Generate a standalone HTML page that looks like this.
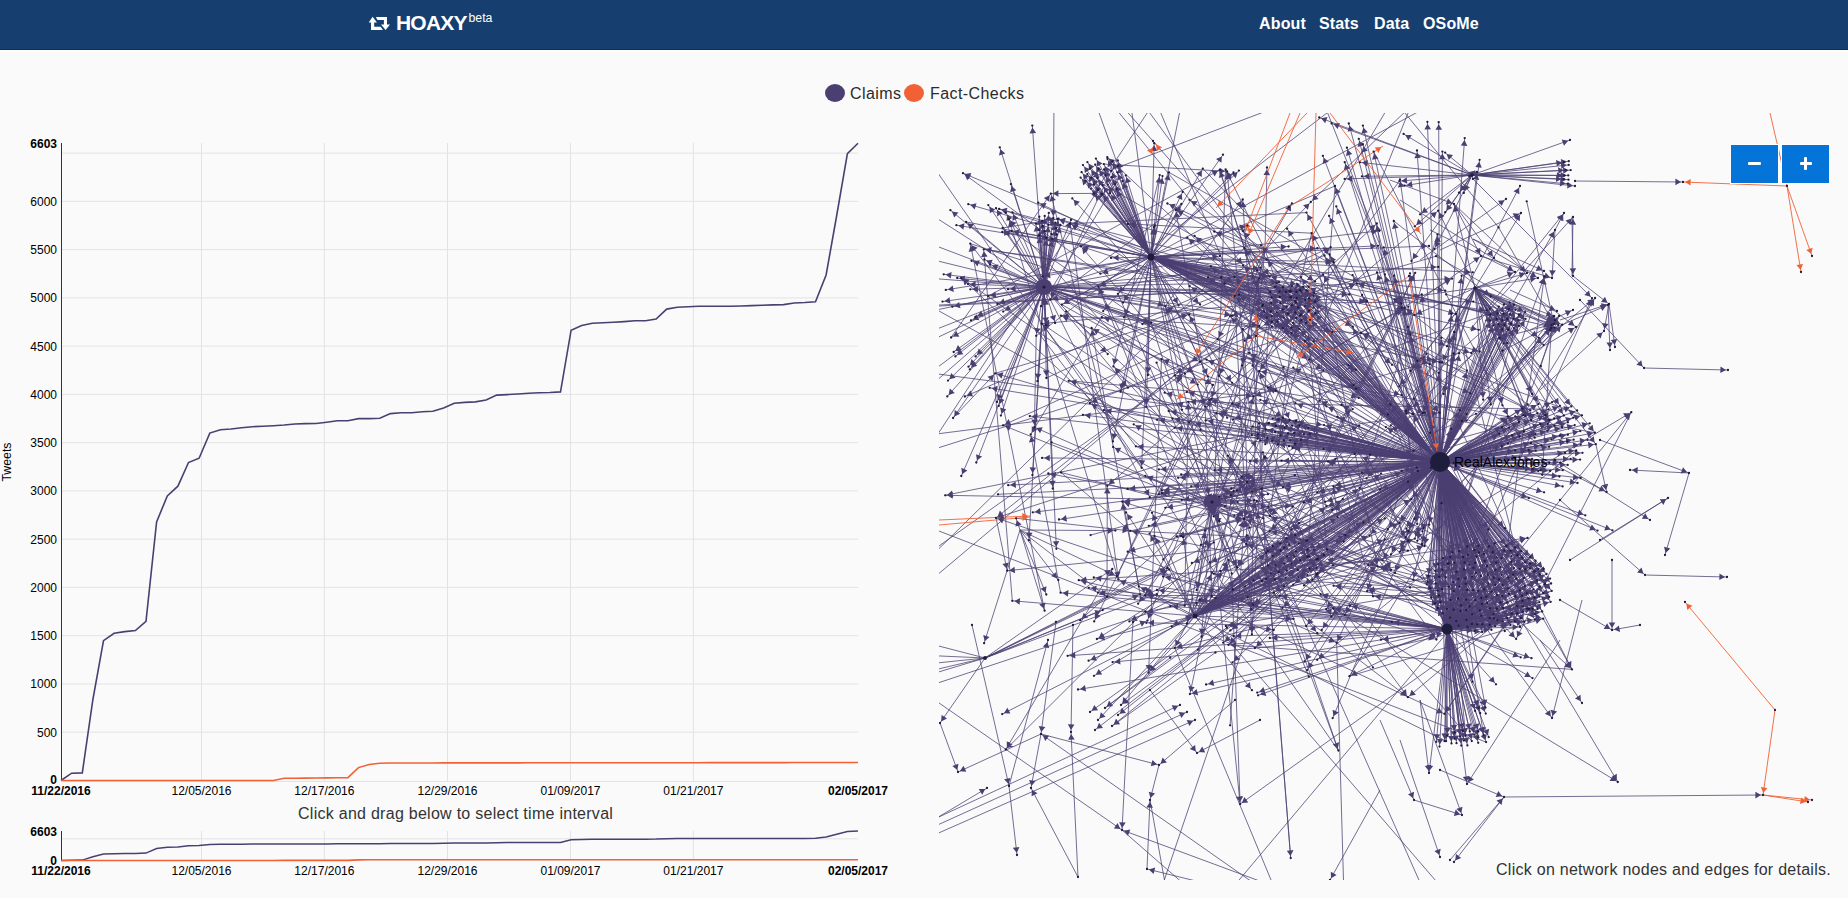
<!DOCTYPE html>
<html><head><meta charset="utf-8"><title>Hoaxy</title>
<style>
html,body{margin:0;padding:0;}
body{width:1848px;height:898px;overflow:hidden;background:#fafafa;font-family:"Liberation Sans",Arial,Helvetica,sans-serif;color:#333;position:relative;}
.abs{position:absolute;}
#nav{position:absolute;left:0;top:0;width:1848px;height:49px;background:#163f6f;border-bottom:1px solid #0b2d5b;}
#navline{position:absolute;left:0;top:50px;width:1848px;height:1px;background:#fff;}
.nl{position:absolute;top:15.3px;color:#fff;font-size:16px;font-weight:bold;letter-spacing:0.15px;white-space:nowrap;}
#brand{position:absolute;left:396px;top:10.5px;color:#fff;font-size:21px;font-weight:bold;white-space:nowrap;letter-spacing:-0.8px;}
#brand sup{font-size:12.3px;font-weight:normal;position:relative;top:0.5px;vertical-align:top;margin-left:1.8px;letter-spacing:0;}
.tk{font-size:12px;fill:#000;font-family:"Liberation Sans",Arial,sans-serif;}
.tk.b{font-weight:bold;}
.lg{position:absolute;top:84.8px;font-size:16px;color:#2b2b2b;white-space:nowrap;letter-spacing:0.42px;}
.dot{position:absolute;width:20px;height:18px;border-radius:50%;}
.btn{position:absolute;top:144px;width:47px;height:38px;background:#0474d8;border:1px solid #fff;}
.txt{position:absolute;font-size:16px;color:#333;white-space:nowrap;letter-spacing:0.27px;}
</style></head><body>
<div id="nav"></div><div id="navline"></div>
<svg class="abs" style="left:365px;top:12px" width="30" height="22" viewBox="0 0 30 22">
<path d="M3.7,10.5 L7.6,4.8 L12,10.5 H9.2 V14.7 H15.7 L17.9,17.9 H6 V10.5 Z M10.8,5 H22 V12.4 H25 L20.6,18.1 L16,12.4 H18.9 V8.1 H12.5 Z" fill="#fff"/>
</svg>
<div id="brand">HOAXY<sup>beta</sup></div>
<div class="nl" style="left:1259px">About</div>
<div class="nl" style="left:1319px">Stats</div>
<div class="nl" style="left:1374px">Data</div>
<div class="nl" style="left:1423px">OSoMe</div>
<div class="dot" style="left:825px;top:84px;background:#4b3f72"></div>
<div class="lg" style="left:850px">Claims</div>
<div class="dot" style="left:904px;top:84px;background:#f26135"></div>
<div class="lg" style="left:930px">Fact-Checks</div>
<svg class="abs" style="left:0;top:0" width="930" height="898">
<path d="M62,732.2H858M62,684.0H858M62,635.7H858M62,587.4H858M62,539.2H858M62,490.9H858M62,442.7H858M62,394.4H858M62,346.1H858M62,297.9H858M62,249.6H858M62,201.3H858M62,153.1H858M62,781.5H858M201.5,143V781M324.4,143V781M447.5,143V781M570.5,143V781M693.4,143V781" stroke="#e3e3e3" stroke-width="1" fill="none"/>
<text x="57" y="732.2" class="tk" text-anchor="end" dy=".37em">500</text>
<text x="57" y="684.0" class="tk" text-anchor="end" dy=".37em">1000</text>
<text x="57" y="635.7" class="tk" text-anchor="end" dy=".37em">1500</text>
<text x="57" y="587.4" class="tk" text-anchor="end" dy=".37em">2000</text>
<text x="57" y="539.2" class="tk" text-anchor="end" dy=".37em">2500</text>
<text x="57" y="490.9" class="tk" text-anchor="end" dy=".37em">3000</text>
<text x="57" y="442.7" class="tk" text-anchor="end" dy=".37em">3500</text>
<text x="57" y="394.4" class="tk" text-anchor="end" dy=".37em">4000</text>
<text x="57" y="346.1" class="tk" text-anchor="end" dy=".37em">4500</text>
<text x="57" y="297.9" class="tk" text-anchor="end" dy=".37em">5000</text>
<text x="57" y="249.6" class="tk" text-anchor="end" dy=".37em">5500</text>
<text x="57" y="201.3" class="tk" text-anchor="end" dy=".37em">6000</text>
<text x="57" y="143.5" class="tk b" text-anchor="end" dy=".37em">6603</text>
<text x="57" y="780" class="tk b" text-anchor="end" dy=".37em">0</text>
<path d="M61.5,143V781" stroke="#333" stroke-width="1"/>
<text x="61" y="795" class="tk b" text-anchor="middle">11/22/2016</text>
<text x="201.5" y="795" class="tk" text-anchor="middle">12/05/2016</text>
<text x="324.4" y="795" class="tk" text-anchor="middle">12/17/2016</text>
<text x="447.5" y="795" class="tk" text-anchor="middle">12/29/2016</text>
<text x="570.5" y="795" class="tk" text-anchor="middle">01/09/2017</text>
<text x="693.4" y="795" class="tk" text-anchor="middle">01/21/2017</text>
<text x="858" y="795" class="tk b" text-anchor="middle">02/05/2017</text>
<text transform="translate(11.2,462) rotate(-90)" class="tk" text-anchor="middle" style="font-size:12.3px">Tweets</text>
<polyline points="61.0,780.5 71.6,773.2 82.3,772.9 92.9,699.5 103.5,640.6 114.1,633.3 124.8,631.6 135.4,630.6 146.0,621.3 156.6,522.0 167.3,495.9 177.9,486.2 188.5,462.5 199.1,458.2 209.8,433.1 220.4,429.7 231.0,429.0 241.7,427.7 252.3,426.7 262.9,426.2 273.5,425.7 284.2,425.0 294.8,424.0 305.4,423.6 316.0,423.5 326.7,422.2 337.3,420.7 347.9,420.7 358.5,418.6 369.2,418.6 379.8,418.3 390.4,413.6 401.1,412.8 411.7,412.8 422.3,411.8 432.9,411.3 443.6,407.9 454.2,403.2 464.8,402.4 475.4,401.9 486.1,400.0 496.7,395.1 507.3,394.6 517.9,394.0 528.6,393.3 539.2,392.7 549.8,392.5 560.5,391.9 571.1,330.2 581.7,325.4 592.3,323.3 603.0,322.8 613.6,322.3 624.2,321.6 634.8,320.7 645.5,320.7 656.1,319.0 666.7,309.1 677.3,307.2 688.0,306.8 698.6,306.3 709.2,306.3 719.9,306.3 730.5,306.3 741.1,306.0 751.7,305.6 762.4,305.3 773.0,304.9 783.6,304.6 794.2,303.0 804.9,302.5 815.5,301.7 826.1,275.0 836.7,215.5 847.4,153.6 858.0,143.2" fill="none" stroke="#4b3f72" stroke-width="1.6"/>
<polyline points="61.0,780.5 71.6,780.5 82.3,780.5 92.9,780.5 103.5,780.5 114.1,780.5 124.8,780.5 135.4,780.5 146.0,780.5 156.6,780.5 167.3,780.5 177.9,780.5 188.5,780.5 199.1,780.5 209.8,780.5 220.4,780.5 231.0,780.5 241.7,780.5 252.3,780.5 262.9,780.5 273.5,780.5 284.2,778.3 294.8,778.2 305.4,778.1 316.0,778.0 326.7,777.9 337.3,777.8 347.9,777.6 358.5,767.6 369.2,764.5 379.8,763.3 390.4,763.0 401.1,763.0 411.7,763.0 422.3,763.0 432.9,763.0 443.6,762.9 454.2,762.9 464.8,762.9 475.4,762.9 486.1,762.9 496.7,762.9 507.3,762.9 517.9,762.9 528.6,762.8 539.2,762.8 549.8,762.8 560.5,762.8 571.1,762.8 581.7,762.8 592.3,762.8 603.0,762.8 613.6,762.7 624.2,762.7 634.8,762.7 645.5,762.7 656.1,762.7 666.7,762.7 677.3,762.7 688.0,762.7 698.6,762.7 709.2,762.6 719.9,762.6 730.5,762.6 741.1,762.6 751.7,762.6 762.4,762.6 773.0,762.6 783.6,762.6 794.2,762.5 804.9,762.5 815.5,762.5 826.1,762.5 836.7,762.5 847.4,762.5 858.0,762.5" fill="none" stroke="#f26135" stroke-width="1.6"/>
<path d="M62,838.8H858M201.5,831V860M324.4,831V860M447.5,831V860M570.5,831V860M693.4,831V860" stroke="#e3e3e3" stroke-width="1" fill="none"/>
<path d="M61.5,831V861" stroke="#333" stroke-width="1"/>
<text x="57" y="831.5" class="tk b" text-anchor="end" dy=".37em">6603</text>
<text x="57" y="860.5" class="tk b" text-anchor="end" dy=".37em">0</text>
<text x="61" y="875" class="tk b" text-anchor="middle">11/22/2016</text>
<text x="201.5" y="875" class="tk" text-anchor="middle">12/05/2016</text>
<text x="324.4" y="875" class="tk" text-anchor="middle">12/17/2016</text>
<text x="447.5" y="875" class="tk" text-anchor="middle">12/29/2016</text>
<text x="570.5" y="875" class="tk" text-anchor="middle">01/09/2017</text>
<text x="693.4" y="875" class="tk" text-anchor="middle">01/21/2017</text>
<text x="858" y="875" class="tk b" text-anchor="middle">02/05/2017</text>
<polyline points="61.0,860.5 71.6,860.2 82.3,860.1 92.9,856.8 103.5,854.0 114.1,853.7 124.8,853.6 135.4,853.6 146.0,853.1 156.6,848.5 167.3,847.3 177.9,846.9 188.5,845.8 199.1,845.6 209.8,844.4 220.4,844.3 231.0,844.2 241.7,844.2 252.3,844.1 262.9,844.1 273.5,844.1 284.2,844.0 294.8,844.0 305.4,844.0 316.0,844.0 326.7,843.9 337.3,843.8 347.9,843.8 358.5,843.7 369.2,843.7 379.8,843.7 390.4,843.5 401.1,843.5 411.7,843.5 422.3,843.4 432.9,843.4 443.6,843.3 454.2,843.0 464.8,843.0 475.4,843.0 486.1,842.9 496.7,842.7 507.3,842.6 517.9,842.6 528.6,842.6 539.2,842.6 549.8,842.5 560.5,842.5 571.1,839.7 581.7,839.4 592.3,839.3 603.0,839.3 613.6,839.3 624.2,839.3 634.8,839.2 645.5,839.2 656.1,839.1 666.7,838.7 677.3,838.6 688.0,838.6 698.6,838.6 709.2,838.6 719.9,838.6 730.5,838.6 741.1,838.5 751.7,838.5 762.4,838.5 773.0,838.5 783.6,838.5 794.2,838.4 804.9,838.4 815.5,838.3 826.1,837.1 836.7,834.3 847.4,831.5 858.0,831.0" fill="none" stroke="#4b3f72" stroke-width="1.5"/>
<polyline points="61.0,860.5 71.6,860.5 82.3,860.5 92.9,860.5 103.5,860.5 114.1,860.5 124.8,860.5 135.4,860.5 146.0,860.5 156.6,860.5 167.3,860.5 177.9,860.5 188.5,860.5 199.1,860.5 209.8,860.5 220.4,860.5 231.0,860.5 241.7,860.5 252.3,860.5 262.9,860.5 273.5,860.5 284.2,860.4 294.8,860.4 305.4,860.4 316.0,860.4 326.7,860.4 337.3,860.4 347.9,860.4 358.5,859.9 369.2,859.8 379.8,859.7 390.4,859.7 401.1,859.7 411.7,859.7 422.3,859.7 432.9,859.7 443.6,859.7 454.2,859.7 464.8,859.7 475.4,859.7 486.1,859.7 496.7,859.7 507.3,859.7 517.9,859.7 528.6,859.7 539.2,859.7 549.8,859.7 560.5,859.7 571.1,859.7 581.7,859.7 592.3,859.7 603.0,859.7 613.6,859.7 624.2,859.7 634.8,859.7 645.5,859.7 656.1,859.7 666.7,859.7 677.3,859.7 688.0,859.7 698.6,859.7 709.2,859.7 719.9,859.7 730.5,859.7 741.1,859.7 751.7,859.7 762.4,859.7 773.0,859.7 783.6,859.7 794.2,859.7 804.9,859.7 815.5,859.7 826.1,859.7 836.7,859.7 847.4,859.7 858.0,859.7" fill="none" stroke="#f26135" stroke-width="1.6"/>
</svg>
<div class="txt" style="left:298px;top:805.3px">Click and drag below to select time interval</div>
<svg class="abs" style="left:0;top:0" width="1848" height="898">
<defs><clipPath id="nc"><rect x="939" y="113" width="909" height="767"/></clipPath></defs>
<g clip-path="url(#nc)">
<path d="M1440 462L1465.3 578.3M1440 462L1439 595.5M1440 462L1496.7 608.7M1440 462L1477.2 624.4M1440 462L1504.8 631.1M1440 462L1515.4 596.5M1440 462L1537.6 608.9M1440 462L1460.6 611M1440 462L1466 599.7M1440 462L1458 598.5M1440 462L1534.6 614.2M1440 462L1467.8 554.8M1440 462L1519.7 569M1440 462L1446.8 608.8M1440 462L1533.6 589.3M1440 462L1453.3 582.2M1440 462L1543.2 593.2M1440 462L1496.8 594.9M1440 462L1484.8 561.1M1440 462L1464.6 562.6M1440 462L1430.1 588.4M1440 462L1467.6 626.9M1440 462L1508.5 588.5M1440 462L1526.9 593.3M1440 462L1546.5 574M1440 462L1501.7 574.8M1440 462L1474.5 549.9M1440 462L1510.7 550.7M1440 462L1507.2 602.7M1440 462L1508.4 577.3M1440 462L1481.3 598M1440 462L1439.3 576.8M1440 462L1542.2 611.5M1440 462L1532.7 608.6M1440 462L1495.4 584.8M1440 462L1450.3 557.1M1440 462L1500.5 567.3M1440 462L1482.4 624.2M1440 462L1445.7 577.4M1440 462L1458.7 625.6M1440 462L1475.2 562.9M1440 462L1522.9 611.9M1440 462L1487 566M1440 462L1486.3 596.7M1440 462L1550.7 601.8M1440 462L1473.4 567.8M1440 462L1496.3 557.6M1440 462L1551.1 583.5M1440 462L1528.4 598.3M1440 462L1472 576.6M1440 462L1488.9 546.3M1440 462L1467.2 546.5M1440 462L1483.9 553.8M1440 462L1459 551.3M1440 462L1507.1 618M1440 462L1459.6 586.5M1440 462L1467.2 589.9M1440 462L1448.7 563.5M1440 462L1539.6 586.5M1440 462L1524.8 585.9M1440 462L1495.1 626.1M1440 462L1453.5 609.7M1440 462L1524.3 621.8M1440 462L1538.6 569M1440 462L1523.9 577.8M1440 462L1525.1 569.5M1440 462L1511.8 613.6M1440 462L1543.7 569M1440 462L1497.5 620.2M1440 462L1549.1 596.9M1440 462L1463.1 557.2M1440 462L1506.3 545.9M1440 462L1498.9 579.4M1440 462L1480.9 576M1440 462L1469.4 564.7M1440 462L1502.6 584.9M1440 462L1534.8 619.7M1440 462L1521.3 550.9M1440 462L1482.2 632M1440 462L1481.3 615.7M1440 462L1437.9 608M1440 462L1534.6 597.5M1440 462L1488.5 583.5M1440 462L1454.4 562.8M1440 462L1522.6 557.7M1440 462L1458.3 578.8M1440 462L1435.2 570.8M1440 462L1487.8 574.8M1440 462L1517.2 613.4M1440 462L1481.9 603.9M1440 462L1489.7 624.8M1440 462L1478.6 545.8M1440 462L1491.5 629.8M1440 462L1522.9 606.7M1440 462L1535.5 560.7M1440 462L1489.8 618M1440 462L1516.1 578.7M1440 462L1500.4 602.4M1440 462L1456.4 571.8M1440 462L1534.4 571.5M1440 462L1495.4 569.7M1440 462L1530.3 557.4M1440 462L1492.7 552.2M1440 462L1472.2 614.3M1440 462L1440.4 602.2M1440 462L1539.6 596.7M1440 462L1501.4 558.3M1440 462L1479.7 610.4M1440 462L1450 617.6M1440 462L1493.4 613.8M1440 462L1520.1 627M1440 462L1465.8 583.8M1440 462L1519.9 590.4M1440 462L1476.4 556.7M1440 462L1515.1 547.6M1440 462L1431.2 597.7M1440 462L1514 568.1M1440 462L1517.4 555M1440 462L1511.6 556.2M1440 462L1540 574.3M1440 462L1442.2 589.2M1440 462L1502.1 596.1M1440 462L1442.9 613.3M1440 462L1479.1 552.5M1440 462L1496.2 562.6M1440 462L1509 593.9M1440 462L1442.5 569.7M1440 462L1428.5 575.9M1440 462L1453.8 591.1M1440 462L1491.7 591.7M1440 462L1493.6 577.5M1440 462L1524.9 562.3M1440 462L1484.1 589.4M1440 462L1464.1 569.4M1440 462L1537.3 580.4M1440 462L1476 572.9M1440 462L1475.4 600.1M1440 462L1513.2 574.6M1440 462L1551.7 590.9M1440 462L1466.2 610.1M1440 462L1427.6 582.1M1440 462L1544.9 583.9M1440 462L1527.4 608.6M1440 462L1503.3 608M1440 462L1452.3 552.4M1440 462L1461 605.3M1440 462L1471.9 623.9M1440 462L1522.1 595.8M1440 462L1435 603.4M1440 462L1435.7 583.3M1440 462L1469.5 606.4M1440 462L1487.3 603.1M1440 462L1473 590.1M1440 462L1437.5 590.6M1440 462L1502.8 621.4M1440 462L1474.6 630.8M1447 629L1465.3 578.3M1447 629L1550.1 578.6M1447 629L1439 595.5M1447 629L1496.7 608.7M1447 629L1477.2 624.4M1447 629L1537.6 608.9M1447 629L1460.6 611M1447 629L1466.5 619.9M1447 629L1466 599.7M1447 629L1458 598.5M1447 629L1467.8 554.8M1447 629L1519.7 569M1447 629L1446.8 608.8M1447 629L1533.6 589.3M1447 629L1453.3 582.2M1447 629L1543.2 593.2M1447 629L1496.8 594.9M1447 629L1520.9 618.2M1447 629L1484.8 561.1M1447 629L1464.6 562.6M1447 629L1430.1 588.4M1447 629L1467.6 626.9M1447 629L1508.5 588.5M1447 629L1526.9 593.3M1447 629L1546.5 574M1447 629L1501.7 574.8M1447 629L1474.5 549.9M1447 629L1510.7 550.7M1447 629L1507.2 602.7M1447 629L1504.5 550.7M1447 629L1508.4 577.3M1447 629L1439.3 576.8M1447 629L1542.2 611.5M1447 629L1490 608.3M1447 629L1532.7 608.6M1447 629L1450.3 557.1M1447 629L1500.5 567.3M1447 629L1482.4 624.2M1447 629L1445.7 577.4M1447 629L1458.7 625.6M1447 629L1475.2 562.9M1447 629L1522.9 611.9M1447 629L1487 566M1447 629L1450.4 600M1447 629L1486.3 596.7M1447 629L1550.7 601.8M1447 629L1473.4 567.8M1447 629L1496.3 557.6M1447 629L1551.1 583.5M1447 629L1528.4 598.3M1447 629L1472 576.6M1447 629L1488.9 546.3M1447 629L1539.3 602.1M1447 629L1467.2 546.5M1447 629L1459 551.3M1447 629L1478.2 590.8M1447 629L1507.1 618M1447 629L1459.6 586.5M1447 629L1438.3 564.1M1447 629L1530 568.6M1447 629L1467.2 589.9M1447 629L1448.7 563.5M1447 629L1524.8 585.9M1447 629L1495.1 626.1M1447 629L1453.5 609.7M1447 629L1524.3 621.8M1447 629L1538.6 569M1447 629L1523.9 577.8M1447 629L1525.1 569.5M1447 629L1511.8 613.6M1447 629L1543.7 569M1447 629L1510.5 625M1447 629L1497.5 620.2M1447 629L1549.1 596.9M1447 629L1463.1 557.2M1447 629L1506.3 545.9M1447 629L1443 558.1M1447 629L1498.9 579.4M1447 629L1480.9 576M1447 629L1469.4 564.7M1447 629L1502.6 584.9M1447 629L1534.8 619.7M1447 629L1521.3 550.9M1447 629L1482.2 632M1447 629L1481.3 615.7M1447 629L1437.9 608M1447 629L1534.6 597.5M1447 629L1488.5 583.5M1447 629L1454.4 562.8M1447 629L1522.6 557.7M1447 629L1458.3 578.8M1447 629L1435.2 570.8M1447 629L1487.8 574.8M1447 629L1517.2 613.4M1447 629L1481.9 603.9M1447 629L1489.7 624.8M1447 629L1478.6 545.8M1447 629L1491.5 629.8M1447 629L1530.3 563.4M1447 629L1522.9 606.7M1447 629L1535.5 560.7M1447 629L1489.8 618M1447 629L1516.1 578.7M1447 629L1456.4 571.8M1447 629L1534.4 571.5M1447 629L1495.4 569.7M1447 629L1530.3 557.4M1447 629L1492.7 552.2M1447 629L1472.2 614.3M1447 629L1440.4 602.2M1447 629L1539.6 596.7M1447 629L1479.7 610.4M1447 629L1450 617.6M1447 629L1493.4 613.8M1447 629L1520.1 627M1447 629L1465.8 583.8M1447 629L1519.9 590.4M1447 629L1476.4 556.7M1447 629L1522.5 601M1447 629L1515.1 547.6M1447 629L1431.2 597.7M1447 629L1514 568.1M1447 629L1517.4 555M1447 629L1540 574.3M1447 629L1442.2 589.2M1447 629L1502.1 596.1M1447 629L1442.9 613.3M1447 629L1509 593.9M1447 629L1442.5 569.7M1447 629L1494.8 543.6M1447 629L1428.5 575.9M1447 629L1453.8 591.1M1447 629L1491.7 591.7M1447 629L1524.9 562.3M1447 629L1484.1 589.4M1447 629L1464.1 569.4M1447 629L1537.3 580.4M1447 629L1476 572.9M1447 629L1475.4 600.1M1447 629L1513.2 574.6M1447 629L1551.7 590.9M1447 629L1466.2 610.1M1447 629L1427.6 582.1M1447 629L1511.5 561.7M1447 629L1514.9 621.3M1447 629L1527.4 608.6M1447 629L1503.3 608M1447 629L1452.3 552.4M1447 629L1461 605.3M1447 629L1456.2 621.1M1447 629L1471.9 623.9M1447 629L1522.1 595.8M1447 629L1435 603.4M1447 629L1469.5 606.4M1447 629L1487.3 603.1M1447 629L1473 590.1M1447 629L1437.5 590.6M1447 629L1502.8 621.4M1447 629L1474.6 630.8M1447 629L1474.2 734.7M1447 629L1486.1 742.1M1447 629L1471.8 741.1M1447 629L1461.3 745.6M1447 629L1447.3 735.6M1447 629L1462.7 730.9M1447 629L1454.5 732.5M1447 629L1451.5 743.4M1447 629L1465.6 735.8M1447 629L1478.2 742.8M1447 629L1478.4 737.5M1447 629L1460 736.6M1447 629L1467.4 745.4M1447 629L1483.6 735M1447 629L1446.1 741.1M1447 629L1454.4 738.7M1447 629L1478.3 731.4M1447 629L1469.8 731.4M1447 629L1488.7 737.1M1447 629L1463.9 740.6M1447 629L1456.5 743.2M1447 629L1478.7 707.8M1447 629L1485.5 707.6M1447 629L1485.8 713.6M1447 629L1480.2 713.1M1447 629L1475.1 710.9M1447 629L1444.5 741.2M1447 629L1439.5 746.6M1447 629L1436.3 741.8M1440 462L1451.5 743.4M1440 462L1465.6 735.8M1440 462L1460 736.6M1440 462L1483.6 735M1440 462L1446.1 741.1M1440 462L1485.5 707.6M1440 462L1547.4 430.7M1440 462L1547.7 423.9M1440 462L1562.1 427.3M1440 462L1535.2 434.1M1440 462L1519.5 457.5M1440 462L1582 415.3M1440 462L1515.2 450.3M1440 462L1540.3 424M1440 462L1538.6 463.8M1440 462L1545.4 415.2M1440 462L1580.3 431.1M1440 462L1532.1 458.9M1440 462L1528.5 450.1M1440 462L1565.1 452.9M1440 462L1530.3 410.4M1440 462L1560 405.8M1440 462L1538.5 403.9M1440 462L1567.7 464.9M1440 462L1551.7 439.3M1440 462L1541.4 445.3M1440 462L1580.7 444.6M1440 462L1548.6 409.4M1440 462L1549.3 463M1440 462L1567.1 441.4M1440 462L1560.2 462.7M1440 462L1535.8 450.7M1440 462L1515.3 416.3M1440 462L1531 443.2M1440 462L1587.6 439.9M1440 462L1523.6 467.2M1440 462L1571.4 406.4M1440 462L1550.1 470.9M1440 462L1589.7 423.3M1440 462L1512 458.7M1440 462L1576.2 450.5M1440 462L1523.2 415.1M1440 462L1554.2 418.4M1440 462L1509.1 427.6M1440 462L1567.9 434.7M1440 462L1580.1 459.6M1440 462L1508 443.4M1440 462L1519.5 436.6M1440 462L1552.1 402.1M1440 462L1563.9 415.5M1440 462L1562.8 470.2M1440 462L1595.8 444.2M1440 462L1502.1 427.1M1440 462L1540.5 470.2M1440 462L1507.7 416.3M1440 462L1582.5 452.8M1440 462L1570.7 458.9M1440 462L1527.7 404.5M1440 462L1554.5 425.7M1440 462L1567.9 422.3M1440 462L1531.2 420M1440 462L1519 421.9M1440 462L1524 431.5M1440 462L1573.3 417.6M1440 462L1512.1 435.1M1440 462L1522.3 408.6M1440 462L1594.9 432.7M1440 462L1499.3 433.8M1440 462L1577.1 410.5M1440 462L1537.3 413.2M1440 462L1559.8 435.5M1440 462L1532.6 469M1440 462L1573.7 439.7M1440 462L1501.8 446.6M1440 462L1574.7 425.1M1440 462L1549.1 446.8M1475 288L1547.7 423.9M1475 288L1562.1 427.3M1475 288L1560 405.8M1475 288L1538.5 403.9M1475 288L1571.4 406.4M1475 288L1563.9 415.5M1475 288L1595.8 444.2M1475 288L1531.2 420M1475 288L1594.9 432.7M1440 462L1298.1 307.5M1440 462L1283.1 328.1M1440 462L1305.3 300M1440 462L1270.3 291.9M1440 462L1282.7 309.6M1440 462L1315 301.7M1440 462L1271.6 297.4M1440 462L1304.9 306.1M1440 462L1263 304.8M1440 462L1301.5 314.3M1440 462L1295.1 301.1M1440 462L1279.5 291.7M1440 462L1291.5 332.8M1440 462L1280.4 303.2M1440 462L1283.8 317.4M1440 462L1287.9 313.7M1440 462L1282.9 287.2M1440 462L1297.8 284.3M1440 462L1270.8 311.5M1440 462L1303.1 286.9M1440 462L1279.8 297M1440 462L1271.8 316.4M1440 462L1315.1 313.2M1440 462L1264.1 311.7M1440 462L1292 286.1M1440 462L1290.8 291.5M1440 462L1293 322.9M1440 462L1277.5 321.6M1440 462L1301.6 291.7M1440 462L1309 310.9M1440 462L1275.1 286.9M1440 462L1306.1 322.8M1440 462L1313.4 296M1440 462L1310.1 319.8M1440 462L1299.5 328.9M1440 462L1271.2 302.8M1440 462L1313.6 307.5M1440 462L1285.8 292M1440 462L1291.8 305.3M1440 462L1276.7 312.4M1440 462L1286.6 306.4M1440 462L1306.8 290.3M1440 462L1291.2 327.7M1440 462L1296.2 318.1M1440 462L1266.6 317.8M1440 462L1296.5 291.9M1440 462L1271.9 321.8M1151 257L1298.1 307.5M1151 257L1283.1 328.1M1151 257L1305.3 300M1151 257L1282.7 309.6M1151 257L1315 301.7M1151 257L1263 304.8M1151 257L1295.1 301.1M1151 257L1291.5 332.8M1151 257L1280.4 303.2M1151 257L1283.8 317.4M1151 257L1287.9 313.7M1151 257L1297.8 284.3M1151 257L1303.1 286.9M1151 257L1271.8 316.4M1151 257L1264.1 311.7M1151 257L1293 322.9M1151 257L1301.6 291.7M1151 257L1313.4 296M1151 257L1310.1 319.8M1151 257L1299.5 328.9M1151 257L1313.6 307.5M1151 257L1285.8 292M1151 257L1276.7 312.4M1151 257L1306.8 290.3M1151 257L1291.2 327.7M1151 257L1266.6 317.8M1151 257L1296.5 291.9M1440 462L1286.9 556.3M1440 462L1272.7 546M1440 462L1296 551.6M1440 462L1272.6 556M1440 462L1293.2 584.6M1440 462L1268 565.6M1440 462L1309.6 568.5M1440 462L1266.3 553.2M1440 462L1286.8 570.4M1440 462L1317.8 559M1440 462L1300.3 560.2M1440 462L1280.3 543.3M1440 462L1295.2 535.2M1440 462L1314.3 549.7M1440 462L1284.3 563.5M1440 462L1304 585.4M1440 462L1306.3 540.8M1440 462L1309.2 556.4M1440 462L1316.6 567.9M1440 462L1289.3 544.5M1440 462L1280.7 550.7M1440 462L1270.5 573.3M1440 462L1298.5 577.3M1440 462L1312.3 579.8M1440 462L1278.8 571.9M1440 462L1275.7 565.4M1440 462L1316.7 574.5M1440 462L1307.4 549.3M1440 462L1291.6 563.6M1440 462L1286.4 538.2M1440 462L1285.8 577.6M1195 616L1286.9 556.3M1195 616L1272.7 546M1195 616L1296 551.6M1195 616L1268 565.6M1195 616L1309.6 568.5M1195 616L1266.3 553.2M1195 616L1286.8 570.4M1195 616L1317.8 559M1195 616L1275 579.5M1195 616L1297.8 570M1195 616L1300.3 560.2M1195 616L1280.3 543.3M1195 616L1295.2 535.2M1195 616L1284.3 563.5M1195 616L1309.2 556.4M1195 616L1316.6 567.9M1195 616L1289.3 544.5M1195 616L1280.7 550.7M1195 616L1278.8 571.9M1195 616L1275.7 565.4M1195 616L1291.6 563.6M1195 616L1285.8 577.6M1195 616L1307.5 574.9M1440 462L1275.1 432M1440 462L1294.3 432.9M1440 462L1268.1 423.2M1440 462L1259 423.6M1440 462L1280.5 435.6M1440 462L1272.7 418.7M1440 462L1258 434.3M1440 462L1251.9 435.1M1440 462L1299.5 425.4M1440 462L1308.3 428.1M1440 462L1292.1 425.6M1440 462L1278.3 419.3M1440 462L1288 433.2M1440 462L1304 434.1M1440 462L1267.3 438M1440 462L1294.9 443.9M1440 462L1284.6 427.9M1440 462L1260.5 440.4M1440 462L1272.1 440.8M1440 462L1296 421M1440 462L1265.7 429.4M1440 462L1300.9 439.9M1440 462L1290.4 440.3M1440 462L1276.1 426M1440 462L1253 426.7M1440 462L1277.7 444.4M1440 462L1289.6 420M1440 462L1309.6 433.7M1440 462L1519 314.5M1440 462L1513.9 328.1M1440 462L1498.8 306.7M1440 462L1525.5 318.9M1440 462L1508.8 309.1M1440 462L1515.5 309.8M1440 462L1490.2 314.6M1440 462L1510.1 314.1M1440 462L1503.6 313.8M1440 462L1504 304.4M1440 462L1504.5 324.8M1440 462L1513.5 318.5M1440 462L1498.4 324.2M1440 462L1493.3 325.3M1440 462L1489.7 308.6M1440 462L1502.3 320.3M1440 462L1525.1 312.1M1440 462L1490.3 320.4M1440 462L1497.6 313.5M1440 462L1508.1 329.7M1440 462L1511.1 323.7M1440 462L1507.2 318.9M1440 462L1518.7 320.3M1440 462L1509.6 302.6M1440 462L1502.1 329.4M1440 462L1514.1 304.7M1440 462L1519 325.9M1475 288L1525.5 318.9M1475 288L1515.5 309.8M1475 288L1525.1 312.1M1475 288L1508.1 329.7M1475 288L1511.1 323.7M1475 288L1507.2 318.9M1475 288L1496.8 318.8M1151 257L1102 194M1151 257L1095.2 164.7M1151 257L1104.1 169.5M1151 257L1111.7 177.2M1151 257L1087.4 162.1M1151 257L1111.2 170.9M1151 257L1091.2 177.6M1151 257L1117.8 160.5M1151 257L1081.6 172.2M1151 257L1115.2 184.2M1151 257L1107.5 159M1151 257L1097.3 178.1M1151 257L1102.6 185.2M1151 257L1122.5 181M1151 257L1093.9 193.4M1151 257L1103.8 164.1M1151 257L1090.8 188.6M1151 257L1087.3 174.1M1151 257L1107.7 184.6M1151 257L1085.7 180.6M1151 257L1110.1 193.1M1151 257L1095.9 158.6M1151 257L1105.3 175.1M1151 257L1112.6 161.3M1151 257L1117.9 165.8M1151 257L1098.7 168.5M1151 257L1080.6 177.6M1151 257L1125.8 175.4M1151 257L1090.1 168.4M1151 257L1083 165.1M1151 257L1117.3 172.3M1151 257L1116.3 189.2M1151 257L1093.9 184.6M1151 257L1098.2 190M1044 287L1053.3 217.9M1044 287L1044.8 231.1M1044 287L1048.4 224.7M1044 287L1048.8 212.9M1044 287L1055.3 222.7M1044 287L1051.4 234M1044 287L1044.7 216M1044 287L1039.1 229.8M1044 287L1035.9 223.7M1044 287L1039.3 216.7M1044 287L1056.1 228.2M1044 287L1039.2 235.3M1044 287L1056.9 234.3M1044 287L1046.2 238M1044 287L1042.8 226.2M1044 287L1058.6 218.6M1044 287L1060.4 225M1044 287L1042.2 221M1044 287L1052.4 239.1M1472 175L1567.6 183.8M1472 175L1563.6 179M1472 175L1565.8 170.1M1472 175L1570.7 170.1M1472 175L1568.7 164.9M1472 175L1568.3 175.4M1472 175L1564 162.2M1472 175L1568.5 179.7M1472 175L1568.8 161.2M1472 175L1564.5 175.5M1475 288L1554.4 327.6M1440 462L1558.2 325.1M1475 288L1558.2 325.1M1440 462L1553.9 316M1475 288L1553.9 316M1440 462L1559.1 315.9M1440 462L1551.3 328M1475 288L1551.3 328M1440 462L1562.2 324.7M1475 288L1562.2 324.7M1440 462L1554.9 320.2M1475 288L1554.9 320.2M1440 462L1551.6 325M1212 502L1267.9 494.2M1212 502L1224.9 506.1M1212 502L1249.4 527.5M1212 502L1268.4 506.8M1212 502L1252.1 491.6M1212 502L1263.3 518.3M1212 502L1230.8 495.2M1212 502L1219.3 520.9M1212 502L1231.4 488.5M1212 502L1237.7 502.1M1212 502L1210.5 500.9M1212 502L1254.4 500.2M1212 502L1261.6 488.7M1212 502L1219.2 496.7M1440 462L1437.5 234.3M1440 462L1373.7 151.6M1440 462L1421.8 294.3M1440 462L1377 272.4M1440 462L1306.5 212.6M1440 462L1336.3 206.4M1440 462L1410 273.3M1440 462L1394.1 275.7M1440 462L1358.8 138.8M1440 462L1383.7 247.3M1440 462L1427.4 121.8M1440 462L1344.7 162.1M1440 462L1384.9 274.4M1440 462L1348.8 123.5M1440 462L1461.6 275.8M1440 462L1438.7 122.2M1440 462L1346.9 147.7M1440 462L1464.7 138.1M1440 462L1322.9 155.8M1440 462L1442.4 151.6M1440 462L1477 172M1440 462L1417 150.5M1440 462L1352.6 275.1M1440 462L1479.6 159.8M1440 462L1362.9 125.6M1440 462L1335 186M1440 462L1393.8 221M1440 462L1362.9 144.2M1440 462L1400 179.5M1440 462L1362.1 295M1440 462L1174.8 427.8M1440 462L1390.4 404.4M1440 462L1161.5 359.2M1440 462L1323.5 448.9M1440 462L1209.5 400.1M1440 462L1168.7 411M1440 462L1341.5 404.9M1440 462L1348.5 365.1M1440 462L1319.8 400.6M1440 462L1304.9 340.9M1440 462L1268.9 423M1440 462L1216.2 413.1M1440 462L1164.7 392.7M1440 462L1385.9 427.1M1440 462L1281.5 460.7M1440 462L1326.5 406.3M1440 462L1250 461.1M1440 462L1295.4 403.1M1440 462L1249.1 352.9M1440 462L1205.7 420.4M1440 462L1289 446.2M1440 462L1267.8 387.7M1440 462L1293.3 367.7M1440 462L1390.8 425.3M1440 462L1232.2 403.7M1440 462L1361.8 472.6M1440 462L1328 461.6M1440 462L1353.6 385.1M1440 462L1260.3 399.8M1440 462L1172.5 418.7M1440 462L1292.5 448.1M1440 462L1241.6 476.6M1440 462L1337.3 416.8M1440 462L1214.6 470.1M1440 462L1324 425.1M1440 462L1206.5 359.7M1440 462L1161.8 493M1440 462L1165.3 507.8M1440 462L1178.1 477.8M1440 462L1032.8 512.3M1440 462L1181.2 474.5M1440 462L1127.6 488.9M1440 462L1029.8 416.1M1440 462L1103.9 410.1M1440 462L1059 519.5M1440 462L1042.1 457.9M1440 462L1191.2 486.3M1440 462L1082.9 414.8M1440 462L1135.9 446.3M1440 462L1127.7 551.7M1440 462L1157.1 419.8M1440 462L1181.8 499.8M1440 462L989.7 387.8M1440 462L1008.2 485.2M1440 462L1068.7 380.8M1440 462L1186.9 392M1440 462L1158.8 469.4M1440 462L1148.8 525.8M1440 462L1321.7 629.9M1440 462L1317.7 573.2M1440 462L1273.9 592.8M1440 462L1209.7 562.4M1440 462L1177 536.4M1440 462L1223.2 642.7M1440 462L1191.9 563M1440 462L1161.9 490.4M1440 462L1253.3 580.4M1440 462L1254.9 648M1440 462L1245.2 586.4M1440 462L1325.2 501.8M1440 462L1303.9 502.5M1440 462L1326.2 609.2M1440 462L1306.2 626M1440 462L1158.9 494.3M1440 462L1233.6 491.1M1440 462L1332.2 510M1440 462L1196.4 603.3M1440 462L1171.7 626.3M1440 462L1220.4 571.1M1440 462L1317.3 492.4M1440 462L1201 544.8M1440 462L1291.5 529.6M1440 462L1234.3 515.3M1440 462L1267.8 551.2M1440 462L1230.4 630.4M1440 462L1129.4 621.4M1440 462L1344.7 614.8M1440 462L1304.6 661.4M1440 462L1307.1 670.1M1440 462L1332.7 718.1M1440 462L1282.4 607.9M1440 462L1252.9 604.7M1440 462L1232.5 662.3M1440 462L1094 675.8M1440 462L1544.1 492.3M1440 462L1612.4 530.3M1440 462L1504.9 528.2M1440 462L1597.5 530.6M1440 462L1538.3 471.1M1440 462L1577.5 483M1440 462L1580.7 478M1440 462L1559.4 476.5M1440 462L1562.6 486.4M1440 462L1488.2 529.4M1440 462L1585.3 515.3M1440 462L1528.8 498.2M1440 462L1406.4 528.7M1440 462L1390.9 554.4M1440 462L1382.5 560.3M1440 462L1413.3 579.8M1440 462L1422.4 531.3M1440 462L1414.4 518.8M1440 462L1395 572.9M1440 462L1399.9 551.8M1440 462L1380.4 489.5M1440 462L1422 544M1440 462L1417.3 540.8M1440 462L1387.9 529.1M1440 462L1405.8 537.1M1440 462L1429.2 524.7M1440 462L1234.7 296M1440 462L1243.1 265.3M1440 462L1329.1 215.9M1440 462L1239.1 294.7M1440 462L1234.5 277.1M1440 462L1296.7 297.9M1440 462L1194.6 235.9M1440 462L1311.6 233.2M1440 462L1208.1 277.4M1440 462L1210.9 266.5M1440 462L1300.9 277.1M1440 462L1287.1 228.7M1440 462L1266.4 259.6M1440 462L1221 277.5M1440 462L1314.2 292.7M1440 462L1257.1 270.4M1440 462L1324.5 255.5M1440 462L1242.9 231M1440 462L1189.7 286.2M1440 462L1329.6 254.5M1440 462L1299.9 289.9M1440 462L1187.3 237.7M1440 462L1441.3 337.8M1440 462L1414 398.6M1440 462L1417.3 360.8M1440 462L1451.4 313.9M1440 462L1454.1 332M1440 462L1459.7 410M1440 462L1451.2 428.7M1440 462L1466.6 414.1M1440 462L1412.9 413.9M1440 462L1407.9 326.9M1440 462L1459.2 353.2M1440 462L1454.4 332.3M1440 462L1408.3 306.6M1440 462L1461.9 421.1M1440 462L1467 370.7M1440 462L1453.7 353.5M1440 462L1410.4 334.6M1440 462L1438.8 372.9M1447 629L1320.6 594.1M1447 629L1060.6 592.7M1447 629L1199.7 599.7M1447 629L1215.6 597.8M1447 629L1279.6 595.7M1447 629L1213.9 573.8M1447 629L1257.2 692.6M1447 629L1333.2 608.5M1447 629L1349.4 676.2M1447 629L1206.1 684.5M1447 629L1093.8 577.5M1447 629L1349.9 605.7M1447 629L1112.6 662.1M1447 629L1163.1 576.5M1447 629L1170.3 606.1M1447 629L1261.9 581M1447 629L1380.9 639.7M1447 629L1146.3 622.8M1447 629L1368.2 565.2M1447 629L1157 590M1447 629L1258.1 695.3M1447 629L1233.6 636.1M1447 629L1067.6 655.8M1447 629L1088.8 587.8M1447 629L1269.8 638M1447 629L1097.9 592.6M1447 629L1078 689.5M1447 629L1391.8 621.8M1447 629L1520.7 657.3M1447 629L1496 684.3M1447 629L1532.5 678.1M1447 629L1531.5 658.2M1044 287L950.4 210.2M1044 287L968 284.1M1044 287L969.8 369.3M1044 287L955.4 356.4M1044 287L971.5 260.8M1044 287L1008 289.2M1044 287L975.6 356.4M1044 287L951.1 337.5M1044 287L943.7 274.3M1044 287L970.3 289.3M1044 287L947.3 396.4M1044 287L953.7 352M1044 287L948 380.6M1044 287L984.4 259.5M1044 287L971 320.4M1044 287L942.5 301.6M1044 287L957.2 278M1044 287L1006 212.7M1044 287L966.1 221.9M1044 287L997.4 304M1044 287L968.5 366.7M1044 287L998.7 405.9M1044 287L1002.6 228M1044 287L975.4 316.8M1044 287L990.2 264.6M1044 287L952.3 306.7M1044 287L1000.9 415.6M1044 287L988.3 205.1M1044 287L988.3 296.1M1044 287L997 401.9M1044 287L1401.5 395.2M1044 287L1275.9 390.7M1044 287L1388 414.4M1044 287L1358.7 397.9M1044 287L1260.6 267.7M1044 287L1438.3 266.9M1044 287L1151.2 322.7M1044 287L1412.4 413.8M1044 287L1289.5 291.2M1044 287L1212.9 385M1044 287L1278.9 282M1044 287L1291.1 297.1M1044 287L1424.8 412.6M1044 287L1439.7 362.2M1044 287L1367 301.4M1044 287L1349.2 294.6M1044 287L1197.7 384.6M1044 287L1259.3 326M1044 287L1232.1 315.5M1044 287L1200 361.8M1044 287L1220 256M1044 287L1272 316.3M1044 287L1056.4 548.8M1044 287L1046.4 378M1044 287L1127.9 387.7M1044 287L1003.2 311.6M1044 287L1046.1 325.1M1044 287L1149.8 497.2M1044 287L1036.2 335.8M1044 287L953.1 418M1044 287L1037.4 381.2M1044 287L1028.9 540.2M1044 287L1032.4 475.1M1044 287L1107.7 354M1044 287L976.3 462.5M1044 287L961.3 476M1044 287L1052.7 488.6M1044 287L1055.1 323M1044 287L996 208.2M1044 287L1012.4 212.4M1044 287L1010.9 184.1M1044 287L999.8 147.3M1044 287L1071 219.9M1044 287L1032.3 125.6M1151 257L1011.5 231M1151 257L968.3 204.2M1151 257L1111 257.9M1151 257L1117.9 293.8M1151 257L1103.2 311.1M1151 257L1002.3 232M1151 257L945.8 289.9M1151 257L1038.2 202.7M1151 257L956.4 225.2M1151 257L1061.8 304.6M1151 257L1100.4 273.7M1151 257L1042.6 276.4M1151 257L1445.3 290.7M1151 257L1356 388.7M1151 257L1309.1 359.7M1151 257L1333.7 262.1M1151 257L1479.7 351.5M1151 257L1200.6 429.7M1151 257L1269.7 276.7M1151 257L1317.5 248.2M1151 257L1471.3 353M1151 257L1207.9 376.4M1151 257L1472.8 272.3M1151 257L1288.6 246.5M1151 257L1429 246M1151 257L1313.8 341.3M1151 257L1355.9 369.8M1151 257L1323.3 370.3M1151 257L1232.1 382.8M1151 257L1478.8 329.8M1151 257L1227.2 417.7M1151 257L1486.7 310.5M1151 257L1429.7 364.2M1151 257L1272 326.4M1151 257L1379.4 230.8M1151 257L1262.3 305.9M1151 257L1470.4 393.3M1151 257L1378 245.8M1151 257L1300.1 315.7M1151 257L1332.4 332.2M1151 257L1223 154.7M1151 257L1181.4 204M1151 257L1169 172.4M1151 257L1202.8 168.6M1151 257L1233.5 172.3M1151 257L1154.8 225.3M1151 257L1238.9 170.6M1151 257L1159.7 175.1M1151 257L1162.5 176.1M1151 257L1182.7 191.9M1151 257L1154 227M1151 257L1154.2 143.2M1151 257L1123.1 302.6M1151 257L1112.9 441.4M1151 257L1147.9 375M1151 257L1120.7 391.5M1151 257L1205.1 406.6M1151 257L1141.6 467.8M1151 257L1123.9 317.1M1151 257L1200.1 304.5M1151 257L1178.6 305.3M1151 257L1146.3 406.6M1151 257L1182 409.8M1151 257L1209.4 496.2M1212 502L1236.9 490.5M1212 502L1407.9 550.7M1212 502L1232.9 589.5M1212 502L1359.2 425.6M1212 502L1317.3 633.2M1212 502L1257.6 438.6M1212 502L1352.7 409.1M1212 502L1201.5 636.4M1212 502L1292.8 506.4M1212 502L1145.3 475.8M1212 502L1413.5 450.7M1212 502L1080.2 620.2M1212 502L1138.1 603.7M1212 502L1113.1 446.9M1195 616L1293.5 618.8M1195 616L1088.6 660.7M1195 616L1012.3 600.8M1195 616L1273.7 630M1195 616L1002.2 714.1M1195 616L1251.9 690.2M1195 616L1299 522.9M1195 616L1246.8 535.3M1195 616L1154.5 536M1195 616L1183.1 537.2M1195 616L1149.6 533.6M1195 616L1205.2 530.6M1195 616L1284 547.4M1195 616L1138.8 586.4M1195 616L1152 512.8M1195 616L1247.7 597.1M1195 616L1126.1 512.4M1195 616L1228.4 559.9M1195 616L1256.9 501M1195 616L1211.9 572.6M985 658L1156.8 594.1M985 658L1140.2 594.4M985 658L1102.7 610.1M985 658L1112.3 569M985 658L1167.3 567.9M985 658L1169.2 569.5M985 658L1213.8 542.4M1472 175L1472.9 178.9M1472 175L1399.4 181.1M1472 175L1404.6 185.6M1472 175L1459 192.7M1472 175L1445.2 212.2M1472 175L1434.4 249M1472 175L1463.8 192.9M1472 175L1411.5 260.9M1472 175L1469.3 176.2M1472 175L1420.1 214.3M1472 175L1414.8 226.3M1472 175L1445.1 152.6M1472 175L1331.6 123.4M1472 175L1359.9 162.3M1472 175L1361.9 176.3M1472 175L1344.7 178.9M1472 175L1403.6 133.9M1472 175L1319.2 117.5M1475 288L1405.9 411M1475 288L1394.4 299.3M1475 288L1490.8 404.4M1475 288L1525.4 416M1475 288L1507.3 343.2M1475 288L1483.2 399.7M1475 288L1406.5 413.7M1475 288L1503.5 343.5M1475 288L1549.3 420M1475 288L1532.1 394M1475 288L1502.4 405.3M1475 288L1543.5 344.8M1475 288L1414.5 315M1475 288L1538.8 337.8M1475 288L1534.7 437.7M1475 288L1447 346.3M1475 288L1410.6 370.9M1475 288L1422.8 413.2M1475 288L1399.3 386.3M1475 288L1430.1 432.7M1475 288L1442 362.4M1475 288L1443.5 394M1265 250L1189.5 199.8M1265 250L1242 365.5M1265 250L1217.7 339M1265 250L1225.6 169.5M1265 250L1214.2 231.6M1265 250L1276.7 283.2M1265 250L1315.1 281.4M1265 250L1261 245.4M1265 250L1291.9 203.3M1265 250L1252.6 365.7M1265 250L1267 167.5M1265 250L1310.8 202M1265 250L1224.3 283.6M1265 250L1219.2 376M1265 250L1392 364.8M1265 250L1167.4 203.5M1020 530L1046.3 594.5M1020 530L1115.4 530.6M1020 530L1016.1 518.3M1020 530L984.1 643.2M1020 530L1058.3 580M1020 530L1116.8 576.2M1020 530L1044.6 610.7M1020 530L1107 596.8M1195 616L1294.3 556.3M1195 616L1316.3 559.3M1195 616L1417.8 471M1195 616L1359.7 487.8M1195 616L1345.3 534.8M1195 616L1401.7 470.8M1195 616L1363.4 522.3M1195 616L1370.2 454.6M1195 616L1342.8 499.1M1195 616L1414.8 538.7M1195 616L1381.1 473.6M1195 616L1416.7 467.5M1195 616L1335.6 458.8M1195 616L1369.5 535.5M1195 616L1384.7 539.3M1195 616L1384.8 518.4M1195 616L1324 555M1195 616L1423.7 527.9M1195 616L1424.6 546M1195 616L1408.4 530.8M1195 616L1399.6 522.9M1195 616L1307.2 540.5M1195 616L1337.6 517.2M1195 616L1411.4 499.2M1195 616L1326.5 506.4M1195 616L1408.2 540.9M1440 462L1417.8 471M1440 462L1345.3 534.8M1440 462L1401.7 470.8M1440 462L1370.2 454.6M1440 462L1414.8 538.7M1440 462L1416.7 467.5M1440 462L1369.5 535.5M1440 462L1424.6 546M1440 462L1408.4 530.8M1440 462L1399.6 522.9M1440 462L1411.4 499.2M1440 462L1326.5 506.4M1422.3 545L1247 482M1372.9 667.3L1247 482M1230.1 725.3L1247 482M1163.3 559.4L1247 482M998 494.3L1247 482M1066.1 311.3L1247 482M1242.8 329.2L1247 482M1286.7 425.8L1247 482M1354.6 453.9L1247 482M1426.8 584.3L1244 519M1308.8 676.6L1244 519M1197.9 649.7L1244 519M1181 536.2L1244 519M1061.1 472.5L1244 519M1188.9 422.3L1244 519M1264.8 457.2L1244 519M1476 413.8L1244 519M1540.8 366.2L1554 324M1466.6 420.6L1554 324M1502.8 350.7L1554 324M1499.7 337.9L1554 324M1446.2 294.4L1554 324M1436.1 256.2L1554 324M1498.6 227.4L1554 324M1526.7 201.3L1554 324M1410.1 587.5L1212 502M1231.7 573.5L1212 502M1184.7 605.7L1212 502M1090.6 535.1L1212 502M1051.6 442.4L1212 502M1156.6 362.7L1212 502M1283.7 367.1L1212 502M1294.9 475.2L1212 502M1314.3 549.7L1003 425.3M1271.2 302.8L1003 425.3M1307.2 540.5L1007.2 570.7M996 517.9L1007.2 570.7M1465.3 578.3L1408.1 481.7M1523.2 415.1L1408.1 481.7M1306.5 212.6L1070.2 223.7M1200.1 304.5L1070.2 223.7M1036.2 335.8L1034.4 427.2M1234.3 515.3L1034.4 427.2M1484.8 561.1L1323.1 274.6M1317.3 492.4L1148.6 672.7M1161.5 359.2L1148.6 672.7M1554.5 425.7L1404.8 307.8M1406.5 413.7L1404.8 307.8M1205.7 420.4L1404.8 307.8M1138.8 586.4L1122.3 501.7M1453.8 462.9L1122.3 501.7M1440.4 602.2L1122.3 501.7M1305.3 300L1326.9 549.4M1467.6 626.9L1326.9 549.4M1293.2 584.6L1228.4 644.8M1380.4 489.5L1228.4 644.8M1572 669.4L1228.4 644.8M1241.6 476.6L1008.9 219.3M1118.4 579.5L1008.9 219.3M1258 434.3L1242.7 199.5M1165.3 306.2L1242.7 199.5M1496.8 318.8L1270 515.9M1456.2 621.1L1270 515.9M1296.7 297.9L1270 515.9M1225.6 169.5L1213.6 516.3M1344.7 614.8L1213.6 516.3M1151.2 322.7L1213.6 516.3M1514.1 304.7L1253.6 396.4M1213.6 516.3L1253.6 396.4M1068.7 380.8L1253.6 396.4M1117.9 293.8L1237 567.5M1292.8 506.4L1237 567.5M1304 434.1L1237 567.5M1251.9 435.1L996 517.9M1263 304.8L996 517.9M1293.5 618.8L996 517.9M1115.2 184.2L1041 306.2M1181.4 204L1041 306.2M1467 370.7L1175.8 209.9M1237 567.5L1175.8 209.9M1256.9 501L945.2 495.3M1292.1 425.6L945.2 495.3M1373.7 151.6L1508.5 416.6M1349.4 676.2L1508.5 416.6M1394.4 299.3L1417.2 523.9M1519 421.9L1441.5 503.2M1426.8 584.3L1441.5 503.2M1306.2 626L1228 455.8M1471.8 741.1L1228 455.8M1091.2 177.6L1352.8 326.7M1417.8 471L1352.8 326.7M1554.4 327.6L1356.8 283.5M1518.7 320.3L1356.8 283.5M1271.8 316.4L1356.8 283.5M1184.7 605.7L1078.8 580.2M1382.5 560.3L1078.8 580.2M1111.2 170.9L1050.4 299.5M1317.5 248.2L1050.4 299.5M1149.6 533.6L1295.8 302.5M1311.6 233.2L1295.8 302.5M1426.8 584.3L1295.8 302.5M1046.4 378L1330.7 247.2M1242.8 329.2L1330.7 247.2M1268 565.6L1426.4 353.8M1515.1 547.6L1426.4 353.8M1576.2 450.5L1317.2 659.8M1490.2 314.6L1127.9 223.9M1311.6 233.2L1127.9 223.9M1252.6 365.7L1516.1 638.9M1631.3 412.2L1516.1 638.9M1526.9 593.3L1456 314M1467 370.7L1456 314M1266.4 259.6L1456 314M1205.1 406.6L1211.7 596.2M1291.5 332.8L1493.9 618.3M1524.3 621.8L1493.9 618.3M1326.5 406.3L1165.3 306.2M970.3 243.7L1165.3 306.2M1266.3 553.2L1165.3 306.2M1280.4 303.2L1473.3 301.6M1514.1 304.7L1366.5 478.3M1174.8 427.8L961.3 277.7M1219.3 520.9L961.3 277.7M1264.8 457.2L1080.8 246.3M1234.7 296L1080.8 246.3M1300.3 560.2L1262.9 452.3M1103.8 164.1L1227.1 171.4M1251.9 435.1L1227.1 171.4M1486.3 596.7L1333.6 585.7M1524.3 621.8L1333.6 585.7M1337.6 517.2L1333.4 486.3M1509.1 427.6L1333.4 486.3M1523.9 577.8L1333.4 486.3M1271.2 302.8L1041.7 323.6M1135.9 446.3L1041.7 323.6M1188.9 422.3L1041.7 323.6M1422.3 545L1283 487M1113.4 366.4L1283 487M1519 421.9L1283 487M1294.3 556.3L1448.9 586.7M1359.7 487.8L1448.9 586.7M1528.4 598.3L1269.6 530.7M1502.1 329.4L1269.6 530.7M1472.9 178.9L1592 298.1M1476.4 556.7L1592 298.1M1107 596.8L1107.3 485.8M1313.6 307.5L1107.3 485.8M1044.6 610.7L970.3 243.7M1141.6 467.8L970.3 243.7M1486.7 310.5L1438.2 210.7M1188.9 422.3L1438.2 210.7M1391 569.9L1096.9 639M1269.6 530.7L1096.9 639M1502.8 621.4L1189.9 694.1M1259.1 371.2L1189.9 694.1M1308.5 286.9L1376.8 223.5M1424.6 546L1376.8 223.5M1161.5 359.2L1060.9 315.7M1361.1 333L1060.9 315.7M1212.9 385L1094.2 621.4M1213.8 542.4L1005.8 749.5M1112.3 569L1005.8 749.5M1276.7 283.2L999.1 208.9M1304.9 306.1L999.1 208.9M1221 277.5L1333 565.4M1452.3 552.4L1230.2 316.3M1436.1 256.2L1230.2 316.3M1519 314.5L1447.5 563.8M1329.6 254.5L1447.5 563.8M1353.6 385.1L1244.4 248.2M1405.8 537.1L1244.4 248.2M1437.5 234.3L1343.7 541.6M1130.2 530.9L1343.7 541.6M1543.2 618.7L1572 669.4M1484.1 589.4L1572 669.4M1510.7 550.7L1572 669.4M1060.6 592.7L1030.7 434.4M1101.8 317.1L1030.7 434.4M1184.7 605.7L1188.3 401.8M1548.6 409.4L1188.3 401.8M997.4 304L1247.4 225.4M1257.1 270.4L964.9 396.5M1435.2 570.8L1527.6 537.9M1316.6 567.9L1527.6 537.9M1296.7 297.9L983.7 249.3M1279.5 291.7L983.7 249.3M1012.3 600.8L983.7 249.3M1393.8 221L1490.7 296.5M1356 388.7L1101.8 317.1M1440.4 602.2L1133.7 424.3M1439 595.5L1145.2 595.5M1326.5 506.4L1145.2 595.5M1303.1 286.9L1145.2 595.5M1517.2 613.4L1617.8 782M1333.2 608.5L1617.8 782M1067.6 655.8L1147.5 620.6M1270.3 291.9L1147.5 620.6M1446.1 741.1L1118.4 579.5M1070.2 223.7L1118.4 579.5M1199.7 599.7L1431 467.7M1130.2 530.9L1431 467.7M1284 547.4L1401.5 303.5M1476 572.9L1401.5 303.5M1169 172.4L1401.5 303.5M1158.9 494.3L1211.6 399M1232.1 315.5L1211.6 399M1228.4 559.9L1407.9 697.2M1522.5 601L1407.9 697.2M1188.3 401.8L1407.9 697.2M1519 421.9L1595.1 298M1413.5 450.7L1595.1 298M1267.8 387.7L1452.2 278.6M1459.2 353.2L1233.1 419.4M1280.4 303.2L1185 373.7M1061.8 304.6L1185 373.7M1458.7 625.6L1631.3 412.2M1417.3 540.8L1631.3 412.2M1253.6 396.4L1072.3 198.4M1293.3 367.7L1529.2 609M1414 398.6L1529.2 609M1234.7 296L1251.9 634.3M1270.3 291.9L1251.9 634.3M1261.9 581L1415.2 272.8M1286.4 538.2L1415.2 272.8M1140.2 594.4L1091.6 328M1399.6 522.9L1091.6 328M1242 365.5L1331.4 616.7M1525.4 416L1331.4 616.7M1294.3 432.9L1439.5 412.7M1202.8 168.6L1439.5 412.7M1309.2 556.4L1189.1 314.5M995.2 373.4L1189.1 314.5M1247 482L1338.4 750.6M1209.5 400.1L1338.4 750.6M1311.6 233.2L1377.5 566.3M1135.9 446.3L1377.5 566.3M1459.6 586.5L1377.5 566.3M1293.5 618.8L1174.7 647.8M1286.7 425.8L1174.7 647.8M1306.8 290.3L1244.7 340.7M1442.2 589.2L1225.8 625.9M1270 515.9L1048.3 473.5M1294.9 443.9L1436.4 639.5M1559.1 315.9L1436.4 639.5M1333.2 608.5L1436.4 639.5M1002.6 228L1057.4 219M1298.1 307.5L1057.4 219M1404.8 307.8L1057.4 219M1530.3 410.4L1308.5 286.9M1016.1 518.3L1130.2 530.9M1496.7 608.7L1130.2 530.9M1061.1 472.5L1130.2 530.9M1595.8 444.2L1606.6 492M1291.2 327.7L1606.6 492M1551.6 325L1542.2 474.8M1450.3 557.1L1145.3 611.8M1304.9 340.9L1107.3 157.2M1488.9 546.3L1453.8 462.9M1544.9 583.9L1453.8 462.9M1540 574.3L1453.8 462.9M1157.1 419.8L995.2 373.4M953.1 418L995.2 373.4M1412.4 413.8L1251.3 609.4M1212 502L1251.3 609.4M1258.8 278.3L1251.3 609.4M1219.2 376L1391 569.9M1246.8 535.3L1391 569.9M1242.9 231L1391 569.9M1266.3 553.2L1290.7 858.1M1261.6 488.7L1290.7 858.1M1259 423.6L1266.3 578.9M1491.7 591.7L1266.3 578.9M1384.7 539.3L1336.7 642.7M1127.7 551.7L1336.7 642.7M1212 502L1186.9 623.5M1306.1 322.8L1186.9 623.5M1295.2 535.2L1089.8 403M1300.1 315.7L1089.8 403M1335 186L1307.4 556.7M1256.9 501L1307.4 556.7M951.1 337.5L1050.8 193.6M1112.9 441.4L1050.8 193.6M1093.9 193.4L1050.8 193.6M1344.7 162.1L1401.6 307.9M1247 482L1401.6 307.9M1431.2 597.7L1544.3 276.4M1497.5 620.2L1544.3 276.4M1413.5 450.7L1367.1 591.2M1464.1 569.4L1367.1 591.2M1324.5 255.5L1142.4 324.1M1209.4 496.2L1240.1 804.1M1528.4 598.3L1240.1 804.1M1231.7 573.5L1240.1 804.1M1301.5 314.3L963 173.2M1100.4 273.7L963 173.2M1438.8 372.9L1309.2 298.4M1517.2 606.1L1444.4 713.8M1199.7 599.7L1444.4 713.8M1540 574.3L1444.4 713.8M1430.1 588.4L1283 417.7M1011.5 231L1283 417.7M1503.3 608L1373 596.3M1298.1 307.5L1373 596.3M1304.9 340.9L1246.2 544M1450 617.6L1246.2 544M1270.8 311.5L1196.7 590M1258.8 278.3L1196.7 590M1524 431.5L1174.7 375.4M1283 487L1174.7 375.4M988.3 296.1L1219.7 169.9M1264.1 311.7L1219.7 169.9M1325.2 501.8L1219.7 169.9M966.1 221.9L1258.8 278.3M1116.8 576.2L1258.8 278.3M1541.4 445.3L1361.1 333M1582 415.3L1361.1 333M1530.3 410.4L1361.1 333M1320.6 594.1L1113.4 366.4M1159.7 175.1L1113.4 366.4M1209.7 562.4L1098.3 286.6M1335 186L1098.3 286.6M1252.9 604.7L1098.3 286.6M1316.3 559.3L1543.2 618.7M1349.4 676.2L1543.2 618.7M1412.4 413.8L1472.5 681.7M1326.5 506.4L1259.1 371.2M1594.9 432.7L1259.1 371.2M1399.4 181.1L1259.1 371.2M1575 181L1683 182M1644 368L1728 370M1580 300L1644 368M1645 575L1727 577M1560 500L1645 575M1504 797L1763 795M1440 770L1504 797M1450 860L1504 797M1560 600L1612 630M1612 560L1612 630M1640 625L1612 630M1600 440L1689 473M1689 473L1665 555M1689 473L1630 470M1608 305L1610 350M1550 330L1608 305M1570 560L1668 498M1600 540L1668 498M1555 460L1650 520M1472 175L1575 186M1472 175L1570 140M1475 288L1454 204M1390 180L1454 204M1420 260L1506 199M1460 300L1520 186M1475 288L1521 213M1440 250L1521 213M1555 230L1564 213M1470 330L1564 213M1572 276L1573 217M1480 320L1573 217M1480 360L1555 230M1475 288L1515 272M1430 230L1515 272M1400 200L1515 272M1475 288L1527 273M1454 204L1527 273M1475 288L1538 278M1473 239L1538 278M1473 239L1544 271M1555 230L1552 278M1480 256L1552 278M1454 204L1481 256M1420 300L1481 256M1454 204L1494 258M1572 217L1573 276M1573 276L1609 304M1560 320L1609 304M1540 390L1604 331M1609 304L1604 331M1609 304L1615 347M1540 300L1576 327M1520 360L1576 327M1530 330L1573 310M1510 290L1557 311M1447 629L1429 773M1420 700L1429 773M1447 629L1467 784M1560 640L1467 784M1420 700L1462 815M1414 800L1462 815M1380 720L1414 800M1504 797L1454 862M1400 740L1440 857M1480 620L1552 718M1582 600L1552 718M1540 640L1582 703M1380 790L1330 880M985 658L900 636M985 658L900 654.2M985 658L900 666.8M985 658L900 678M985 658L900 683.6M985 658L940 723M940 723L958 772M1041 734L958 772M1041 734L1159 765M1235 700L1159 765M1056 622L1041 734M1009 786L1017 855M972 625L1009 786M1078 877L1031 788M1041 734L1031 788M1078 877L1071 732M1073 625L1071 732M1133 622L1122 830M1147 869L1150 800M1159 765L1150 800M1200 882L1147 869M1122 830L1185 885M1150 690L1197 753M1260 720L1197 753M1440 462L1090 712M1195 616L1098 720M1440 462L1105 708M1170.3 657.7L1105 708M1440 462L1112 726M1215.5 652.5L1112 726M1440 462L1118 715M1440 462L1095 730M1195 616L1121 705M1227 627.7L1121 705M900 835L1180 705M900 842L1187 712M900 850L1195 720M900 840L987 788M1009 786L1048 640M1044 287L890 188.2M1044 287L890 228.4M1044 287L890 249.3M1044 287L890 275.2M1044 287L890 319.9M1044 287L890 347.4M1044 287L890 360M1044 287L890 403.2M1044 287L890 421.2M1151 257L1080 60M1151 257L1125 60M1151 257L1190 60M819.4 614.4L1098.2 190M1275.9 390.7L861.1 443.6M1244.4 248.2L807.9 677.5M1486.1 742.1L877.2 507.2M909.4 682.4L1122 830M815.8 312.8L1282.9 287.2M1323.1 274.6L899.2 574.1M901 695.2L1324 555M839 310.2L1452.2 278.6M832.1 251.9L1442.2 589.2M1217.7 339L917.4 591.6M918.2 371.4L1324 425.1M820.4 485.3L1421.8 294.3M1338.4 750.6L925.9 155.7M1196.4 603.3L1475.8 927.1M1150 800L1174.1 933.2M1488.5 583.5L1189.3 939.2M1174.7 647.8L1286.6 917.5M1336.7 642.7L1344.2 905.5M1373.5 967.1L1041 734M1306.2 626L1432.2 909.9M1157.4 900.4L1266.3 578.9M1320.1 903.4L1122 830M1498.6 227.4L1331.7 23.5M1094.1 82L1243.1 265.3M1400.7 59.9L1091.2 177.6M1259.3 326L1438.9 20.9M1404.8 307.8L1302.7 50M1054.4 29.4L1053.3 217.9M1093.9 193.4L1163 89.1M1085.2 24.7L1269.7 276.7M1291.1 297.1L1048.9 23.4M1471.9 82.7L1061.8 304.6M1309.1 359.7L1433.9 48.6M1492.5 28.1L1310.8 202M1036.2 335.8L1423.1 39.3M1132 44.3L1289.6 420" stroke="#4b3f72" stroke-width="0.85" fill="none" stroke-opacity="0.9"/>
<path d="M1787 186L1683 182M1787 186L1801 272M1787 186L1812 256M1770 113L1787 186M1775 710L1685 602M1775 710L1763 795M1763 795L1812 800M1763 795L1808 802M1307 113L1216 208M1300 113L1248 236M1316 113L1310 325M1330 113L1421 234M1289 207L1383 146M1289 207L1195 356M1409 276L1296 358M1409 276L1437 451M1256 336L1354 353M1256 336L1256 313M1256 336L1176 400M939 520L1030 516M939 525L1030 517M1290 113L1245 232M1160 150L1155 143M1150 152L1154 146" stroke="#f26135" stroke-width="0.9" fill="none"/>
<path d="M1464.9 576.4L1460.5 571.6L1467 570.2zM1439 593.5L1435.7 587.9L1442.3 587.9zM1495.9 606.8L1490.8 602.8L1497 600.4zM1476.8 622.4L1472.3 617.7L1478.8 616.2zM1504.1 629.2L1499 625.2L1505.1 622.8zM1514.5 594.7L1508.8 591.4L1514.6 588.2zM1536.5 607.3L1530.7 604.4L1536.2 600.8zM1460.3 609L1456.3 603.9L1462.8 603zM1465.6 597.7L1461.3 592.8L1467.8 591.6zM1457.8 596.6L1453.8 591.4L1460.3 590.6zM1533.5 612.5L1527.7 609.5L1533.4 606zM1467.3 552.9L1462.5 548.5L1468.8 546.6zM1518.5 567.4L1512.5 564.8L1517.8 560.9zM1446.7 606.8L1443.1 601.3L1449.7 601zM1532.4 587.6L1526.4 585.1L1531.7 581.2zM1453.1 580.2L1449.2 575L1455.7 574.3zM1542 591.6L1535.9 589.2L1541.1 585.2zM1496 593L1490.8 589.2L1496.8 586.6zM1483.9 559.3L1478.6 555.6L1484.6 552.9zM1464.1 560.7L1459.6 556L1466 554.5zM1430.3 586.4L1427.4 580.6L1434 581.1zM1467.2 624.9L1463.1 619.9L1469.6 618.9zM1507.6 586.7L1502 583.4L1507.8 580.2zM1525.8 591.6L1519.9 588.8L1525.4 585.1zM1545.1 572.6L1538.9 570.8L1543.6 566.2zM1500.7 573.1L1495.1 569.7L1500.9 566.6zM1473.8 548.1L1468.7 544.1L1474.8 541.6zM1509.5 549.1L1503.4 546.8L1508.6 542.7zM1506.3 600.9L1501 597.3L1506.9 594.4zM1507.4 575.5L1501.7 572.4L1507.3 569zM1480.7 596.1L1475.9 591.7L1482.3 589.7zM1439.3 574.8L1436.1 569.2L1442.7 569.2zM1541.1 609.8L1535.2 607.1L1540.6 603.4zM1531.6 606.9L1525.8 603.9L1531.4 600.4zM1494.5 583L1489.2 579.2L1495.2 576.5zM1450.1 555.1L1446.2 549.9L1452.7 549.2zM1499.5 565.6L1493.8 562.3L1499.5 559.1zM1481.9 622.2L1477.3 617.7L1483.7 616zM1445.6 575.4L1442 569.9L1448.6 569.6zM1458.5 623.6L1454.5 618.4L1461.1 617.7zM1474.5 561L1469.5 556.8L1475.8 554.7zM1521.9 610.1L1516.3 606.8L1522.1 603.6zM1486.2 564.2L1480.9 560.5L1486.9 557.7zM1485.6 594.8L1480.7 590.6L1486.9 588.4zM1549.5 600.2L1543.4 597.8L1548.6 593.7zM1472.8 565.9L1468 561.5L1474.3 559.5zM1495.3 555.9L1489.6 552.8L1495.3 549.4zM1549.8 582.1L1543.6 580.2L1548.4 575.7zM1527.3 596.7L1521.4 593.8L1527 590.2zM1471.4 574.7L1466.7 570.2L1473.1 568.4zM1487.9 544.6L1482.3 541.4L1488 538.1zM1466.6 544.6L1461.7 540.3L1468 538.3zM1483 552L1477.6 548.4L1483.6 545.5zM1458.6 549.3L1454.2 544.5L1460.7 543.2zM1506.3 616.2L1501.1 612.3L1507.2 609.7zM1459.3 584.5L1455.2 579.5L1461.7 578.5zM1466.8 588L1462.4 583.2L1468.8 581.8zM1448.5 561.5L1444.7 556.2L1451.3 555.7zM1538.4 585L1532.3 582.7L1537.5 578.6zM1523.6 584.2L1517.7 581.5L1523.2 577.7zM1494.4 624.2L1489.5 619.9L1495.8 617.8zM1453.3 607.7L1449.5 602.4L1456.1 601.8zM1523.4 620.1L1517.9 616.7L1523.7 613.6zM1537.3 567.6L1531.1 565.7L1535.9 561.2zM1522.8 576.2L1516.8 573.6L1522.1 569.7zM1523.9 568L1517.8 565.6L1523 561.5zM1510.9 611.8L1505.5 608.1L1511.5 605.3zM1542.3 567.5L1536.1 565.8L1540.8 561.2zM1496.9 618.3L1491.8 614.2L1498 611.9zM1547.9 595.3L1541.8 593L1546.9 588.9zM1462.6 555.3L1458.1 550.6L1464.5 549.1zM1505 544.4L1499 542L1504.1 537.9zM1498 577.6L1492.5 574.1L1498.4 571.1zM1480.2 574.1L1475.2 570L1481.4 567.7zM1468.8 562.8L1464.1 558.3L1470.5 556.5zM1501.7 583.1L1496.2 579.6L1502.1 576.6zM1533.8 618L1528.1 614.9L1533.7 611.5zM1519.9 549.5L1513.7 547.6L1518.6 543.1zM1481.8 630.1L1477.2 625.4L1483.6 623.8zM1480.8 613.8L1476.2 609.2L1482.5 607.5zM1438 606L1434.7 600.3L1441.3 600.4zM1533.5 595.9L1527.6 593.1L1533 589.4zM1487.7 581.6L1482.6 577.6L1488.7 575.2zM1454.1 560.8L1450.1 555.7L1456.6 554.8zM1521.3 556.1L1515.1 554.1L1520.1 549.7zM1458 576.8L1453.9 571.8L1460.4 570.8zM1435.3 568.8L1432.3 563L1438.9 563.3zM1487 573L1481.8 569.1L1487.9 566.5zM1516.3 611.7L1510.8 608.2L1516.7 605.2zM1481.3 602L1476.6 597.5L1482.9 595.6zM1489.1 622.9L1484.4 618.5L1490.7 616.6zM1477.7 544L1472.4 540.3L1478.4 537.5zM1490.9 627.9L1486.1 623.5L1492.4 621.5zM1521.9 604.9L1516.2 601.7L1521.9 598.4zM1534.1 559.2L1527.8 557.5L1532.6 552.9zM1489.2 616.1L1484.3 611.8L1490.6 609.8zM1515 577L1509.2 574.1L1514.7 570.5zM1499.6 600.6L1494.3 596.7L1500.4 594.1zM1456.1 569.8L1452 564.7L1458.5 563.8zM1533 569.9L1526.9 567.9L1531.9 563.6zM1494.5 567.9L1489 564.4L1494.8 561.4zM1528.9 556L1522.7 554.2L1527.4 549.6zM1491.7 550.4L1486 547.3L1491.7 543.9zM1471.8 612.4L1467.4 607.6L1473.9 606.2zM1440.4 600.2L1437 594.6L1443.6 594.6zM1538.4 595.1L1532.4 592.5L1537.8 588.6zM1500.4 556.6L1494.6 553.6L1500.1 550.1zM1479.2 608.5L1474.5 603.9L1480.9 602.2zM1449.8 615.6L1446.2 610.3L1452.8 609.8zM1492.7 611.9L1487.8 607.7L1494 605.5zM1519.3 625.2L1513.9 621.6L1519.8 618.8zM1465.4 581.8L1461 577L1467.4 575.7zM1518.8 588.7L1513.1 585.7L1518.7 582.2zM1475.7 554.8L1470.6 550.8L1476.7 548.4zM1513.7 546.1L1507.6 544.1L1512.5 539.7zM1431.4 595.7L1428.4 589.9L1435 590.3zM1512.8 566.5L1506.9 563.7L1512.3 560zM1516.2 553.5L1510.1 551.3L1515.1 547zM1510.4 554.6L1504.4 552.2L1509.6 548.2zM1538.7 572.8L1532.5 570.8L1537.4 566.4zM1442.2 587.2L1438.8 581.7L1445.4 581.5zM1501.3 594.3L1496 590.6L1501.9 587.8zM1442.9 611.3L1439.5 605.8L1446.1 605.7zM1478.3 550.7L1473 546.9L1479.1 544.3zM1495.3 560.8L1489.7 557.5L1495.4 554.3zM1508.1 592.2L1502.6 588.7L1508.4 585.7zM1442.4 567.7L1439 562.1L1445.6 562zM1428.7 573.9L1426 568L1432.5 568.7zM1453.6 589.1L1449.7 583.9L1456.3 583.2zM1491 589.8L1485.9 585.8L1492 583.4zM1492.7 575.6L1487.4 571.9L1493.4 569.2zM1523.6 560.8L1517.4 558.6L1522.5 554.4zM1483.5 587.5L1478.5 583.3L1484.8 581.2zM1463.6 567.5L1459.2 562.7L1465.6 561.3zM1536.1 578.9L1530 576.6L1535.1 572.4zM1475.4 571L1470.5 566.7L1476.8 564.7zM1474.9 598.2L1470.3 593.6L1476.7 591.9zM1512.1 573L1506.3 570.1L1511.8 566.5zM1550.4 589.4L1544.2 587.3L1549.2 583zM1465.8 608.1L1461.6 603.2L1468.1 602zM1427.8 580.2L1425.1 574.2L1431.7 574.9zM1543.6 582.4L1537.4 580.3L1542.4 576zM1526.4 606.8L1520.7 603.7L1526.3 600.3zM1502.5 606.2L1497.2 602.4L1503.3 599.7zM1452 550.4L1448 545.3L1454.5 544.4zM1460.7 603.3L1456.6 598.2L1463.1 597.3zM1471.5 621.9L1467.2 617.1L1473.7 615.8zM1521.1 594.1L1515.3 591.1L1521 587.6zM1435 601.4L1431.9 595.7L1438.5 595.9zM1435.7 581.3L1432.6 575.6L1439.2 575.9zM1469.1 604.4L1464.8 599.6L1471.2 598.3zM1486.6 601.2L1481.7 596.9L1488 594.8zM1472.5 588.2L1467.9 583.6L1474.3 581.9zM1437.5 588.6L1434.3 583L1440.9 583.1zM1502 619.6L1496.9 615.6L1503.1 613.2zM1474.2 628.8L1469.8 624L1476.3 622.7zM1464.7 580.2L1465.9 586.6L1459.7 584.3zM1548.3 579.5L1544.7 584.9L1541.8 579zM1439.4 597.5L1444 602.1L1437.5 603.7zM1494.8 609.4L1490.9 614.6L1488.4 608.5zM1475.3 624.7L1470.2 628.8L1469.2 622.2zM1535.7 609.4L1530.9 613.8L1529.5 607.3zM1459.4 612.6L1458.7 619L1453.4 615.1zM1464.7 620.8L1461 626.1L1458.2 620.1zM1464.9 601.3L1464.6 607.8L1459.1 604.3zM1457.4 600.4L1458.6 606.8L1452.3 604.6zM1467.3 556.7L1468.9 563L1462.6 561.2zM1518.2 570.2L1516 576.4L1511.8 571.3zM1446.8 610.8L1450.2 616.3L1443.6 616.4zM1531.7 590.1L1528 595.4L1525.3 589.4zM1453 584.2L1455.5 590.2L1449 589.3zM1541.3 593.9L1537.2 598.9L1534.9 592.7zM1495.1 596L1492.4 601.9L1488.7 596.4zM1518.9 618.5L1513.9 622.6L1512.9 616.1zM1483.8 562.9L1483.9 569.4L1478.2 566.2zM1464.1 564.6L1465.8 570.8L1459.5 569.1zM1430.9 590.3L1436.1 594.2L1430 596.7zM1465.6 627.1L1460.3 631L1459.7 624.4zM1506.9 589.6L1504 595.4L1500.4 589.9zM1525 594.1L1521.3 599.4L1518.6 593.4zM1544.7 575L1541.4 580.6L1538.2 574.8zM1500.2 576.2L1498.6 582.5L1493.9 577.8zM1473.9 551.8L1475.2 558.2L1468.9 556zM1509.5 552.2L1508.5 558.7L1503.4 554.5zM1505.4 603.5L1501.6 608.8L1498.9 602.7zM1503.3 552.3L1502.7 558.8L1497.4 554.9zM1506.8 578.5L1504.7 584.7L1500.4 579.6zM1439.6 578.8L1443.7 583.8L1437.2 584.8zM1540.2 611.9L1535.3 616.1L1534.1 609.6zM1488.2 609.2L1484.6 614.6L1481.7 608.7zM1530.7 609L1526 613.5L1524.5 607.1zM1450.2 559.1L1453.2 564.8L1446.6 564.5zM1499.1 568.8L1498 575.2L1493 570.9zM1480.4 624.4L1475.3 628.5L1474.5 621.9zM1445.7 579.4L1449.2 584.9L1442.6 585zM1456.8 626.1L1452.3 630.9L1450.5 624.5zM1474.4 564.8L1475.2 571.2L1469.1 568.6zM1520.9 612.3L1516.2 616.8L1514.8 610.3zM1485.9 567.7L1485.7 574.2L1480.1 570.7zM1450.1 602L1452.8 608L1446.2 607.2zM1484.7 597.9L1482.5 604L1478.3 599zM1548.8 602.3L1544.2 606.9L1542.5 600.5zM1472.6 569.6L1473.4 576.1L1467.4 573.5zM1495.2 559.3L1494.7 565.8L1489.3 562zM1549.3 584.3L1545.5 589.6L1542.8 583.6zM1526.5 599L1522.4 604.1L1520.1 597.9zM1471.1 578.4L1471.7 584.9L1465.7 582.1zM1488 548.1L1488.4 554.6L1482.6 551.6zM1537.4 602.7L1532.9 607.4L1531.1 601.1zM1466.7 548.5L1468.6 554.7L1462.2 553.1zM1458.7 553.3L1461.1 559.3L1454.6 558.3zM1476.9 592.3L1475.9 598.7L1470.8 594.6zM1505.2 618.4L1500.2 622.6L1499.1 616.1zM1459 588.4L1460.6 594.7L1454.3 592.8zM1438.6 566.1L1442.6 571.2L1436.1 572zM1528.4 569.8L1525.8 575.7L1521.9 570.4zM1466.3 591.7L1466.6 598.2L1460.8 595.2zM1448.6 565.5L1451.8 571.2L1445.2 571zM1523 586.8L1519.7 592.4L1516.5 586.7zM1493.1 626.2L1487.7 629.9L1487.3 623.3zM1452.8 611.6L1454.2 617.9L1447.9 615.9zM1522.3 622L1517.1 625.8L1516.4 619.3zM1537 570.1L1534.1 575.9L1530.5 570.4zM1522.3 578.9L1519.4 584.8L1515.8 579.3zM1523.5 570.7L1521.1 576.8L1517.1 571.5zM1509.8 614.1L1505.1 618.6L1503.6 612.1zM1542 570L1539 575.8L1535.5 570.2zM1508.5 625.1L1503.1 628.7L1502.7 622.2zM1495.6 620.5L1490.6 624.7L1489.5 618.2zM1547.2 597.5L1542.9 602.3L1540.9 596zM1462.6 559.2L1464.6 565.4L1458.2 563.9zM1505.1 547.6L1504.5 554L1499.2 550.2zM1443.1 560.1L1446.8 565.5L1440.2 565.9zM1497.4 580.8L1495.6 587.1L1491.1 582.3zM1479.8 577.7L1479.5 584.2L1474 580.6zM1468.7 566.6L1470 573L1463.8 570.8zM1501 586.1L1498.7 592.2L1494.6 587zM1532.8 619.9L1527.6 623.8L1526.9 617.2zM1519.9 552.4L1518.4 558.7L1513.6 554.2zM1480.2 631.8L1474.4 634.6L1474.9 628.1zM1479.4 616.4L1475.4 621.5L1473 615.4zM1438.7 609.8L1444 613.7L1437.9 616.3zM1532.7 598.2L1528.6 603.2L1526.3 597zM1487.1 584.9L1485.8 591.3L1480.9 586.9zM1454.2 564.8L1456.9 570.7L1450.3 570zM1521.1 559L1519.3 565.3L1514.8 560.5zM1457.9 580.7L1459.9 586.9L1453.4 585.5zM1435.6 572.7L1440 577.6L1433.5 578.9zM1486.6 576.4L1485.8 582.9L1480.6 578.9zM1515.2 613.9L1510.5 618.3L1509 611.9zM1480.3 605L1477.6 611L1473.8 605.6zM1487.7 625L1482.5 628.8L1481.8 622.3zM1477.8 547.7L1478.9 554.1L1472.8 551.8zM1489.5 629.7L1483.8 632.9L1483.9 626.3zM1528.7 564.6L1526.4 570.7L1522.3 565.5zM1520.9 607.2L1516.5 612L1514.6 605.7zM1533.9 561.9L1531.5 567.9L1527.4 562.7zM1487.8 618.5L1483.2 623.1L1481.6 616.7zM1514.5 579.9L1511.9 585.8L1508 580.5zM1456.1 573.7L1458.4 579.8L1451.9 578.7zM1532.7 572.6L1529.8 578.4L1526.2 572.9zM1494.1 571.2L1493.1 577.7L1488 573.5zM1528.8 558.7L1526.7 564.9L1522.4 559.9zM1491.7 553.9L1491.6 560.4L1486 557zM1470.5 615.4L1467.3 621L1464 615.3zM1440.8 604.2L1445.4 608.8L1439 610.4zM1537.7 597.3L1533.5 602.3L1531.4 596.1zM1477.9 611.4L1474.7 617.1L1471.4 611.3zM1449.4 619.6L1451.2 625.8L1444.8 624.2zM1491.5 614.4L1487.2 619.3L1485.2 613zM1518.1 627.1L1512.6 630.5L1512.5 623.9zM1465 585.6L1465.9 592.1L1459.8 589.5zM1518.1 591.3L1514.7 596.9L1511.6 591zM1475.6 558.6L1476.6 565L1470.5 562.5zM1520.7 601.7L1516.5 606.8L1514.3 600.6zM1513.8 549.1L1512.7 555.5L1507.7 551.3zM1432.1 599.5L1437.6 603L1431.7 606zM1512.5 569.4L1510.6 575.6L1506.1 570.8zM1516.1 556.4L1514.6 562.8L1509.8 558.2zM1538.3 575.3L1535.1 581L1531.8 575.3zM1442.5 591.2L1446.4 596.3L1439.9 597.1zM1500.4 597.1L1497.3 602.8L1493.9 597.2zM1443.4 615.3L1448 619.9L1441.6 621.5zM1507.3 594.9L1504.1 600.5L1500.8 594.8zM1442.6 571.6L1446.3 577L1439.7 577.5zM1493.8 545.4L1493.9 551.9L1488.2 548.6zM1429.1 577.8L1434.1 582L1427.9 584.1zM1453.4 593.1L1455.7 599.2L1449.2 598zM1490.2 592.9L1488 599.1L1483.8 594zM1523.4 563.6L1521.2 569.7L1517 564.7zM1482.8 590.9L1481.3 597.2L1476.5 592.7zM1463.5 571.3L1465.1 577.6L1458.8 575.8zM1535.6 581.3L1532.2 586.9L1529.1 581.1zM1475.1 574.7L1475.5 581.2L1469.6 578.1zM1474 601.5L1472.4 607.8L1467.7 603.2zM1511.7 575.9L1509.4 582L1505.2 576.9zM1549.8 591.6L1545.7 596.6L1543.4 590.4zM1464.7 611.5L1463.1 617.8L1458.4 613.1zM1428.4 584L1433.6 587.9L1427.5 590.4zM1510.1 563.1L1508.6 569.4L1503.9 564.9zM1512.9 621.5L1507.7 625.4L1507 618.8zM1525.5 609.1L1520.9 613.6L1519.2 607.2zM1501.4 608.7L1497.3 613.8L1495 607.6zM1452.1 554.4L1455 560.2L1448.4 559.8zM1459.9 607L1459.9 613.5L1454.3 610.2zM1454.6 622.4L1452.5 628.6L1448.2 623.6zM1469.9 624.3L1465.1 628.6L1463.8 622.2zM1520.3 596.7L1516.5 601.9L1513.8 595.9zM1435.8 605.2L1441.2 608.9L1435.2 611.7zM1468.1 607.8L1466.5 614.1L1461.8 609.4zM1485.6 604.2L1482.7 610L1479.1 604.4zM1471.9 591.8L1471.5 598.3L1466.1 594.6zM1437.9 592.6L1442.5 597.2L1436.1 598.8zM1500.8 621.7L1495.7 625.7L1494.8 619.2zM1472.6 630.6L1466.8 633.6L1467.2 627zM1473.7 732.7L1469.1 728.1L1475.5 726.5zM1485.5 740.2L1480.5 736L1486.8 733.9zM1471.4 739.1L1467 734.4L1473.4 732.9zM1461.1 743.6L1457.1 738.5L1463.7 737.7zM1447.3 733.6L1444 728L1450.6 728zM1462.4 729L1458.3 723.9L1464.8 722.9zM1454.3 730.5L1450.6 725.2L1457.2 724.7zM1451.4 741.4L1447.9 735.9L1454.5 735.7zM1465.2 733.9L1461 728.9L1467.5 727.8zM1477.7 740.9L1473 736.3L1479.4 734.6zM1477.8 735.5L1473.1 731.1L1479.4 729.2zM1459.8 734.7L1455.9 729.5L1462.4 728.7zM1467 743.4L1462.8 738.5L1469.3 737.3zM1483 733.1L1478 728.9L1484.2 726.7zM1446.1 739.1L1442.9 733.5L1449.5 733.6zM1454.3 736.7L1450.6 731.3L1457.2 730.9zM1477.7 729.5L1472.9 725.1L1479.2 723.2zM1469.4 729.5L1465 724.7L1471.4 723.3zM1488 735.2L1482.9 731.2L1489.1 728.8zM1463.6 738.6L1459.5 733.5L1466 732.6zM1456.3 741.2L1452.6 735.9L1459.1 735.4zM1478 706L1472.8 702L1479 699.6zM1484.6 705.8L1479.2 702.2L1485.1 699.3zM1485 711.8L1479.7 708.1L1485.7 705.4zM1479.4 711.3L1474.3 707.3L1480.4 704.9zM1474.5 709L1469.5 704.8L1475.8 702.6zM1444.6 739.2L1441.4 733.5L1448 733.7zM1439.7 744.6L1436.7 738.8L1443.3 739.2zM1436.5 739.8L1433.7 733.9L1440.3 734.5zM1451.4 741.4L1447.9 735.9L1454.5 735.7zM1465.4 733.8L1461.6 728.6L1468.1 727.9zM1459.9 734.6L1456.2 729.3L1462.8 728.8zM1483.3 733L1479.1 728L1485.7 726.9zM1446.1 739.1L1442.7 733.6L1449.3 733.5zM1485.1 705.7L1480.8 700.7L1487.3 699.5zM1545.5 431.3L1541 436L1539.2 429.7zM1545.8 424.6L1541.6 429.5L1539.4 423.3zM1560.2 427.9L1555.7 432.6L1553.9 426.2zM1533.3 434.6L1528.8 439.4L1527 433.1zM1517.5 457.6L1512.1 461.2L1511.7 454.6zM1580.1 415.9L1575.8 420.8L1573.7 414.5zM1513.2 450.6L1508.2 454.7L1507.2 448.2zM1538.5 424.7L1534.4 429.7L1532 423.6zM1536.6 463.7L1531 466.9L1531.1 460.3zM1543.6 416.1L1539.8 421.3L1537.1 415.3zM1578.4 431.5L1573.6 436L1572.2 429.5zM1530.1 459L1524.6 462.4L1524.3 455.8zM1526.5 450.3L1521.4 454.4L1520.5 447.8zM1563.2 453.1L1557.8 456.8L1557.3 450.2zM1528.5 411.4L1525.3 417.1L1522 411.3zM1558.2 406.7L1554.5 412L1551.7 406.1zM1536.7 404.9L1533.6 410.6L1530.2 404.9zM1565.7 464.8L1560 468L1560.2 461.4zM1549.7 439.7L1544.9 444L1543.6 437.6zM1539.5 445.6L1534.5 449.8L1533.4 443.3zM1578.8 444.8L1573.6 448.8L1572.8 442.2zM1546.8 410.3L1543.2 415.7L1540.4 409.7zM1547.3 463L1541.7 466.3L1541.8 459.7zM1565.1 441.7L1560.1 445.9L1559 439.3zM1558.2 462.6L1552.6 465.9L1552.6 459.3zM1533.8 451L1528.6 454.9L1527.8 448.3zM1513.6 417.3L1510.5 423L1507.1 417.4zM1529.1 443.6L1524.2 448L1522.9 441.5zM1585.7 440.2L1580.6 444.3L1579.6 437.8zM1521.6 467.1L1515.9 470L1516.3 463.4zM1569.6 407.2L1565.7 412.4L1563.1 406.3zM1548.1 470.8L1542.3 473.6L1542.8 467zM1587.8 423.8L1583.2 428.4L1581.5 422zM1510.1 458.8L1504.6 462.4L1504.3 455.8zM1574.2 450.7L1568.9 454.4L1568.4 447.9zM1521.5 416.1L1518.2 421.7L1515 416zM1552.3 419.1L1548.3 424.2L1545.9 418zM1507.3 428.5L1503.8 433.9L1500.9 428zM1565.9 435.1L1561.1 439.5L1559.8 433zM1578.1 459.6L1572.6 463L1572.5 456.4zM1506 443.9L1501.5 448.5L1499.8 442.2zM1517.6 437.2L1513.3 442L1511.3 435.7zM1550.3 403L1546.9 408.6L1543.8 402.7zM1562.1 416.2L1558 421.2L1555.7 415.1zM1560.8 470.1L1555 473L1555.4 466.4zM1593.8 444.5L1588.7 448.4L1587.9 441.8zM1500.4 428L1497.1 433.7L1493.9 427.9zM1538.5 470L1532.6 472.9L1533.2 466.3zM1506 417.4L1503.2 423.3L1499.5 417.8zM1580.5 452.9L1575.2 456.6L1574.7 450zM1568.7 458.9L1563.1 462.4L1563 455.8zM1526 405.6L1523.1 411.4L1519.5 405.9zM1552.6 426.3L1548.2 431.2L1546.2 424.9zM1565.9 422.9L1561.6 427.7L1559.6 421.4zM1529.4 420.8L1525.6 426.2L1522.9 420.2zM1517.2 422.8L1513.7 428.3L1510.7 422.4zM1522.1 432.2L1518 437.2L1515.7 431zM1571.4 418.2L1567.2 423.1L1565.1 416.9zM1510.3 435.8L1506.2 440.8L1503.9 434.7zM1520.6 409.7L1517.7 415.5L1514.1 409.9zM1593 433.1L1588.1 437.4L1586.9 430.9zM1497.5 434.7L1493.8 440.1L1491 434.1zM1575.2 411.2L1571.1 416.3L1568.8 410.1zM1535.5 414.1L1532 419.6L1529 413.7zM1557.9 435.9L1553.1 440.3L1551.7 433.9zM1530.6 468.8L1524.8 471.7L1525.3 465.1zM1571.7 440L1566.8 444.2L1565.7 437.7zM1499.9 447.1L1495.2 451.7L1493.6 445.2zM1572.8 425.7L1568.3 430.3L1566.5 423.9zM1547.2 447.1L1542.1 451.1L1541.2 444.6zM1546.7 422.1L1541.2 418.7L1547 415.6zM1561.1 425.6L1555.3 422.6L1560.9 419.2zM1558.8 404.2L1552.8 401.6L1558.2 397.7zM1537.5 402.1L1531.9 398.8L1537.7 395.6zM1570.1 404.9L1564.1 402.6L1569.2 398.4zM1562.8 413.8L1556.9 411.1L1562.3 407.4zM1594.6 442.6L1588.6 440.2L1593.8 436.2zM1530.4 418.1L1525.2 414.3L1531.2 411.7zM1593.7 431.2L1587.6 429L1592.6 424.8zM1299.5 309L1305.7 310.9L1300.8 315.4zM1284.7 329.4L1291.1 330.5L1286.8 335.5zM1306.6 301.5L1312.7 303.7L1307.6 307.9zM1271.7 293.3L1278 294.9L1273.3 299.6zM1284.2 311L1290.5 312.5L1285.9 317.3zM1316.2 303.3L1322.3 305.7L1317.1 309.7zM1273 298.8L1279.3 300.4L1274.7 305.1zM1306.2 307.6L1312.3 309.7L1307.3 314zM1264.5 306.1L1270.8 307.4L1266.5 312.3zM1302.9 315.8L1309.2 317.6L1304.3 322.1zM1296.5 302.6L1302.7 304.6L1297.7 309zM1280.9 293.1L1287.1 295L1282.3 299.5zM1293 334.1L1299.4 335.3L1295.1 340.3zM1281.9 304.6L1288.2 306.2L1283.5 310.9zM1285.3 318.8L1291.7 320.1L1287.2 325zM1289.3 315.1L1295.6 316.7L1291 321.4zM1284.3 288.7L1290.5 290.6L1285.6 295zM1299.1 285.9L1305.1 288.2L1300 292.3zM1272.3 312.8L1278.7 314.1L1274.3 319zM1304.3 288.4L1310.3 290.8L1305.1 294.9zM1281.1 298.5L1287.4 300.2L1282.7 304.8zM1273.3 317.7L1279.7 318.9L1275.3 323.9zM1316.4 314.7L1322.5 316.9L1317.5 321.1zM1265.6 313L1272 314.2L1267.7 319.2zM1293.3 287.6L1299.4 289.8L1294.4 294zM1292.1 293L1298.3 295.1L1293.3 299.4zM1294.5 324.3L1300.8 325.7L1296.3 330.5zM1279 322.9L1285.4 324.1L1281.1 329.1zM1302.8 293.3L1308.9 295.5L1303.8 299.7zM1310.4 312.4L1316.5 314.5L1311.5 318.8zM1276.5 288.4L1282.7 290.2L1277.9 294.7zM1307.4 324.2L1313.7 326L1308.9 330.5zM1314.6 297.6L1320.7 300L1315.4 304zM1311.5 321.3L1317.7 323.2L1312.8 327.6zM1300.9 330.3L1307.3 331.8L1302.7 336.6zM1272.7 304.1L1279 305.6L1274.5 310.4zM1314.9 309L1321 311.3L1315.8 315.4zM1287.1 293.4L1293.3 295.4L1288.4 299.8zM1293.2 306.8L1299.4 308.6L1294.7 313.1zM1278.2 313.7L1284.6 315.1L1280.1 319.9zM1288 307.8L1294.3 309.5L1289.6 314.1zM1308 291.9L1314.1 294.3L1308.9 298.4zM1292.7 329.1L1299.1 330.4L1294.7 335.3zM1297.6 319.5L1303.9 321.1L1299.2 325.8zM1268.1 319.1L1274.6 320.1L1270.3 325.2zM1297.7 293.4L1303.9 295.6L1298.8 299.9zM1273.4 323.1L1279.8 324.1L1275.6 329.2zM1296.2 306.9L1289.8 308.2L1292 301.9zM1281.4 327.1L1274.9 327.4L1278 321.6zM1303.4 299.4L1297.1 301.1L1298.8 294.8zM1280.9 308.9L1274.4 309.8L1276.9 303.7zM1313.1 301.2L1306.8 302.9L1308.5 296.5zM1261.1 304L1254.7 304.8L1257.3 298.8zM1293.2 300.5L1286.9 302.1L1288.8 295.8zM1289.8 331.8L1283.3 332.1L1286.4 326.3zM1278.6 302.6L1272.2 303.8L1274.4 297.6zM1282 316.6L1275.6 317.3L1278.3 311.2zM1286 312.9L1279.6 313.9L1282.1 307.8zM1295.8 283.9L1289.7 286.2L1290.9 279.7zM1301.1 286.5L1295 288.6L1296.2 282.2zM1270 315.5L1263.5 316L1266.4 310.1zM1262.3 310.9L1255.8 311.4L1258.7 305.5zM1291.2 322L1284.8 322.7L1287.5 316.7zM1299.6 291.3L1293.4 293.2L1294.9 286.8zM1311.5 295.5L1305.3 297.4L1306.8 291zM1308.3 319L1301.9 320.1L1304.3 313.9zM1297.7 328.1L1291.2 328.6L1294.1 322.6zM1311.7 306.9L1305.4 308.4L1307.3 302.1zM1283.8 291.5L1277.6 293.2L1279.2 286.9zM1274.9 311.6L1268.5 312.3L1271.1 306.3zM1304.9 289.9L1298.7 292L1300.1 285.5zM1289.4 326.8L1283 327.3L1285.9 321.4zM1264.8 316.9L1258.3 317.2L1261.4 311.4zM1294.5 291.5L1288.3 293.4L1289.8 286.9zM1288.6 555.3L1291.7 549.5L1295.1 555.2zM1274.5 545.1L1278 539.6L1281 545.5zM1297.7 550.5L1300.7 544.8L1304.2 550.4zM1274.4 555L1277.6 549.4L1280.9 555.1zM1294.8 583.4L1296.9 577.2L1301.2 582.3zM1269.7 564.6L1272.8 558.9L1276.2 564.5zM1311.2 567.2L1313.4 561.1L1317.6 566.2zM1268.1 552.3L1271.5 546.7L1274.6 552.6zM1288.4 569.3L1291.1 563.4L1294.9 568.7zM1319.3 557.7L1321.7 551.7L1325.8 556.8zM1301.9 559L1304.6 553.1L1308.4 558.5zM1282.1 542.4L1285.5 536.9L1288.5 542.8zM1297 534.3L1300.5 528.9L1303.4 534.7zM1315.9 548.6L1318.6 542.7L1322.4 548.1zM1286 562.4L1288.9 556.6L1292.5 562.1zM1305.5 584L1307.4 577.8L1311.8 582.7zM1308 539.8L1311.2 534.1L1314.5 539.8zM1310.8 555.3L1313.4 549.3L1317.3 554.7zM1318.1 566.6L1320.2 560.5L1324.5 565.5zM1291.1 543.5L1294.4 537.9L1297.6 543.7zM1282.4 549.7L1285.7 544.1L1288.9 549.9zM1272.2 572.2L1275 566.3L1278.6 571.9zM1300.1 576L1302.3 569.9L1306.5 575zM1313.7 578.4L1315.6 572.2L1320.1 577.1zM1280.5 570.8L1283.2 564.9L1287 570.4zM1277.4 564.4L1280.4 558.6L1283.9 564.2zM1318.2 573.2L1320.1 567L1324.5 571.8zM1309.1 548.2L1312 542.4L1315.6 547.9zM1293.2 562.5L1296 556.6L1299.7 562zM1288.2 537.3L1291.7 531.9L1294.7 537.8zM1287.4 576.4L1289.9 570.4L1293.9 575.7zM1285.3 557.4L1282.4 563.2L1278.8 557.7zM1271.2 547.3L1269.2 553.5L1264.8 548.6zM1294.3 552.6L1291.4 558.4L1287.8 552.9zM1266.4 566.7L1263.6 572.6L1259.9 567.2zM1307.8 569.2L1303.9 574.4L1301.3 568.3zM1264.8 554.5L1262.8 560.7L1258.5 555.7zM1285 571.3L1281.5 576.8L1278.5 570.9zM1315.9 559.8L1312.3 565.2L1309.5 559.2zM1273.2 580.3L1269.5 585.6L1266.7 579.6zM1295.9 570.8L1292.2 576.1L1289.5 570.1zM1298.5 561.1L1295.1 566.7L1292 560.8zM1278.7 544.6L1276.6 550.7L1272.3 545.7zM1293.6 536.5L1291.3 542.6L1287.2 537.4zM1282.6 564.5L1279.4 570.2L1276.1 564.5zM1307.4 557.4L1304 562.9L1300.9 557zM1314.7 568.7L1310.7 573.8L1308.3 567.7zM1287.7 545.7L1285.2 551.7L1281.3 546.4zM1279.1 551.9L1276.6 558L1272.6 552.7zM1277 572.9L1273.6 578.4L1270.6 572.6zM1274 566.5L1271 572.3L1267.5 566.7zM1289.8 564.5L1286.4 570.1L1283.3 564.3zM1284 578.4L1280.1 583.6L1277.5 577.5zM1305.6 575.6L1301.5 580.6L1299.2 574.4zM1277.1 432.4L1283.2 430.1L1282 436.6zM1296.2 433.3L1302.4 431.1L1301.1 437.6zM1270.1 423.7L1276.3 421.7L1274.8 428.1zM1261 424L1267.1 422L1265.8 428.4zM1282.5 435.9L1288.6 433.6L1287.5 440.1zM1274.7 419.2L1280.9 417.5L1279.3 423.8zM1259.9 434.6L1266 432.2L1265 438.7zM1253.9 435.3L1259.9 432.9L1259 439.4zM1301.4 425.9L1307.7 424.1L1306 430.5zM1310.2 428.6L1316.5 426.8L1314.8 433.2zM1294 426.1L1300.3 424.2L1298.7 430.6zM1280.3 419.8L1286.5 418.1L1284.8 424.5zM1290 433.6L1296.1 431.4L1294.8 437.9zM1306 434.5L1312.1 432.3L1310.8 438.8zM1269.3 438.2L1275.3 435.7L1274.4 442.3zM1296.9 444.1L1302.9 441.6L1302.1 448.1zM1286.6 428.3L1292.8 426.3L1291.3 432.7zM1262.4 440.6L1268.4 438L1267.6 444.6zM1274.1 441L1280.1 438.5L1279.3 445zM1298 421.5L1304.3 419.9L1302.4 426.2zM1267.7 429.7L1273.8 427.5L1272.6 434zM1302.9 440.2L1308.9 437.8L1307.9 444.3zM1292.4 440.6L1298.4 438.1L1297.5 444.7zM1278 426.4L1284.2 424.4L1282.8 430.8zM1254.9 427.1L1261 424.9L1259.8 431.3zM1279.7 444.6L1285.6 441.9L1284.9 448.5zM1291.5 420.5L1297.8 418.8L1296 425.2zM1311.6 434.1L1317.8 432.1L1316.4 438.5zM1518 316.2L1518.3 322.7L1512.5 319.6zM1512.9 329.8L1513.1 336.3L1507.3 333.1zM1498.1 308.6L1499.2 315L1493 312.7zM1524.5 320.6L1524.4 327.1L1518.8 323.7zM1508 311L1508.7 317.4L1502.7 314.7zM1514.6 311.6L1515.1 318.1L1509.2 315.1zM1489.5 316.5L1490.8 322.8L1484.6 320.7zM1509.2 315.9L1509.8 322.4L1503.8 319.6zM1502.8 315.7L1503.6 322.1L1497.6 319.5zM1503.2 306.3L1504.2 312.7L1498.1 310.2zM1503.6 326.6L1504.2 333.1L1498.3 330.3zM1512.5 320.3L1512.9 326.8L1507.1 323.8zM1497.6 326L1498.4 332.5L1492.4 329.9zM1492.6 327.1L1493.6 333.5L1487.5 331.1zM1489.1 310.5L1490.5 316.9L1484.3 314.8zM1501.4 322.1L1502.2 328.5L1496.2 325.9zM1524.1 313.9L1524.2 320.4L1518.5 317.1zM1489.6 322.2L1490.8 328.6L1484.6 326.4zM1496.9 315.4L1498 321.8L1491.8 319.4zM1507.2 331.4L1507.6 337.9L1501.7 334.9zM1510.2 325.4L1510.6 331.9L1504.7 328.9zM1506.4 320.7L1507 327.2L1501 324.4zM1517.7 322L1517.9 328.5L1512.1 325.3zM1508.8 304.4L1509.6 310.9L1503.5 308.2zM1501.3 331.2L1501.9 337.6L1495.9 334.8zM1513.3 306.5L1513.9 313L1507.9 310.2zM1518 327.6L1518 334.1L1512.3 330.8zM1523.8 317.8L1517.3 317.7L1520.7 312.1zM1513.8 308.8L1507.3 309.1L1510.4 303.3zM1523.3 311.3L1516.8 311.8L1519.7 305.9zM1506.9 328.1L1500.8 325.8L1506 321.7zM1509.7 322.3L1503.4 320.7L1508 316zM1505.8 317.5L1499.5 316L1504 311.2zM1495.6 317.2L1489.7 314.5L1495.1 310.7zM1103.2 195.6L1109.3 198L1104.1 202zM1096.2 166.4L1101.9 169.5L1096.3 172.9zM1105 171.3L1110.6 174.7L1104.8 177.8zM1112.6 179L1118 182.6L1112.1 185.5zM1088.6 163.8L1094.4 166.6L1088.9 170.3zM1112 172.7L1117.4 176.4L1111.4 179.1zM1092.4 179.2L1098.4 181.7L1093.1 185.7zM1118.5 162.3L1123.4 166.6L1117.2 168.7zM1082.8 173.8L1088.9 176L1083.8 180.2zM1116.1 186L1121.5 189.5L1115.6 192.4zM1108.3 160.8L1113.6 164.6L1107.6 167.3zM1098.4 179.8L1104.3 182.6L1098.8 186.3zM1103.7 186.8L1109.6 189.6L1104.1 193.3zM1123.2 182.9L1128.3 187L1122.1 189.3zM1095.2 194.9L1101.4 196.9L1096.5 201.3zM1104.7 165.9L1110.2 169.4L1104.3 172.4zM1092.1 190.1L1098.3 192.1L1093.3 196.5zM1088.5 175.7L1094.5 178.2L1089.3 182.2zM1108.8 186.3L1114.5 189.5L1108.8 192.8zM1087 182.1L1093.2 184.2L1088.2 188.5zM1111.2 194.8L1117 197.7L1111.4 201.2zM1096.9 160.3L1102.5 163.6L1096.7 166.8zM1106.2 176.9L1111.9 180.2L1106.1 183.4zM1113.3 163.1L1118.5 167.1L1112.4 169.5zM1118.6 167.7L1123.6 171.8L1117.4 174.1zM1099.7 170.2L1105.4 173.3L1099.7 176.7zM1082 179.1L1088.2 181.1L1083.2 185.5zM1126.4 177.3L1131.2 181.6L1124.9 183.6zM1091.2 170L1097.1 172.7L1091.7 176.5zM1084.2 166.7L1090.2 169.2L1084.8 173.1zM1118.1 174.1L1123.2 178.1L1117.1 180.5zM1117.2 190.9L1122.7 194.4L1116.8 197.4zM1095.1 186.2L1101.2 188.5L1096 192.6zM1099.4 191.6L1105.5 193.9L1100.3 198zM1053 219.9L1055.6 225.9L1049 225zM1044.8 233.1L1048 238.8L1041.4 238.7zM1048.2 226.7L1051.1 232.5L1044.6 232.1zM1048.6 214.9L1051.6 220.7L1045 220.3zM1055 224.7L1057.2 230.8L1050.7 229.7zM1051.1 236L1053.6 242L1047 241.1zM1044.7 218L1047.9 223.7L1041.3 223.6zM1039.3 231.8L1043 237.1L1036.5 237.6zM1036.2 225.7L1040.2 230.8L1033.6 231.7zM1039.4 218.7L1043.1 224L1036.5 224.5zM1055.7 230.2L1057.8 236.3L1051.3 235zM1039.4 237.3L1043.2 242.6L1036.6 243.2zM1056.4 236.2L1058.3 242.5L1051.9 240.9zM1046.1 240L1049.1 245.7L1042.5 245.4zM1042.8 228.2L1046.3 233.8L1039.7 233.9zM1058.2 220.6L1060.3 226.7L1053.8 225.4zM1059.9 226.9L1061.6 233.2L1055.2 231.5zM1042.2 223L1045.7 228.5L1039.1 228.7zM1052 241L1054.3 247.1L1047.8 246zM1565.6 183.6L1559.8 186.4L1560.4 179.8zM1561.6 178.9L1555.9 182L1556.2 175.4zM1563.8 170.2L1558.4 173.8L1558.1 167.2zM1568.7 170.2L1563.3 173.8L1563 167.2zM1566.7 165.1L1561.5 169L1560.8 162.4zM1566.3 175.4L1560.7 178.7L1560.7 172.1zM1562 162.5L1556.9 166.5L1556 160zM1566.5 179.6L1560.7 182.7L1561.1 176.1zM1566.8 161.5L1561.8 165.5L1560.8 159zM1562.5 175.5L1556.9 178.8L1556.9 172.2zM1552.6 326.7L1546.1 327.1L1549.1 321.2zM1556.9 326.6L1555.8 333L1550.8 328.7zM1556.4 324.3L1549.9 325L1552.6 319zM1552.7 317.6L1551.9 324L1546.7 320zM1552.1 315.3L1545.7 316.6L1547.9 310.4zM1557.9 317.5L1556.9 323.9L1551.8 319.7zM1550 329.6L1548.9 336L1543.9 331.8zM1549.5 327.1L1543 327.4L1546.1 321.6zM1560.9 326.2L1559.6 332.6L1554.7 328.2zM1560.4 323.9L1553.9 324.8L1556.5 318.7zM1553.6 321.8L1552.7 328.2L1547.5 324zM1553 319.5L1546.6 320.4L1549.1 314.3zM1550.4 326.5L1549.4 333L1544.3 328.8zM1265.9 494.5L1260.8 498.6L1259.9 492zM1223 505.5L1216.6 506.9L1218.6 500.6zM1247.8 526.3L1241.3 525.9L1245 520.5zM1266.4 506.6L1260.5 509.4L1261.1 502.9zM1250.1 492.1L1245.5 496.7L1243.9 490.3zM1261.4 517.7L1255.1 519.2L1257.1 512.9zM1228.9 495.9L1224.8 500.9L1222.5 494.7zM1218.6 519L1213.5 515L1219.6 512.6zM1229.8 489.6L1227.1 495.5L1223.3 490.1zM1235.7 502.1L1230.1 505.4L1230.1 498.8zM1212.1 502.1L1218.6 502.6L1214.8 508zM1252.4 500.3L1246.9 503.8L1246.6 497.2zM1259.7 489.2L1255.1 493.9L1253.4 487.5zM1217.6 497.9L1215 503.8L1211.1 498.6zM1437.5 236.3L1440.9 241.8L1434.3 241.9zM1374.1 153.6L1378.5 158.4L1372.1 159.8zM1422 296.3L1425.9 301.5L1419.3 302.2zM1377.6 274.3L1382.5 278.6L1376.3 280.7zM1307.4 214.4L1313 217.8L1307.2 220.9zM1337 208.3L1342.2 212.2L1336.1 214.7zM1410.3 275.3L1414.5 280.3L1408 281.4zM1394.6 277.7L1399.2 282.3L1392.7 283.9zM1359.3 140.7L1363.9 145.3L1357.5 146.9zM1384.2 249.3L1388.8 253.8L1382.4 255.5zM1427.5 123.8L1431 129.3L1424.4 129.5zM1345.3 164L1350.2 168.3L1343.9 170.3zM1385.4 276.3L1390.2 280.8L1383.9 282.6zM1349.3 125.4L1353.9 130L1347.6 131.7zM1461.4 277.8L1464 283.7L1457.5 283zM1438.7 124.2L1442.1 129.7L1435.5 129.8zM1347.5 149.6L1352.3 154.1L1345.9 155.9zM1464.5 140.1L1467.4 145.9L1460.8 145.4zM1323.7 157.7L1328.7 161.7L1322.6 164.1zM1442.4 153.6L1445.6 159.3L1439 159.2zM1476.8 174L1479.3 180L1472.8 179.1zM1417.2 152.5L1420.9 157.8L1414.3 158.3zM1353.4 276.9L1358.8 280.6L1352.8 283.4zM1479.3 161.8L1481.8 167.8L1475.3 166.9zM1363.4 127.6L1367.8 132.3L1361.4 133.8zM1335.7 187.9L1340.8 192L1334.6 194.3zM1394.2 222.9L1398.5 227.8L1392 229.1zM1363.4 146.2L1367.9 150.8L1361.5 152.4zM1400.3 181.5L1404.4 186.6L1397.8 187.5zM1363 296.9L1368.3 300.5L1362.3 303.3zM1176.8 428L1182.7 425.5L1181.9 432zM1391.7 406L1397.8 408L1392.8 412.4zM1163.4 359.9L1169.8 358.8L1167.5 364.9zM1325.5 449.1L1331.4 446.5L1330.7 453zM1211.4 400.6L1217.6 398.9L1215.9 405.3zM1170.7 411.4L1176.8 409.2L1175.6 415.7zM1343.2 405.9L1349.7 405.9L1346.4 411.6zM1349.8 366.6L1356.1 368.4L1351.3 372.9zM1321.6 401.5L1328.1 401.1L1325.1 407zM1306.4 342.3L1312.7 343.5L1308.3 348.5zM1270.9 423.4L1277.1 421.5L1275.6 427.9zM1218.2 413.5L1224.3 411.5L1222.9 417.9zM1166.7 393.2L1172.9 391.3L1171.3 397.7zM1387.6 428.1L1394.1 428.4L1390.5 434zM1283.5 460.7L1289.1 457.4L1289 464zM1328.3 407.2L1334.7 406.7L1331.8 412.6zM1252 461.1L1257.7 457.8L1257.6 464.4zM1297.3 403.9L1303.7 402.9L1301.2 409.1zM1250.9 353.9L1257.4 353.8L1254.1 359.6zM1207.7 420.7L1213.8 418.5L1212.6 425zM1290.9 446.4L1296.9 443.7L1296.2 450.3zM1269.6 388.5L1276.1 387.7L1273.5 393.7zM1295 368.8L1301.5 369L1297.9 374.6zM1392.4 426.5L1398.8 427.2L1394.9 432.5zM1234.1 404.3L1240.4 402.6L1238.6 409zM1363.8 472.4L1368.9 468.3L1369.8 474.9zM1330 461.6L1335.6 458.3L1335.6 464.9zM1355.1 386.4L1361.5 387.7L1357.1 392.6zM1262.2 400.4L1268.5 399.1L1266.4 405.4zM1174.5 419L1180.5 416.7L1179.5 423.2zM1294.5 448.3L1300.4 445.5L1299.8 452.1zM1243.6 476.4L1248.9 472.7L1249.4 479.3zM1339.1 417.6L1345.6 416.9L1342.9 422.9zM1216.6 470L1222.1 466.5L1222.3 473.1zM1325.9 425.7L1332.3 424.3L1330.3 430.5zM1208.3 360.5L1214.8 359.8L1212.1 365.8zM1163.8 492.7L1169 488.8L1169.8 495.4zM1167.3 507.5L1172.3 503.3L1173.4 509.8zM1180.1 477.7L1185.5 474.1L1185.9 480.7zM1034.8 512.1L1040 508.1L1040.8 514.7zM1183.2 474.4L1188.7 470.8L1189 477.4zM1129.6 488.7L1134.9 484.9L1135.5 491.5zM1031.8 416.3L1037.7 413.6L1037 420.2zM1105.8 410.4L1111.9 408L1110.9 414.5zM1061 519.2L1066 515.1L1067 521.7zM1044.1 457.9L1049.8 454.7L1049.7 461.3zM1193.2 486.1L1198.5 482.3L1199.1 488.8zM1084.8 415.1L1090.8 412.5L1090 419.1zM1137.9 446.4L1143.7 443.4L1143.4 450zM1129.6 551.1L1134 546.4L1135.9 552.7zM1159 420L1165.1 417.6L1164.1 424.1zM1183.8 499.5L1188.8 495.4L1189.8 502zM991.7 388.2L997.7 385.8L996.7 392.3zM1010.2 485.1L1015.6 481.5L1016 488.1zM1070.6 381.2L1076.8 379.2L1075.4 385.7zM1188.9 392.5L1195.1 390.8L1193.4 397.2zM1160.8 469.3L1166.3 465.9L1166.5 472.5zM1150.7 525.3L1155.5 520.9L1156.9 527.4zM1322.9 628.3L1323.4 621.8L1328.8 625.6zM1319.1 571.8L1321.1 565.6L1325.5 570.5zM1275.4 591.5L1277.8 585.5L1281.9 590.7zM1211.5 561.6L1215.4 556.3L1218 562.4zM1178.9 535.9L1183.4 531.2L1185.2 537.5zM1224.7 641.4L1226.9 635.3L1231.1 640.3zM1193.7 562.3L1197.7 557.1L1200.2 563.2zM1163.9 490.2L1169.2 486.3L1169.8 492.9zM1255 579.4L1257.9 573.6L1261.5 579.1zM1256.3 646.6L1257.9 640.3L1262.6 644.9zM1246.9 585.3L1249.8 579.5L1253.4 585.1zM1327.1 501.2L1331.3 496.2L1333.5 502.4zM1305.8 501.9L1310.3 497.2L1312.2 503.5zM1327.4 607.6L1328.2 601.1L1333.4 605.2zM1307.5 624.5L1308.5 618L1313.6 622.2zM1160.9 494.1L1166.1 490.1L1166.8 496.7zM1235.6 490.8L1240.7 486.8L1241.6 493.3zM1334 509.2L1337.8 503.9L1340.5 509.9zM1198.2 602.3L1201.4 596.6L1204.7 602.3zM1173.4 625.3L1176.4 619.5L1179.9 625.2zM1222.2 570.2L1225.7 564.7L1228.6 570.6zM1319.2 491.9L1323.9 487.3L1325.5 493.7zM1202.8 544.1L1207.1 539.1L1209.2 545.4zM1293.4 528.8L1297.1 523.5L1299.8 529.5zM1236.3 514.8L1240.9 510.2L1242.5 516.6zM1269.6 550.3L1273 544.8L1276.1 550.6zM1231.9 629.2L1234.2 623.1L1238.4 628.2zM1131.2 620.5L1134.7 615L1137.7 620.9zM1345.8 613.1L1346 606.6L1351.6 610.1zM1305.7 659.7L1306.1 653.3L1311.6 657zM1308.2 668.4L1308.4 661.9L1314 665.5zM1333.4 716.3L1332.6 709.8L1338.7 712.4zM1283.8 606.5L1285.7 600.3L1290.2 605.1zM1254.5 603.5L1256.9 597.4L1260.9 602.7zM1233.9 660.9L1235.7 654.7L1240.3 659.4zM1095.7 674.8L1098.7 669L1102.2 674.6zM1542.1 491.7L1535.8 493.3L1537.7 487zM1610.6 529.5L1604.2 530.6L1606.6 524.4zM1503.5 526.7L1497.2 525.1L1501.9 520.4zM1595.7 529.8L1589.2 530.5L1591.8 524.5zM1536.3 470.9L1530.5 473.7L1531.1 467.1zM1575.5 482.7L1569.5 485.1L1570.5 478.6zM1578.7 477.8L1572.8 480.5L1573.5 473.9zM1557.4 476.3L1551.5 478.9L1552.3 472.3zM1560.7 486L1554.5 488.1L1555.8 481.7zM1487.1 527.8L1481.1 525.2L1486.5 521.3zM1583.4 514.6L1577 515.8L1579.3 509.6zM1526.9 497.4L1520.5 498.4L1523 492.3zM1407.3 526.9L1406.9 520.4L1412.8 523.4zM1391.8 552.6L1391.6 546.1L1397.4 549.2zM1383.5 558.6L1383.5 552.1L1389.2 555.4zM1413.7 577.8L1411.8 571.7L1418.2 573.1zM1422.9 529.3L1421.1 523.1L1427.5 524.7zM1415.3 517L1414.5 510.6L1420.6 513.3zM1395.7 571.1L1394.8 564.7L1400.9 567.1zM1400.7 550L1400 543.5L1406 546.2zM1382.2 488.6L1385.9 483.3L1388.7 489.3zM1422.5 542.1L1420.4 535.9L1426.9 537.3zM1417.8 538.9L1416.2 532.6L1422.5 534.4zM1389.1 527.5L1389.9 521L1395.1 525.1zM1406.6 535.3L1405.9 528.8L1411.9 531.5zM1429.5 522.7L1427.2 516.6L1433.7 517.7zM1236.2 297.2L1242.7 298.2L1238.5 303.3zM1244.5 266.7L1250.8 268.3L1246.1 273zM1329.9 217.7L1335.2 221.5L1329.2 224.2zM1240.7 296L1247.1 297L1242.9 302.1zM1236 278.5L1242.4 279.8L1238 284.7zM1298 299.4L1304.2 301.4L1299.2 305.8zM1196 237.2L1202.4 238.6L1197.9 243.5zM1312.6 235L1318.2 238.2L1312.4 241.5zM1209.6 278.6L1216.1 279.5L1211.9 284.7zM1212.5 267.8L1218.9 268.9L1214.6 273.9zM1302.1 278.7L1308.1 281.2L1302.9 285.2zM1288.2 230.4L1294 233.3L1288.5 236.9zM1267.7 261.2L1273.8 263.3L1268.8 267.6zM1222.6 278.8L1229 279.8L1224.7 284.9zM1315.4 294.3L1321.4 296.8L1316.1 300.8zM1258.5 271.9L1264.7 273.6L1259.9 278.2zM1325.5 257.2L1331.1 260.5L1325.3 263.7zM1244.2 232.5L1250.3 234.6L1245.3 238.9zM1191.4 287.3L1197.9 287.8L1194.1 293.2zM1330.5 256.3L1336.1 259.7L1330.2 262.8zM1301.2 291.5L1307.3 293.7L1302.2 297.9zM1188.8 239L1195.2 240.3L1190.8 245.2zM1441.3 339.8L1444.6 345.4L1438 345.4zM1414.8 400.5L1420 404.4L1413.9 406.9zM1417.7 362.7L1422.2 367.5L1415.8 368.9zM1451.2 315.8L1454.1 321.7L1447.5 321.2zM1453.9 334L1456.6 339.9L1450 339.2zM1459 411.9L1460.1 418.3L1453.9 416zM1450.6 430.6L1451.9 437L1445.7 434.9zM1465.6 415.8L1465.8 422.3L1460 419.1zM1413.9 415.7L1419.5 418.9L1413.8 422.2zM1408.4 328.8L1412.9 333.5L1406.4 335.1zM1458.9 355.2L1461.2 361.3L1454.7 360.1zM1454.2 334.3L1456.8 340.2L1450.3 339.5zM1408.7 308.6L1413 313.4L1406.6 314.7zM1461 422.8L1461.2 429.3L1455.4 426.2zM1466.4 372.6L1468 378.9L1461.7 377zM1453.5 355.4L1456 361.4L1449.5 360.6zM1410.8 336.6L1415.3 341.3L1408.9 342.8zM1438.8 374.9L1442.2 380.5L1435.6 380.6zM1322.5 594.6L1328.8 592.9L1327.1 599.3zM1062.6 592.9L1068.5 590.1L1067.9 596.7zM1201.7 599.9L1207.6 597.3L1206.8 603.9zM1217.6 598L1223.6 595.5L1222.7 602.1zM1281.6 596.1L1287.7 593.9L1286.4 600.4zM1215.8 574.2L1222 572.3L1220.5 578.7zM1259.1 692L1263.4 687.1L1265.5 693.3zM1335.2 608.8L1341.3 606.6L1340.1 613zM1351.2 675.3L1354.8 669.9L1357.7 675.9zM1208.1 684.1L1212.8 679.6L1214.3 686zM1095.8 577.8L1101.8 575.3L1100.9 581.8zM1351.9 606.1L1358.1 604.2L1356.6 610.6zM1114.6 661.9L1119.9 658.1L1120.5 664.6zM1165.1 576.9L1171.2 574.7L1170 581.2zM1172.3 606.3L1178.2 603.5L1177.6 610.1zM1263.9 581.5L1270.1 579.7L1268.5 586.1zM1382.9 639.4L1387.9 635.3L1389 641.8zM1148.3 622.8L1154 619.6L1153.9 626.2zM1369.8 566.5L1376.2 567.4L1372.1 572.5zM1159 590.3L1165 587.7L1164.1 594.3zM1260 694.6L1264.2 689.7L1266.3 695.9zM1235.6 636L1241.1 632.5L1241.3 639.1zM1069.6 655.7L1075 652L1075.4 658.6zM1090.8 588L1096.7 585.4L1096 591.9zM1271.8 637.9L1277.2 634.3L1277.5 640.9zM1099.9 592.8L1105.8 590.1L1105.1 596.7zM1080 689.2L1085 685L1086 691.5zM1393.8 622.1L1399.8 619.5L1398.9 626.1zM1518.8 656.5L1512.4 657.6L1514.7 651.5zM1494.7 682.8L1488.5 680.8L1493.4 676.4zM1530.7 677.1L1524.2 677.1L1527.5 671.4zM1529.6 657.6L1523.2 658.9L1525.4 652.6zM951.9 211.5L958.4 212.5L954.2 217.6zM970 284.2L975.7 281.1L975.4 287.7zM971.1 367.8L972.4 361.4L977.3 365.8zM957 355.1L959.4 349.1L963.4 354.3zM973.4 261.5L979.8 260.3L977.5 266.5zM1010 289.1L1015.4 285.5L1015.8 292zM977 354.9L978.6 348.6L983.3 353.3zM952.9 336.5L956.2 331L959.4 336.8zM945.6 274.5L951.6 272L950.8 278.5zM972.3 289.2L977.8 285.7L978 292.3zM948.6 394.9L949.8 388.5L954.8 392.9zM955.3 350.9L957.9 344.9L961.8 350.3zM949.4 379.2L951.1 373L955.7 377.7zM986.2 260.4L992.7 259.7L989.9 265.7zM972.8 319.6L976.6 314.2L979.3 320.2zM944.4 301.3L949.5 297.3L950.5 303.8zM959.2 278.2L965.1 275.5L964.4 282zM1007 214.4L1012.4 217.9L1006.6 220.9zM967.6 223.2L974 224.2L969.8 229.3zM999.3 303.3L1003.4 298.3L1005.7 304.5zM969.9 365.3L971.4 359L976.2 363.5zM999.5 404L998.4 397.6L1004.5 400zM1003.8 229.6L1009.7 232.3L1004.3 236.1zM977.3 316L981.1 310.7L983.7 316.8zM992.1 265.4L998.5 264.5L996 270.6zM954.3 306.3L959.1 301.9L960.5 308.3zM1001.5 413.7L1000.1 407.4L1006.4 409.5zM989.4 206.7L995.3 209.5L989.9 213.2zM990.2 295.8L995.2 291.6L996.3 298.1zM997.8 400.1L996.8 393.7L1002.9 396.2zM1399.6 394.6L1393.3 396.2L1395.2 389.9zM1274.1 389.9L1267.6 390.6L1270.3 384.6zM1386.2 413.7L1379.8 414.8L1382.1 408.6zM1356.8 397.2L1350.5 398.4L1352.7 392.2zM1258.6 267.9L1253.3 271.6L1252.7 265.1zM1436.3 267L1430.9 270.6L1430.5 264zM1149.3 322.1L1142.9 323.5L1145 317.2zM1410.5 413.1L1404.1 414.4L1406.2 408.2zM1287.5 291.1L1281.9 294.3L1282 287.7zM1211.2 384L1204.7 384.1L1208 378.3zM1276.9 282L1271.3 285.4L1271.2 278.8zM1289.1 297L1283.4 300.1L1283.7 293.5zM1422.9 412L1416.6 413.4L1418.6 407.1zM1437.7 361.8L1431.6 364L1432.9 357.5zM1365 301.3L1359.2 304.4L1359.5 297.8zM1347.2 294.5L1341.6 297.7L1341.7 291.1zM1196 383.6L1189.5 383.4L1193 377.8zM1257.4 325.6L1251.3 327.9L1252.4 321.4zM1230.2 315.2L1224.1 317.6L1225.1 311.1zM1198.2 361L1191.7 361.5L1194.5 355.6zM1218.1 256.3L1213.1 260.5L1212 254zM1270 316L1264 318.6L1264.8 312zM1056.3 546.8L1052.7 541.4L1059.3 541.1zM1046.4 376L1042.9 370.5L1049.5 370.3zM1126.6 386.1L1120.5 383.9L1125.6 379.7zM1004.9 310.6L1008 304.9L1011.4 310.5zM1046 323.1L1042.4 317.7L1049 317.3zM1148.9 495.4L1143.4 491.9L1149.3 489zM1036.5 333.8L1034.1 327.7L1040.7 328.8zM954.3 416.4L954.7 409.9L960.2 413.7zM1037.6 379.3L1034.7 373.4L1041.3 373.9zM1029 538.2L1026 532.4L1032.6 532.8zM1032.5 473.1L1029.5 467.3L1036.1 467.7zM1106.3 352.5L1100 350.7L1104.8 346.2zM977 460.6L976 454.2L982.1 456.6zM962.1 474.2L961.3 467.7L967.4 470.4zM1052.6 486.6L1049.1 481.1L1055.7 480.8zM1054.5 321L1049.7 316.7L1056 314.7zM997 209.9L1002.7 213L997.1 216.4zM1013.2 214.3L1018.4 218.1L1012.3 220.7zM1011.5 186L1016.4 190.3L1010.1 192.3zM1000.4 149.2L1005.3 153.6L999 155.6zM1070.2 221.8L1071.2 228.2L1065.1 225.7zM1032.4 127.5L1036.1 132.9L1029.5 133.4zM1013.4 231.4L1019.5 229.2L1018.3 235.7zM970.2 204.8L976.5 203.2L974.7 209.5zM1113 257.8L1118.5 254.4L1118.6 261zM1119.2 292.3L1120.5 285.9L1125.4 290.4zM1104.5 309.6L1105.8 303.2L1110.7 307.6zM1004.2 232.4L1010.3 230L1009.2 236.5zM947.8 289.6L952.8 285.5L953.8 292zM1040 203.6L1046.5 203L1043.6 209zM958.4 225.6L964.5 223.2L963.4 229.7zM1063.6 303.7L1067 298.1L1070.1 304zM1102.3 273L1106.6 268.1L1108.7 274.4zM1044.5 276L1049.5 271.8L1050.6 278.3zM1443.3 290.5L1437.4 293.1L1438.1 286.5zM1354.4 387.6L1347.9 387.4L1351.4 381.8zM1307.4 358.6L1300.9 358.3L1304.5 352.8zM1331.7 262.1L1326 265.2L1326.2 258.6zM1477.8 350.9L1471.5 352.6L1473.4 346.2zM1200.1 427.8L1195.4 423.3L1201.7 421.5zM1267.8 276.3L1261.7 278.7L1262.8 272.2zM1315.5 248.3L1310.1 251.9L1309.7 245.3zM1469.4 352.4L1463.1 354L1465 347.6zM1207 374.6L1201.6 371L1207.6 368.1zM1470.8 272.2L1465 275.3L1465.3 268.7zM1286.6 246.6L1281.2 250.4L1280.7 243.8zM1427 246.1L1421.6 249.6L1421.3 243zM1312.1 340.4L1305.6 340.7L1308.6 334.9zM1354.2 368.8L1347.7 369L1350.9 363.3zM1321.6 369.2L1315.1 368.8L1318.8 363.3zM1231 381.1L1225.2 378.2L1230.8 374.6zM1476.9 329.3L1470.7 331.4L1472.1 324.9zM1226.4 415.9L1221 412.2L1226.9 409.4zM1484.8 310.2L1478.7 312.6L1479.8 306.1zM1427.9 363.4L1421.5 364.5L1423.8 358.3zM1270.2 325.4L1263.7 325.4L1267 319.7zM1377.5 231L1372.3 234.9L1371.5 228.4zM1260.5 305.1L1254.1 305.9L1256.7 299.9zM1468.5 392.5L1462.1 393.3L1464.7 387.2zM1376 245.9L1370.6 249.5L1370.3 242.9zM1298.2 315L1291.8 316L1294.2 309.8zM1330.5 331.4L1324.1 332.3L1326.6 326.2zM1221.9 156.4L1221.4 162.8L1216 159zM1180.5 205.8L1180.5 212.3L1174.8 209zM1168.6 174.4L1170.6 180.6L1164.2 179.2zM1201.8 170.4L1201.8 176.9L1196.1 173.5zM1232.1 173.8L1230.6 180.1L1225.9 175.5zM1154.5 227.3L1157.2 233.2L1150.6 232.4zM1237.5 172L1235.8 178.3L1231.2 173.6zM1159.4 177L1162.1 183L1155.6 182.3zM1162.2 178.1L1164.7 184.1L1158.2 183.2zM1181.8 193.7L1182.3 200.1L1176.4 197.3zM1153.8 229L1156.5 234.9L1150 234.2zM1154.1 145.2L1157.3 150.9L1150.7 150.7zM1124.2 300.8L1124.3 294.3L1129.9 297.8zM1113.3 439.4L1111.2 433.3L1117.7 434.6zM1147.9 373L1144.8 367.3L1151.4 367.5zM1121.1 389.6L1119.1 383.4L1125.6 384.8zM1204.4 404.7L1199.4 400.6L1205.6 398.3zM1141.7 465.8L1138.7 460.1L1145.3 460.4zM1124.7 315.3L1124 308.8L1130 311.5zM1198.7 303.2L1192.4 301.6L1197 296.9zM1177.6 303.6L1172 300.3L1177.7 297.1zM1146.4 404.6L1143.3 398.9L1149.9 399.1zM1181.6 407.9L1177.3 403.1L1183.7 401.7zM1208.9 494.2L1204.4 489.6L1210.8 488zM1235.1 491.4L1231.4 496.7L1228.6 490.7zM1405.9 550.2L1399.7 552.1L1401.3 545.7zM1232.4 587.5L1227.9 582.8L1234.3 581.3zM1357.4 426.5L1354 432.1L1350.9 426.2zM1316.1 631.6L1310 629.3L1315.2 625.2zM1256.5 440.3L1255.9 446.7L1250.5 442.9zM1351 410.2L1348.2 416.1L1344.5 410.6zM1201.7 634.4L1198.8 628.6L1205.4 629.1zM1290.8 506.3L1285.1 509.3L1285.4 502.7zM1147.2 476.6L1153.6 475.5L1151.2 481.7zM1411.6 451.2L1407 455.8L1405.4 449.4zM1081.7 618.9L1083.7 612.7L1088.1 617.6zM1139.3 602.1L1139.9 595.6L1145.3 599.5zM1114.8 447.9L1121.3 447.7L1118.1 453.5zM1291.5 618.7L1285.8 621.9L1286 615.3zM1090.5 660L1094.4 654.7L1096.9 660.8zM1014.3 601L1020.1 598.1L1019.6 604.7zM1271.8 629.7L1265.7 631.9L1266.8 625.4zM1003.9 713.2L1007.4 707.7L1010.4 713.6zM1250.7 688.6L1244.7 686.2L1249.9 682.1zM1297.5 524.2L1295.5 530.4L1291.1 525.5zM1245.7 536.9L1245.5 543.4L1239.9 539.9zM1155.4 537.7L1160.9 541.3L1155 544.2zM1183.4 539.2L1187.5 544.2L1181 545.2zM1150.6 535.4L1156.2 538.7L1150.4 541.9zM1204.9 532.5L1207.6 538.5L1201 537.7zM1282.4 548.6L1280 554.7L1276 549.4zM1140.5 587.4L1147 587.1L1144 592.9zM1152.8 514.6L1158 518.5L1151.9 521zM1245.8 597.7L1241.7 602.7L1239.4 596.5zM1127.2 514.1L1133.1 516.9L1127.6 520.6zM1227.3 561.6L1227.3 568.1L1221.6 564.7zM1256 502.8L1256.2 509.3L1250.4 506.1zM1211.2 574.4L1212.2 580.9L1206.1 578.5zM1155 594.8L1150.9 599.8L1148.6 593.6zM1138.4 595.2L1134.4 600.4L1131.9 594.3zM1100.8 610.9L1096.9 616L1094.4 609.9zM1110.6 570.1L1107.9 576L1104.1 570.6zM1165.5 568.8L1162 574.2L1159 568.3zM1167.4 570.3L1163.8 575.7L1161 569.8zM1212 543.3L1208.5 548.8L1205.5 542.9zM1472.5 177L1468 172.3L1474.4 170.8zM1401.4 180.9L1406.7 177.2L1407.3 183.7zM1406.6 185.2L1411.6 181.1L1412.6 187.6zM1460.2 191.1L1460.9 184.6L1466.2 188.5zM1446.4 210.6L1447 204.1L1452.4 208zM1435.3 247.2L1434.9 240.7L1440.8 243.7zM1464.6 191L1464 184.6L1470 187.3zM1412.7 259.2L1413.2 252.7L1418.6 256.5zM1471.1 175.4L1474.9 170.1L1477.5 176.1zM1421.7 213.1L1424.2 207.1L1428.1 212.4zM1416.3 225L1418.2 218.8L1422.7 223.7zM1446.6 153.9L1453 154.9L1448.8 160zM1333.5 124.1L1339.9 122.9L1337.6 129.1zM1361.9 162.6L1367.8 159.9L1367.1 166.5zM1363.9 176.3L1369.5 172.9L1369.6 179.5zM1346.7 178.9L1352.2 175.4L1352.4 182zM1405.3 134.9L1411.8 135L1408.4 140.6zM1321.1 118.2L1327.5 117.1L1325.2 123.3zM1406.8 409.3L1406.7 402.8L1412.5 406zM1396.4 299L1401.5 295L1402.4 301.5zM1490.5 402.4L1486.5 397.3L1493 396.5zM1524.7 414.2L1519.5 410.2L1525.7 407.8zM1506.3 341.5L1500.6 338.3L1506.3 335zM1483.1 397.7L1479.4 392.4L1486 391.9zM1407.5 412L1407.3 405.5L1413 408.6zM1502.6 341.7L1497.1 338.2L1502.9 335.2zM1548.3 418.2L1542.7 415L1548.4 411.7zM1531.2 392.2L1525.6 388.8L1531.4 385.7zM1501.9 403.3L1497.4 398.6L1503.9 397.1zM1542 343.5L1535.5 342.5L1539.8 337.4zM1416.4 314.2L1420.1 308.9L1422.8 314.9zM1537.2 336.6L1530.7 335.8L1534.8 330.6zM1533.9 435.9L1528.8 431.9L1534.9 429.5zM1447.9 344.5L1447.4 338L1453.3 340.8zM1411.8 369.3L1412.6 362.8L1417.8 366.9zM1423.5 411.4L1422.6 404.9L1428.7 407.5zM1400.5 384.7L1401.3 378.2L1406.5 382.2zM1430.7 430.8L1429.2 424.5L1435.5 426.4zM1442.9 360.6L1442.1 354.1L1448.1 356.8zM1444 392.1L1442.5 385.8L1448.8 387.7zM1191.2 200.9L1197.6 201.2L1194 206.7zM1242.4 363.5L1240.2 357.4L1246.7 358.7zM1218.6 337.2L1218.3 330.7L1224.1 333.8zM1226.5 171.3L1231.9 174.9L1226 177.8zM1216.1 232.2L1222.5 231L1220.2 237.3zM1276 281.3L1271.1 277.1L1277.3 274.9zM1313.4 280.3L1306.9 280.1L1310.4 274.5zM1262.3 246.9L1268.5 249L1263.5 253.3zM1290.9 205L1291 211.5L1285.2 208.2zM1252.8 363.7L1250.1 357.8L1256.7 358.5zM1266.9 169.5L1270.1 175.2L1263.5 175zM1309.4 203.4L1307.9 209.7L1303.1 205.2zM1225.9 282.4L1228.1 276.2L1232.3 281.3zM1219.9 374.2L1218.7 367.8L1224.9 370zM1390.5 363.5L1384.2 362.2L1388.6 357.3zM1169.3 204.4L1175.7 203.8L1172.9 209.7zM1045.6 592.6L1040.4 588.7L1046.5 586.2zM1113.4 530.6L1107.8 533.9L1107.9 527.3zM1016.7 520.2L1021.6 524.5L1015.4 526.6zM984.7 641.3L983.2 634.9L989.5 636.9zM1057.1 578.4L1051.1 576L1056.3 572zM1115 575.4L1108.5 575.9L1111.4 570zM1044 608.8L1039.2 604.4L1045.5 602.4zM1105.4 595.6L1098.9 594.8L1102.9 589.6zM1292.6 557.3L1289.5 563L1286.1 557.3zM1314.5 560.2L1310.8 565.5L1308 559.6zM1416.1 472.1L1413.2 478L1409.6 472.4zM1358.1 489L1355.7 495.1L1351.7 489.9zM1343.6 535.7L1340.2 541.3L1337.1 535.5zM1400.1 471.9L1397.4 477.9L1393.6 472.5zM1361.7 523.3L1358.4 528.9L1355.2 523.1zM1368.7 455.9L1366.8 462.2L1362.3 457.3zM1341.2 500.4L1338.9 506.4L1334.8 501.3zM1412.9 539.4L1408.7 544.3L1406.5 538.1zM1379.5 474.8L1377.1 480.9L1373.1 475.6zM1415.1 468.6L1412.3 474.5L1408.6 469zM1334.3 460.3L1333 466.7L1328.1 462.3zM1367.7 536.3L1364 541.7L1361.2 535.7zM1382.9 540L1378.9 545.2L1376.5 539.1zM1383.1 519.3L1379.6 524.8L1376.6 518.9zM1322.1 555.9L1318.5 561.3L1315.7 555.3zM1421.8 528.6L1417.8 533.7L1415.4 527.6zM1422.7 546.6L1418.3 551.4L1416.4 545.1zM1406.6 531.6L1402.6 536.7L1400.1 530.6zM1397.8 523.8L1394 529.1L1391.3 523.1zM1305.6 541.6L1302.8 547.5L1299.1 542zM1335.9 518.4L1333.2 524.3L1329.5 518.9zM1409.6 500.1L1406.3 505.7L1403.2 499.9zM1325 507.7L1322.8 513.8L1318.6 508.7zM1406.3 541.6L1402.2 546.5L1400 540.3zM1419.7 470.3L1423.6 465.1L1426.1 471.2zM1346.9 533.5L1349.3 527.5L1353.3 532.7zM1403.7 470.3L1408.4 465.9L1409.9 472.3zM1372.2 454.8L1378.1 452.1L1377.4 458.7zM1415.4 536.8L1414 530.4L1420.3 532.5zM1418.7 467L1423.4 462.5L1424.9 469zM1370.9 534L1372.4 527.7L1377.2 532.3zM1425 544.1L1422.7 538L1429.2 539.1zM1409.3 529L1408.6 522.5L1414.6 525.3zM1400.7 521.3L1401 514.8L1406.5 518.4zM1412.6 497.6L1413.4 491.2L1418.7 495.2zM1328.4 505.7L1332.4 500.6L1334.8 506.7zM1249.4 482.8L1255.7 481.6L1253.5 487.8zM1248.4 484.1L1254.3 486.8L1248.8 490.6zM1246.8 484.5L1249.7 490.3L1243.1 489.9zM1245.2 483.7L1243.3 489.9L1238.8 485.1zM1244.5 482.1L1239.1 485.7L1238.7 479.1zM1245.2 480.3L1238.8 478.8L1243.4 474zM1246.9 479.5L1243.5 474L1250.1 473.8zM1248.4 480L1249 473.5L1254.4 477.3zM1249.4 481.4L1254 476.8L1255.7 483.1zM1246.4 519.8L1252.7 518.6L1250.5 524.8zM1245 521.3L1250.1 525.2L1244 527.7zM1243.2 521.4L1244.4 527.7L1238.2 525.5zM1241.6 519.7L1237.1 524.3L1235.3 518zM1241.6 518.4L1235.3 520.2L1237 513.8zM1242.8 516.8L1237.1 513.6L1242.9 510.3zM1244.8 516.6L1243.5 510.3L1249.7 512.4zM1246.3 518L1250 512.6L1252.7 518.7zM1553.3 326.4L1554.7 332.7L1548.4 330.7zM1552.3 325.9L1551 332.2L1546.1 327.8zM1551.8 325.2L1548.3 330.7L1545.3 324.8zM1551.6 324.6L1547 329.2L1545.3 322.8zM1551.6 323.3L1545.3 325L1547.1 318.7zM1551.8 322.8L1545.3 322.8L1548.6 317.1zM1552.8 321.8L1547.1 318.6L1552.8 315.3zM1553.5 321.6L1549 316.8L1555.5 315.4zM1214.3 503L1220.7 502.2L1218.1 508.2zM1212.7 504.4L1217.3 508.9L1211 510.7zM1211.4 504.4L1213.1 510.7L1206.7 509zM1209.6 502.7L1205.1 507.3L1203.3 500.9zM1209.7 501.1L1203.3 502.3L1205.6 496.1zM1211.1 499.7L1205.9 495.7L1212.1 493.3zM1213.2 499.8L1212.9 493.3L1218.7 496.4zM1214.4 501.2L1218.7 496.4L1220.7 502.6zM1004.9 426L1011.3 425L1008.9 431.1zM1004.9 424.4L1008.6 419.1L1011.3 425.1zM1009.2 570.5L1014.5 566.7L1015.1 573.2zM1006.8 568.8L1002.4 564L1008.9 562.6zM1409.1 483.5L1414.8 486.6L1409.1 490zM1409.8 480.7L1413 475.1L1416.3 480.8zM1072.2 223.6L1077.7 220L1078 226.6zM1071.9 224.7L1078.4 224.9L1074.9 230.5zM1034.5 425.2L1031.3 419.5L1037.9 419.7zM1036.3 428L1042.7 427.2L1040.1 433.3zM1324.1 276.3L1329.7 279.6L1324 282.8zM1150 671.2L1151.4 664.9L1156.2 669.4zM1148.7 670.7L1145.6 665L1152.2 665.2zM1406.4 309.1L1412.8 309.9L1408.7 315.1zM1404.8 309.8L1408.2 315.4L1401.6 315.5zM1403.1 308.8L1399.8 314.4L1396.6 308.7zM1122.7 503.7L1127 508.6L1120.5 509.8zM1124.3 501.5L1129.5 497.6L1130.2 504.1zM1124.2 502.3L1130.5 500.9L1128.6 507.2zM1326.7 547.4L1323 542.1L1329.5 541.5zM1328.7 550.3L1335.1 550.1L1332 555.9zM1229.8 643.4L1231.7 637.2L1236.2 642.1zM1229.8 643.4L1231.3 637.1L1236 641.7zM1230.4 644.9L1236.2 642L1235.7 648.6zM1010.3 220.8L1016.5 222.7L1011.6 227.1zM1009.5 221.2L1014.3 225.6L1008 227.5zM1242.8 201.5L1246.5 206.9L1239.9 207.3zM1241.5 201.1L1240.9 207.6L1235.6 203.7zM1271.5 514.6L1273.6 508.5L1277.9 513.4zM1271.7 516.9L1278.2 516.8L1275 522.5zM1270.3 513.9L1267.7 508L1274.2 508.8zM1213.6 514.3L1210.5 508.6L1217.1 508.8zM1215.2 517.5L1221.6 518.2L1217.7 523.5zM1213 514.4L1208.1 510.1L1214.4 508zM1255.5 395.7L1259.7 390.7L1261.9 397zM1253 398.3L1254.4 404.6L1248.1 402.5zM1251.6 396.2L1245.8 399L1246.3 392.4zM1236.2 565.6L1230.9 561.8L1237 559.2zM1238.3 566L1239.7 559.6L1244.5 564.1zM1237.9 565.7L1237.4 559.2L1243.3 562.2zM997.9 517.3L1002.2 512.4L1004.3 518.7zM997.6 516.7L999.9 510.6L1004 515.8zM997.9 518.6L1004.3 517.2L1002.2 523.5zM1042 304.5L1042.1 298L1047.8 301.5zM1042.6 305.1L1045.2 299.1L1049.1 304.4zM1177.5 210.9L1184 210.7L1180.8 216.5zM1176.1 211.9L1180.3 216.8L1173.8 217.9zM947.2 495.3L952.8 492.1L952.7 498.7zM947.1 494.9L952 490.5L953.3 497zM1507.6 414.8L1502.1 411.3L1508 408.3zM1507.4 418.3L1507.3 424.8L1501.7 421.3zM1417 521.9L1413.2 516.7L1419.7 516zM1442.8 501.8L1444.3 495.5L1449.1 500zM1441.1 505.2L1443.4 511.3L1436.9 510.1zM1228.8 457.6L1234.2 461.3L1228.2 464zM1229.3 457.3L1235.4 459.4L1230.4 463.7zM1351.1 325.7L1344.6 325.8L1347.8 320.1zM1353.6 328.5L1358.9 332.3L1352.9 335zM1358.8 284L1365 282L1363.5 288.4zM1358.8 284L1365 282L1363.5 288.4zM1355 284.3L1350.9 289.4L1348.5 283.2zM1080.7 580.6L1086.9 578.8L1085.4 585.2zM1080.8 580.1L1086.1 576.4L1086.6 583zM1051.2 297.7L1050.6 291.2L1056.6 294zM1052.3 299.1L1057.2 294.8L1058.5 301.3zM1294.7 304.2L1294.5 310.7L1288.9 307.2zM1296.2 300.6L1294.2 294.4L1300.7 295.9zM1296.6 304.4L1302 308L1296 310.8zM1328.9 248L1325.2 253.3L1322.4 247.3zM1329.3 248.5L1327.4 254.8L1322.9 249.9zM1425.2 355.4L1424.5 361.9L1419.2 357.9zM1427.3 355.7L1432.6 359.4L1426.6 362.1zM1318.8 658.6L1321.1 652.5L1325.2 657.6zM1129.9 224.3L1136.1 222.5L1134.5 228.9zM1129.9 224L1135.7 221L1135.4 227.5zM1514.8 637.4L1508.5 635.7L1513.2 631.1zM1517.1 637.1L1516.6 630.6L1522.5 633.6zM1456.5 316L1461 320.6L1454.6 322.2zM1456.3 316L1460.7 320.8L1454.2 322.1zM1454 313.5L1447.8 315.1L1449.6 308.7zM1211.6 594.2L1208.1 588.7L1214.7 588.5zM1492.7 616.6L1486.8 614L1492.2 610.2zM1495.8 618.5L1501.8 615.9L1501 622.4zM1167 307.3L1173.5 307.4L1170 313zM1163.4 305.6L1157.1 307L1159.1 300.7zM1166.1 308.1L1171.2 312L1165.1 314.5zM1471.3 301.6L1465.7 305L1465.6 298.4zM1367.8 476.8L1368.9 470.4L1374 474.7zM962.9 278.8L969.4 279.4L965.6 284.8zM962.7 279.1L969.1 280.5L964.6 285.3zM1082.1 247.8L1088.3 249.8L1083.3 254.2zM1082.7 246.9L1089.1 245.5L1087 251.7zM1263.5 454.2L1268.5 458.4L1262.2 460.5zM1225.1 171.3L1219.3 174.3L1219.7 167.7zM1227.3 173.4L1231.1 178.7L1224.5 179.3zM1335.6 585.8L1341.4 582.9L1340.9 589.5zM1335.6 586.1L1341.7 583.9L1340.4 590.3zM1333.7 488.3L1337.7 493.4L1331.2 494.3zM1335.3 485.7L1339.6 480.8L1341.7 487zM1335.2 487.2L1341.7 486.6L1338.9 492.6zM1043.7 323.4L1049 319.6L1049.6 326.2zM1042.9 325.2L1048.9 327.6L1043.7 331.6zM1043.4 324.7L1049.8 325.1L1046.2 330.6zM1284.9 487.8L1291.3 486.9L1288.8 493zM1281.4 485.8L1274.9 485.3L1278.7 479.9zM1285 486.5L1289.5 481.8L1291.2 488.1zM1447 586.3L1440.8 588.5L1442.1 582zM1447.6 585.2L1441.4 583.3L1446.3 578.9zM1271.6 531.2L1277.8 529.4L1276.1 535.8zM1271.1 529.4L1273.2 523.2L1277.5 528.2zM1590.6 296.7L1584.3 295L1589 290.4zM1591.2 299.9L1591.9 306.4L1585.9 303.7zM1107.3 487.8L1110.6 493.4L1104 493.3zM1108.8 484.5L1110.9 478.3L1115.2 483.3zM970.7 245.7L975.1 250.5L968.6 251.9zM971.5 245.3L977.6 247.8L972.3 251.8zM1439.1 212.5L1444.5 216.1L1438.6 219zM1436.7 212L1434.6 218.2L1430.3 213.1zM1098.8 638.5L1103.5 634L1105 640.4zM1098.6 637.9L1101.6 632.1L1105.1 637.7zM1191.9 693.6L1196.6 689.1L1198.1 695.6zM1190.3 692.1L1188.3 686L1194.7 687.3zM1375.3 224.8L1373.5 231L1369 226.2zM1377.1 225.4L1381.2 230.5L1374.7 231.5zM1062.7 316.5L1069.2 315.6L1066.5 321.7zM1062.9 315.8L1068.6 312.8L1068.3 319.4zM1095.1 619.6L1094.7 613.1L1100.6 616zM1007.2 748.1L1008.8 741.8L1013.5 746.5zM1006.8 747.8L1006.8 741.3L1012.5 744.7zM1001 209.4L1007.3 207.7L1005.6 214zM1001 209.5L1007.4 208L1005.4 214.3zM1332.3 563.5L1327.2 559.5L1333.3 557.1zM1231.6 317.7L1237.8 319.5L1233 324.1zM1232.1 315.7L1236.6 311L1238.4 317.3zM1448.1 561.9L1446.4 555.6L1452.8 557.4zM1446.8 561.9L1441.7 557.9L1447.9 555.5zM1245.7 249.8L1251.7 252.1L1246.6 256.2zM1245.4 249.9L1251 253.2L1245.2 256.4zM1344.3 539.7L1342.8 533.4L1349.1 535.3zM1341.7 541.5L1335.9 544.5L1336.3 537.9zM1571 667.6L1565.4 664.4L1571.1 661.1zM1570.5 668L1564.2 666.7L1568.6 661.8zM1571.1 667.6L1565.6 664.1L1571.4 661.1zM1031.1 436.4L1035.3 441.3L1028.9 442.5zM1031.7 432.7L1031.8 426.2L1037.4 429.7zM1188.3 403.8L1191.5 409.4L1184.9 409.3zM1190.3 401.8L1196 398.6L1195.9 405.2zM1245.5 226L1241.2 230.8L1239.2 224.5zM966.7 395.7L970.5 390.4L973.1 396.5zM1525.7 538.6L1521.5 543.5L1519.3 537.3zM1525.6 538.2L1520.5 542.2L1519.6 535.7zM985.7 249.6L991.7 247.2L990.7 253.7zM985.7 249.6L991.7 247.1L990.8 253.7zM983.9 251.3L987.6 256.6L981 257.2zM1489.2 295.3L1482.7 294.4L1486.8 289.2zM1103.8 317.7L1110 316L1108.3 322.4zM1135.4 425.3L1141.9 425.3L1138.6 431zM1147.2 595.5L1152.8 592.2L1152.8 598.8zM1147 594.6L1150.6 589.2L1153.5 595.1zM1146.1 593.7L1145.7 587.3L1151.6 590.3zM1616.8 780.3L1611.1 777.2L1616.8 773.8zM1616.1 781L1609.6 780.9L1613.1 775.3zM1145.6 621.4L1141.9 626.7L1139.2 620.6zM1148.2 618.7L1147 612.3L1153.2 614.6zM1120.2 580.4L1126.7 579.9L1123.7 585.9zM1118.1 577.6L1114.1 572.4L1120.6 571.6zM1429.3 468.7L1426 474.4L1422.8 468.6zM1429 468.1L1424.2 472.5L1422.9 466.1zM1400.7 305.3L1401.2 311.8L1395.3 308.9zM1402.1 305.4L1406.8 309.9L1400.4 311.7zM1399.8 302.5L1393.3 302.6L1396.5 296.9zM1210.7 400.7L1210.8 407.2L1205.1 404zM1212.1 397L1210.2 390.8L1216.7 392.4zM1406.3 696L1399.9 695.2L1403.9 689.9zM1409.5 695.9L1411.6 689.8L1415.9 694.8zM1406.7 695.6L1400.7 693.1L1406 689.1zM1594.1 299.7L1593.9 306.2L1588.3 302.7zM1593.6 299.3L1591.4 305.4L1587.2 300.3zM1450.5 279.6L1447.3 285.3L1444 279.6zM1235 418.8L1239.5 414.1L1241.3 420.4zM1186.6 372.6L1189.2 366.6L1193.1 371.9zM1183.3 372.8L1176.8 372.9L1180 367.1zM1630.1 413.8L1629.1 420.2L1624 416zM1629.6 413.2L1626.5 419L1623.1 413.3zM1073.6 199.8L1079.9 201.7L1075 206.2zM1527.8 607.6L1521.5 605.9L1526.2 601.3zM1528.2 607.3L1522.6 603.9L1528.4 600.8zM1251.8 632.3L1248.2 626.8L1254.8 626.5zM1252 632.3L1249 626.5L1255.6 626.9zM1414.3 274.6L1414.7 281.1L1408.8 278.2zM1414.3 274.6L1414.8 281.1L1408.9 278.2zM1092 330L1096.2 334.9L1089.7 336.1zM1093.3 329.1L1099.8 329.3L1096.3 334.8zM1330.7 614.8L1325.7 610.6L1332 608.4zM1332.8 615.2L1334.3 608.9L1339 613.5zM1437.5 413L1432.4 417.1L1431.5 410.5zM1438.1 411.3L1431.8 409.6L1436.6 405zM1190 316.3L1195.5 319.8L1189.5 322.7zM1187.2 315L1182.8 319.8L1180.9 313.5zM1337.8 748.7L1332.9 744.5L1339.1 742.3zM1337.7 748.7L1332.7 744.6L1338.9 742.3zM1377.1 564.3L1372.8 559.5L1379.2 558.2zM1375.7 565.4L1369.2 565.9L1372.1 560zM1379.4 566.8L1385.6 564.9L1384.1 571.3zM1176.6 647.3L1181.3 642.8L1182.8 649.2zM1175.6 646L1175.1 639.5L1181 642.5zM1246.3 339.4L1248.5 333.3L1252.7 338.5zM1227.8 625.5L1232.7 621.4L1233.8 627.9zM1050.2 473.9L1056.4 471.7L1055.1 478.2zM1435.2 637.9L1429.3 635.3L1434.6 631.4zM1437.1 637.6L1436 631.2L1442.2 633.6zM1434.5 638.9L1428.2 640.5L1430.1 634.2zM1055.4 219.3L1050.4 223.5L1049.4 217zM1059.3 219.7L1065.7 218.5L1063.4 224.7zM1059.3 219.5L1065.6 217.7L1064 224.1zM1310.2 287.9L1316.7 287.7L1313.5 293.5zM1128.2 530.7L1122.3 533.3L1123 526.8zM1132.2 531.3L1138.3 529.2L1136.9 535.7zM1128.7 529.6L1122.3 528.5L1126.5 523.5zM1606.2 490L1601.7 485.3L1608.2 483.8zM1604.9 491.1L1598.4 491.4L1601.4 485.6zM1542.3 472.8L1539.4 467L1545.9 467.4zM1147.3 611.5L1152.2 607.2L1153.4 613.7zM1108.7 158.6L1115.1 160L1110.6 164.8zM1454.5 464.8L1459.8 468.6L1453.7 471.2zM1455 464.5L1461 467L1455.7 471zM1455 464.5L1461 466.9L1455.8 470.9zM997.1 373.9L1003.4 372.3L1001.6 378.7zM993.8 374.8L992.4 381.2L987.5 376.7zM1252.6 607.8L1253.6 601.4L1258.7 605.6zM1250.6 607.5L1245.6 603.3L1251.8 601.1zM1251.3 607.4L1248.2 601.7L1254.8 601.8zM1389.6 568.4L1383.5 566.4L1388.4 562zM1389 569.4L1382.8 571.3L1384.3 564.9zM1390.2 568L1384.9 564.2L1390.9 561.6zM1290.5 856.1L1286.8 850.8L1293.3 850.3zM1290.5 856.1L1286.8 850.8L1293.4 850.3zM1266.2 576.9L1262.6 571.4L1269.2 571.1zM1268.3 579L1274.1 576L1273.7 582.6zM1337.5 640.9L1336.9 634.5L1342.9 637.2zM1334.8 641.9L1328.4 642.7L1331 636.7zM1187.3 621.5L1185.2 615.4L1191.7 616.7zM1187.7 621.6L1186.7 615.2L1192.8 617.6zM1091.5 404L1098 404.3L1094.4 409.8zM1091.6 402.2L1095.5 397L1098.1 403.1zM1307.5 554.7L1304.6 548.9L1311.2 549.4zM1306 555.2L1299.8 553.3L1304.7 548.8zM1049.7 195.2L1049.2 201.7L1043.8 197.9zM1051.3 195.5L1055.9 200.1L1049.5 201.7zM1052.8 193.5L1058.4 190.2L1058.4 196.8zM1400.9 306.1L1395.8 302L1401.9 299.6zM1400.3 309.4L1399 315.8L1394.1 311.4zM1543.7 278.3L1544.9 284.7L1538.7 282.5zM1544.1 278.4L1546.6 284.4L1540 283.5zM1367.7 589.3L1366.3 583L1372.6 585zM1369 590.8L1373.8 586.3L1375.2 592.8zM1144.3 323.4L1148.3 318.4L1150.7 324.5zM1239.9 802.1L1236 796.9L1242.6 796.2zM1241.7 803L1244.4 797L1248.2 802.4zM1240 802.1L1236.5 796.7L1243.1 796.4zM964.9 174L971.3 173.1L968.8 179.2zM964.7 174.4L971.1 175L967.2 180.3zM1310.9 299.4L1317.4 299.3L1314.1 305.1zM1445.5 712.1L1445.9 705.6L1451.4 709.3zM1442.6 712.9L1436.1 713.6L1438.9 707.6zM1445.5 712.1L1446 705.6L1451.4 709.4zM1284.3 419.2L1290.4 421.3L1285.4 425.6zM1281.3 416.6L1274.8 416.1L1278.6 410.7zM1375 596.4L1380.9 593.7L1380.3 600.2zM1372.5 594.3L1367.9 589.7L1374.3 588.1zM1246.8 542.1L1245.2 535.8L1251.5 537.6zM1248.1 544.7L1254.5 543.5L1252.2 549.7zM1197.2 588.1L1195.5 581.8L1201.9 583.5zM1197.1 588L1195 581.9L1201.4 583.2zM1176.6 375.7L1182.7 373.3L1181.6 379.8zM1176.1 376.8L1182.3 378.5L1177.6 383.1zM1217.9 170.8L1214.6 176.4L1211.4 170.6zM1220.3 171.8L1225.1 176.1L1218.8 178.1zM1220.3 171.8L1225.1 176.1L1218.8 178.1zM1256.8 277.9L1250.7 280.1L1251.9 273.6zM1257.9 280.1L1258.5 286.5L1252.5 283.7zM1362.8 334.1L1369.3 334.2L1365.8 339.8zM1363 333.7L1369.4 332.6L1367.1 338.7zM1362.9 333.8L1369.4 333.2L1366.6 339.2zM1114.8 367.9L1121 369.8L1116.1 374.2zM1113.9 364.4L1112 358.2L1118.4 359.8zM1099 288.4L1104.2 292.4L1098.1 294.8zM1100.1 285.8L1104 280.6L1106.6 286.6zM1099.1 288.4L1104.6 292L1098.6 294.8zM1541.2 618.2L1535 619.9L1536.7 613.5zM1541.3 619.2L1536.8 624L1534.9 617.7zM1472.1 679.7L1467.6 675L1474.1 673.6zM1260 373L1265.5 376.5L1259.6 379.5zM1261.1 371.6L1267.2 369.3L1266 375.8zM1260.3 369.6L1261 363.1L1266.3 367zM1681 182L1675.4 185.2L1675.4 178.6zM1726 370L1720.3 373.1L1720.5 366.5zM1642.6 366.5L1636.4 364.7L1641.2 360.2zM1725 577L1719.3 580.1L1719.5 573.5zM1643.5 573.7L1637.1 572.4L1641.5 567.5zM1761 795L1755.4 798.4L1755.4 791.8zM1502.2 796.2L1495.7 797.1L1498.3 791zM1502.7 798.5L1501.6 804.9L1496.5 800.6zM1610.3 629L1603.8 629.1L1607.1 623.3zM1612 628L1608.7 622.4L1615.3 622.4zM1614 629.6L1618.9 625.4L1620.1 631.9zM1687.1 472.3L1680.7 473.5L1683 467.3zM1665.6 553.1L1664 546.8L1670.3 548.6zM1632 470.1L1637.8 467.1L1637.4 473.7zM1609.9 348L1606.4 342.6L1613 342.3zM1606.2 305.8L1602.3 311L1599.7 305zM1666.3 499.1L1663.3 504.9L1659.8 499.3zM1666.3 499.1L1663.3 504.8L1659.8 499.2zM1648.3 518.9L1641.8 518.7L1645.3 513.2zM1573 185.8L1567.1 188.5L1567.8 181.9zM1568.1 140.7L1564 145.7L1561.7 139.4zM1454.5 205.9L1459 210.6L1452.6 212.2zM1452.1 203.3L1445.7 204.4L1448 198.2zM1504.4 200.2L1501.7 206.1L1497.9 200.7zM1519.1 187.8L1519.4 194.3L1513.5 191.2zM1520 214.7L1519.8 221.2L1514.2 217.8zM1519.2 213.8L1515.5 219.2L1512.7 213.2zM1563.1 214.8L1563.4 221.3L1557.5 218.2zM1562.7 214.6L1561.8 221L1556.7 216.9zM1573 219L1576.2 224.7L1569.6 224.5zM1571.7 218.5L1570.4 224.9L1565.5 220.4zM1554 231.7L1554.1 238.2L1548.3 234.9zM1513.1 272.7L1509.2 277.9L1506.7 271.8zM1513.2 271.1L1506.7 271.6L1509.6 265.7zM1513.3 270.9L1506.8 270.8L1510.3 265.2zM1525.1 273.6L1520.6 278.3L1518.8 271.9zM1525.5 271.6L1519.2 270.2L1523.7 265.4zM1536 278.3L1531 282.5L1530 275.9zM1536.3 277L1529.8 276.9L1533.2 271.3zM1542.2 270.2L1535.7 270.9L1538.4 264.9zM1552.1 276L1549.2 270.2L1555.8 270.6zM1550.1 277.4L1543.8 278.9L1545.7 272.6zM1480.1 254.2L1474.6 250.8L1480.4 247.7zM1479.4 257.2L1476.8 263.1L1472.9 257.8zM1492.8 256.4L1486.8 253.9L1492.1 249.9zM1573 274L1569.6 268.5L1576.2 268.3zM1607.4 302.8L1601 301.9L1605 296.7zM1607.1 304.6L1602.8 309.5L1600.8 303.2zM1602.5 332.4L1600.6 338.6L1596.2 333.7zM1604.4 329L1602.1 322.9L1608.6 324.1zM1614.7 345L1610.7 339.9L1617.2 339zM1574.4 325.8L1567.9 325.1L1571.9 319.8zM1574.3 328L1571.1 333.7L1567.8 328zM1571.2 310.8L1567.5 316.2L1564.7 310.2zM1555.2 310.2L1548.7 310.9L1551.4 304.9zM1429.2 771L1426.7 765L1433.2 765.9zM1428.8 771L1424.8 765.9L1431.3 765.1zM1466.7 782L1462.8 776.9L1469.3 776zM1468.1 782.3L1468.4 775.8L1473.9 779.4zM1461.3 813.1L1456.3 809L1462.5 806.7zM1460.1 814.4L1453.8 815.9L1455.7 809.6zM1413.2 798.2L1408 794.3L1414.1 791.7zM1455.2 860.4L1456 854L1461.2 858zM1439.4 855.1L1434.4 850.9L1440.7 848.7zM1550.8 716.4L1544.8 713.8L1550.2 709.9zM1552.5 716.1L1550.7 709.8L1557.1 711.4zM1580.9 701.3L1575 698.5L1580.5 694.8zM1331 878.3L1330.8 871.8L1336.6 875zM941.1 721.4L941.6 714.9L947 718.6zM957.3 770.1L952.3 766L958.5 763.7zM959.8 771.2L963.5 765.8L966.3 771.8zM1157.1 764.5L1150.8 766.3L1152.5 759.9zM1160.5 763.7L1162.6 757.6L1166.9 762.6zM1041.3 732L1038.7 726L1045.3 726.9zM1016.8 853L1012.8 847.8L1019.4 847.1zM1008.6 784.1L1004.1 779.3L1010.5 777.9zM1031.9 789.8L1037.5 793.2L1031.6 796.3zM1031.4 786L1029.1 779.9L1035.6 781.1zM1071.1 734L1074.7 739.4L1068.1 739.8zM1071 730L1067.8 724.3L1074.4 724.5zM1122.1 828L1119.1 822.2L1125.7 822.6zM1149.9 802L1153 807.7L1146.4 807.4zM1150.5 798.1L1148.7 791.8L1155.1 793.5zM1148.9 869.5L1155.2 867.6L1153.6 874zM1195.8 751.4L1189.8 748.9L1195.1 744.9zM1198.8 752.1L1202.2 746.6L1205.3 752.4zM1091.6 710.8L1094.3 704.9L1098.1 710.3zM1099.4 718.5L1100.8 712.2L1105.6 716.7zM1106.6 706.8L1109.2 700.8L1113.1 706.2zM1106.6 706.8L1109 700.7L1113 706zM1113.6 724.7L1115.9 718.7L1120 723.8zM1113.6 724.8L1116.3 718.9L1120.1 724.3zM1119.6 713.8L1121.9 707.7L1126 712.9zM1096.6 728.8L1099 722.7L1103 727.9zM1122.3 703.5L1123.3 697L1128.4 701.3zM1122.6 703.8L1125.2 697.9L1129.1 703.2zM1178.2 705.8L1174.5 711.2L1171.7 705.2zM1185.2 712.8L1181.4 718.1L1178.7 712.1zM1193.2 720.8L1189.4 726.1L1186.7 720zM985.3 789L982.2 794.7L978.8 789.1zM1047.5 641.9L1049.2 648.2L1042.9 646.5zM891.7 189.3L898.2 189.5L894.6 195.1zM891.9 229.1L898.3 228L895.9 234.2zM891.9 249.8L898.2 247.9L896.6 254.3zM892 275.4L897.8 272.5L897.3 279.1zM892 319.5L896.7 315.1L898.1 321.6zM891.9 346.7L895.9 341.6L898.3 347.7zM891.8 359.2L895.5 353.8L898.3 359.8zM891.6 402L894.1 396L898.1 401.3zM891.5 419.9L893.6 413.7L897.9 418.7zM1080.7 61.9L1085.7 66L1079.5 68.3zM1125.3 62L1129.3 67.1L1122.7 68zM1189.6 62L1191.8 68.1L1185.3 66.8zM1097.1 191.7L1096.8 198.2L1091.2 194.5zM863.1 443.3L868.3 439.3L869.1 445.9zM809.3 676.1L811 669.8L815.6 674.6zM879 507.9L885.4 506.8L883.1 513zM1120.4 828.9L1113.9 828.4L1117.6 823zM1281 287.3L1275.5 290.9L1275.2 284.3zM900.8 573L903.5 567.1L907.3 572.4zM1322.1 555.7L1317.8 560.5L1315.7 554.3zM1450.2 278.7L1444.8 282.3L1444.4 275.7zM1440.5 588.2L1434 588.4L1437.2 582.6zM918.9 590.4L921.1 584.2L925.3 589.3zM1322 424.8L1316.1 427.4L1316.9 420.8zM1419.9 294.9L1415.6 299.8L1413.6 293.5zM927 157.3L932.9 160L927.5 163.8zM1474.5 925.6L1468.3 923.5L1473.3 919.2zM1173.7 931.3L1169.5 926.3L1176 925.2zM1190.6 937.7L1191.7 931.3L1196.7 935.6zM1285.9 915.7L1280.7 911.8L1286.8 909.2zM1344.2 903.5L1340.7 898L1347.3 897.8zM1042.6 735.1L1049.1 735.7L1045.3 741.1zM1431.4 908L1426.1 904.3L1432.2 901.6zM1265.7 580.8L1267 587.1L1260.7 585zM1123.9 830.7L1130.3 829.5L1128 835.7zM1333 25L1339.1 27.3L1333.9 31.5zM1241.8 263.7L1235.7 261.4L1240.8 257.3zM1093.1 176.9L1097.1 171.8L1099.5 178zM1437.9 22.6L1437.9 29.1L1432.2 25.7zM1303.4 51.9L1308.6 55.9L1302.4 58.3zM1053.3 215.9L1050 210.3L1056.6 210.4zM1161.9 90.8L1161.6 97.2L1156.1 93.6zM1268.6 275L1262.6 272.5L1267.9 268.6zM1050.3 24.9L1056.4 26.9L1051.5 31.3zM1063.6 303.7L1067 298.1L1070.1 303.9zM1433.2 50.4L1434.2 56.9L1428 54.4zM1312.2 200.6L1314 194.3L1318.5 199.1zM1421.6 40.6L1419.1 46.6L1415.1 41.3zM1288.8 418.1L1283.6 414.2L1289.7 411.7z" fill="#4b3f72"/>
<path d="M1685 182.1L1690.7 179L1690.5 185.6zM1800.7 270L1796.5 265L1803 264zM1811.3 254.1L1806.3 250L1812.6 247.7zM1686.3 603.5L1692.4 605.7L1687.3 610zM1763.3 793L1760.8 787L1767.3 787.9zM1810 799.8L1804.1 802.5L1804.8 795.9zM1806 801.7L1800 804.1L1801 797.6zM1217.4 206.6L1218.9 200.2L1223.6 204.8zM1248.8 234.2L1247.9 227.7L1254 230.3zM1310.1 323L1306.9 317.3L1313.5 317.5zM1419.8 232.4L1413.8 229.9L1419.1 225.9zM1381.3 147.1L1378.4 152.9L1374.8 147.4zM1196.1 354.3L1196.3 347.8L1201.8 351.3zM1297.6 356.8L1300.2 350.9L1304.1 356.2zM1436.7 449L1432.5 444L1439.1 443zM1352 352.7L1345.9 355L1347.1 348.4zM1256 315L1259.3 320.6L1252.7 320.6zM1177.6 398.8L1179.9 392.7L1184 397.8zM1028 516.1L1022.6 519.6L1022.3 513zM1028 517.2L1022.7 521L1022.1 514.4zM1245.7 230.1L1244.6 223.7L1250.8 226.1zM1156.2 144.6L1162.1 147.3L1156.7 151.1zM1152.9 147.7L1152.5 154.2L1147 150.5z" fill="#f26135"/>
<path d="M1465.3 578.3h0M1550.1 578.6h0M1439 595.5h0M1496.7 608.7h0M1477.2 624.4h0M1504.8 631.1h0M1515.4 596.5h0M1537.6 608.9h0M1460.6 611h0M1466.5 619.9h0M1466 599.7h0M1458 598.5h0M1534.6 614.2h0M1467.8 554.8h0M1519.7 569h0M1446.8 608.8h0M1533.6 589.3h0M1453.3 582.2h0M1543.2 593.2h0M1496.8 594.9h0M1520.9 618.2h0M1484.8 561.1h0M1464.6 562.6h0M1430.1 588.4h0M1467.6 626.9h0M1508.5 588.5h0M1526.9 593.3h0M1546.5 574h0M1501.7 574.8h0M1474.5 549.9h0M1510.7 550.7h0M1507.2 602.7h0M1504.5 550.7h0M1508.4 577.3h0M1481.3 598h0M1439.3 576.8h0M1542.2 611.5h0M1490 608.3h0M1532.7 608.6h0M1495.4 584.8h0M1450.3 557.1h0M1500.5 567.3h0M1482.4 624.2h0M1445.7 577.4h0M1458.7 625.6h0M1517.2 606.1h0M1475.2 562.9h0M1522.9 611.9h0M1487 566h0M1450.4 600h0M1486.3 596.7h0M1550.7 601.8h0M1473.4 567.8h0M1496.3 557.6h0M1551.1 583.5h0M1528.4 598.3h0M1472 576.6h0M1488.9 546.3h0M1539.3 602.1h0M1467.2 546.5h0M1483.9 553.8h0M1459 551.3h0M1478.2 590.8h0M1507.1 618h0M1459.6 586.5h0M1438.3 564.1h0M1530 568.6h0M1467.2 589.9h0M1448.7 563.5h0M1539.6 586.5h0M1524.8 585.9h0M1495.1 626.1h0M1453.5 609.7h0M1524.3 621.8h0M1538.6 569h0M1523.9 577.8h0M1525.1 569.5h0M1511.8 613.6h0M1543.7 569h0M1510.5 625h0M1497.5 620.2h0M1549.1 596.9h0M1463.1 557.2h0M1506.3 545.9h0M1443 558.1h0M1498.9 579.4h0M1480.9 576h0M1469.4 564.7h0M1502.6 584.9h0M1534.8 619.7h0M1521.3 550.9h0M1482.2 632h0M1481.3 615.7h0M1437.9 608h0M1534.6 597.5h0M1488.5 583.5h0M1454.4 562.8h0M1522.6 557.7h0M1458.3 578.8h0M1435.2 570.8h0M1487.8 574.8h0M1517.2 613.4h0M1481.9 603.9h0M1489.7 624.8h0M1478.6 545.8h0M1491.5 629.8h0M1530.3 563.4h0M1522.9 606.7h0M1535.5 560.7h0M1489.8 618h0M1516.1 578.7h0M1500.4 602.4h0M1456.4 571.8h0M1534.4 571.5h0M1495.4 569.7h0M1530.3 557.4h0M1492.7 552.2h0M1472.2 614.3h0M1440.4 602.2h0M1539.6 596.7h0M1501.4 558.3h0M1479.7 610.4h0M1450 617.6h0M1493.4 613.8h0M1520.1 627h0M1465.8 583.8h0M1519.9 590.4h0M1476.4 556.7h0M1522.5 601h0M1515.1 547.6h0M1431.2 597.7h0M1514 568.1h0M1517.4 555h0M1511.6 556.2h0M1540 574.3h0M1442.2 589.2h0M1502.1 596.1h0M1442.9 613.3h0M1479.1 552.5h0M1496.2 562.6h0M1509 593.9h0M1442.5 569.7h0M1494.8 543.6h0M1428.5 575.9h0M1453.8 591.1h0M1491.7 591.7h0M1493.6 577.5h0M1524.9 562.3h0M1484.1 589.4h0M1464.1 569.4h0M1537.3 580.4h0M1476 572.9h0M1475.4 600.1h0M1513.2 574.6h0M1551.7 590.9h0M1466.2 610.1h0M1427.6 582.1h0M1511.5 561.7h0M1514.9 621.3h0M1544.9 583.9h0M1527.4 608.6h0M1503.3 608h0M1452.3 552.4h0M1461 605.3h0M1456.2 621.1h0M1471.9 623.9h0M1522.1 595.8h0M1435 603.4h0M1435.7 583.3h0M1469.5 606.4h0M1487.3 603.1h0M1473 590.1h0M1437.5 590.6h0M1502.8 621.4h0M1474.6 630.8h0M1474.2 734.7h0M1486.1 742.1h0M1471.8 741.1h0M1461.3 745.6h0M1447.3 735.6h0M1462.7 730.9h0M1454.5 732.5h0M1451.5 743.4h0M1465.6 735.8h0M1478.2 742.8h0M1478.4 737.5h0M1460 736.6h0M1467.4 745.4h0M1483.6 735h0M1446.1 741.1h0M1454.4 738.7h0M1478.3 731.4h0M1469.8 731.4h0M1488.7 737.1h0M1463.9 740.6h0M1456.5 743.2h0M1478.7 707.8h0M1485.5 707.6h0M1485.8 713.6h0M1480.2 713.1h0M1475.1 710.9h0M1444.5 741.2h0M1439.5 746.6h0M1436.3 741.8h0M1547.4 430.7h0M1547.7 423.9h0M1562.1 427.3h0M1535.2 434.1h0M1519.5 457.5h0M1582 415.3h0M1515.2 450.3h0M1540.3 424h0M1538.6 463.8h0M1545.4 415.2h0M1580.3 431.1h0M1532.1 458.9h0M1528.5 450.1h0M1565.1 452.9h0M1530.3 410.4h0M1560 405.8h0M1538.5 403.9h0M1567.7 464.9h0M1551.7 439.3h0M1541.4 445.3h0M1580.7 444.6h0M1548.6 409.4h0M1549.3 463h0M1567.1 441.4h0M1560.2 462.7h0M1535.8 450.7h0M1515.3 416.3h0M1531 443.2h0M1587.6 439.9h0M1523.6 467.2h0M1571.4 406.4h0M1550.1 470.9h0M1589.7 423.3h0M1512 458.7h0M1576.2 450.5h0M1523.2 415.1h0M1554.2 418.4h0M1509.1 427.6h0M1567.9 434.7h0M1580.1 459.6h0M1508 443.4h0M1519.5 436.6h0M1552.1 402.1h0M1563.9 415.5h0M1562.8 470.2h0M1595.8 444.2h0M1502.1 427.1h0M1540.5 470.2h0M1507.7 416.3h0M1582.5 452.8h0M1570.7 458.9h0M1527.7 404.5h0M1554.5 425.7h0M1567.9 422.3h0M1531.2 420h0M1519 421.9h0M1524 431.5h0M1573.3 417.6h0M1512.1 435.1h0M1522.3 408.6h0M1594.9 432.7h0M1499.3 433.8h0M1577.1 410.5h0M1537.3 413.2h0M1559.8 435.5h0M1532.6 469h0M1573.7 439.7h0M1501.8 446.6h0M1574.7 425.1h0M1549.1 446.8h0M1298.1 307.5h0M1283.1 328.1h0M1305.3 300h0M1270.3 291.9h0M1282.7 309.6h0M1315 301.7h0M1271.6 297.4h0M1304.9 306.1h0M1263 304.8h0M1301.5 314.3h0M1295.1 301.1h0M1301.2 320.1h0M1279.5 291.7h0M1291.5 332.8h0M1280.4 303.2h0M1283.8 317.4h0M1287.9 313.7h0M1282.9 287.2h0M1297.8 284.3h0M1270.8 311.5h0M1303.1 286.9h0M1279.8 297h0M1271.8 316.4h0M1315.1 313.2h0M1264.1 311.7h0M1292 286.1h0M1290.8 291.5h0M1293 322.9h0M1277.5 321.6h0M1301.6 291.7h0M1309 310.9h0M1275.1 286.9h0M1306.1 322.8h0M1313.4 296h0M1290.2 297.3h0M1310.1 319.8h0M1299.5 328.9h0M1271.2 302.8h0M1313.6 307.5h0M1285.8 292h0M1291.8 305.3h0M1276.7 312.4h0M1286.6 306.4h0M1306.8 290.3h0M1291.2 327.7h0M1296.2 318.1h0M1266.6 317.8h0M1296.5 291.9h0M1271.9 321.8h0M1295.5 312.5h0M1286.9 556.3h0M1272.7 546h0M1296 551.6h0M1272.6 556h0M1293.2 584.6h0M1268 565.6h0M1309.6 568.5h0M1266.3 553.2h0M1286.8 570.4h0M1317.8 559h0M1275 579.5h0M1297.8 570h0M1300.3 560.2h0M1280.3 543.3h0M1295.2 535.2h0M1314.3 549.7h0M1284.3 563.5h0M1304 585.4h0M1306.3 540.8h0M1309.2 556.4h0M1316.6 567.9h0M1289.3 544.5h0M1298.8 543.5h0M1280.7 550.7h0M1284.1 586.1h0M1270.5 573.3h0M1298.5 577.3h0M1312.3 579.8h0M1278.8 571.9h0M1275.7 565.4h0M1316.7 574.5h0M1307.4 549.3h0M1291.6 563.6h0M1286.4 538.2h0M1285.8 577.6h0M1307.5 574.9h0M1275.1 432h0M1294.3 432.9h0M1268.1 423.2h0M1259 423.6h0M1280.5 435.6h0M1272.7 418.7h0M1258 434.3h0M1251.9 435.1h0M1299.5 425.4h0M1308.3 428.1h0M1292.1 425.6h0M1278.3 419.3h0M1288 433.2h0M1304 434.1h0M1267.3 438h0M1294.9 443.9h0M1284.6 427.9h0M1260.5 440.4h0M1272.1 440.8h0M1296 421h0M1265.7 429.4h0M1300.9 439.9h0M1290.4 440.3h0M1283.8 440.4h0M1276.1 426h0M1253 426.7h0M1277.7 444.4h0M1289.6 420h0M1309.6 433.7h0M1265.3 444.2h0M1519 314.5h0M1513.9 328.1h0M1498.8 306.7h0M1525.5 318.9h0M1508.8 309.1h0M1515.5 309.8h0M1490.2 314.6h0M1510.1 314.1h0M1503.6 313.8h0M1504 304.4h0M1504.5 324.8h0M1513.5 318.5h0M1498.4 324.2h0M1493.3 325.3h0M1489.7 308.6h0M1502.3 320.3h0M1525.1 312.1h0M1490.3 320.4h0M1497.6 313.5h0M1508.1 329.7h0M1511.1 323.7h0M1507.2 318.9h0M1518.7 320.3h0M1496.8 318.8h0M1509.6 302.6h0M1502.1 329.4h0M1514.1 304.7h0M1519 325.9h0M1102 194h0M1095.2 164.7h0M1104.1 169.5h0M1111.7 177.2h0M1087.4 162.1h0M1111.2 170.9h0M1091.2 177.6h0M1117.8 160.5h0M1081.6 172.2h0M1115.2 184.2h0M1107.5 159h0M1097.3 178.1h0M1102.6 185.2h0M1122.5 181h0M1093.9 193.4h0M1103.8 164.1h0M1090.8 188.6h0M1087.3 174.1h0M1107.7 184.6h0M1085.7 180.6h0M1110.1 193.1h0M1095.9 158.6h0M1105.3 175.1h0M1112.6 161.3h0M1117.9 165.8h0M1098.7 168.5h0M1080.6 177.6h0M1125.8 175.4h0M1090.1 168.4h0M1083 165.1h0M1117.3 172.3h0M1116.3 189.2h0M1093.9 184.6h0M1098.2 190h0M1053.3 217.9h0M1044.8 231.1h0M1048.4 224.7h0M1048.8 212.9h0M1055.3 222.7h0M1051.4 234h0M1044.7 216h0M1039.1 229.8h0M1035.9 223.7h0M1039.3 216.7h0M1056.1 228.2h0M1039.2 235.3h0M1056.9 234.3h0M1046.2 238h0M1042.8 226.2h0M1058.6 218.6h0M1060.4 225h0M1042.2 221h0M1052.4 239.1h0M1567.6 183.8h0M1563.6 179h0M1565.8 170.1h0M1570.7 170.1h0M1568.7 164.9h0M1568.3 175.4h0M1564 162.2h0M1568.5 179.7h0M1568.8 161.2h0M1564.5 175.5h0M1554.4 327.6h0M1558.2 325.1h0M1553.9 316h0M1559.1 315.9h0M1551.3 328h0M1562.2 324.7h0M1554.9 320.2h0M1551.6 325h0M1267.9 494.2h0M1224.9 506.1h0M1249.4 527.5h0M1268.4 506.8h0M1252.1 491.6h0M1263.3 518.3h0M1230.8 495.2h0M1219.3 520.9h0M1231.4 488.5h0M1237.7 502.1h0M1210.5 500.9h0M1254.4 500.2h0M1261.6 488.7h0M1219.2 496.7h0M1437.5 234.3h0M1373.7 151.6h0M1421.8 294.3h0M1377 272.4h0M1306.5 212.6h0M1336.3 206.4h0M1410 273.3h0M1394.1 275.7h0M1358.8 138.8h0M1383.7 247.3h0M1427.4 121.8h0M1344.7 162.1h0M1384.9 274.4h0M1348.8 123.5h0M1461.6 275.8h0M1438.7 122.2h0M1346.9 147.7h0M1464.7 138.1h0M1322.9 155.8h0M1442.4 151.6h0M1477 172h0M1417 150.5h0M1352.6 275.1h0M1479.6 159.8h0M1362.9 125.6h0M1335 186h0M1393.8 221h0M1362.9 144.2h0M1400 179.5h0M1362.1 295h0M1174.8 427.8h0M1390.4 404.4h0M1161.5 359.2h0M1323.5 448.9h0M1209.5 400.1h0M1168.7 411h0M1341.5 404.9h0M1348.5 365.1h0M1319.8 400.6h0M1304.9 340.9h0M1268.9 423h0M1216.2 413.1h0M1164.7 392.7h0M1385.9 427.1h0M1281.5 460.7h0M1326.5 406.3h0M1250 461.1h0M1295.4 403.1h0M1249.1 352.9h0M1205.7 420.4h0M1289 446.2h0M1267.8 387.7h0M1293.3 367.7h0M1390.8 425.3h0M1232.2 403.7h0M1361.8 472.6h0M1328 461.6h0M1353.6 385.1h0M1260.3 399.8h0M1172.5 418.7h0M1292.5 448.1h0M1241.6 476.6h0M1337.3 416.8h0M1214.6 470.1h0M1324 425.1h0M1206.5 359.7h0M1161.8 493h0M1165.3 507.8h0M1178.1 477.8h0M1032.8 512.3h0M1181.2 474.5h0M1127.6 488.9h0M1029.8 416.1h0M1103.9 410.1h0M1059 519.5h0M1042.1 457.9h0M1191.2 486.3h0M1082.9 414.8h0M1135.9 446.3h0M1127.7 551.7h0M1157.1 419.8h0M1181.8 499.8h0M989.7 387.8h0M1008.2 485.2h0M1068.7 380.8h0M1186.9 392h0M1158.8 469.4h0M1148.8 525.8h0M1321.7 629.9h0M1317.7 573.2h0M1273.9 592.8h0M1209.7 562.4h0M1177 536.4h0M1223.2 642.7h0M1191.9 563h0M1161.9 490.4h0M1253.3 580.4h0M1254.9 648h0M1245.2 586.4h0M1325.2 501.8h0M1303.9 502.5h0M1326.2 609.2h0M1306.2 626h0M1158.9 494.3h0M1233.6 491.1h0M1332.2 510h0M1196.4 603.3h0M1171.7 626.3h0M1220.4 571.1h0M1317.3 492.4h0M1201 544.8h0M1291.5 529.6h0M1234.3 515.3h0M1267.8 551.2h0M1230.4 630.4h0M1129.4 621.4h0M1344.7 614.8h0M1304.6 661.4h0M1307.1 670.1h0M1332.7 718.1h0M1282.4 607.9h0M1252.9 604.7h0M1232.5 662.3h0M1094 675.8h0M1544.1 492.3h0M1612.4 530.3h0M1504.9 528.2h0M1597.5 530.6h0M1538.3 471.1h0M1577.5 483h0M1580.7 478h0M1559.4 476.5h0M1562.6 486.4h0M1488.2 529.4h0M1585.3 515.3h0M1528.8 498.2h0M1406.4 528.7h0M1390.9 554.4h0M1382.5 560.3h0M1413.3 579.8h0M1422.4 531.3h0M1414.4 518.8h0M1395 572.9h0M1399.9 551.8h0M1380.4 489.5h0M1422 544h0M1417.3 540.8h0M1387.9 529.1h0M1405.8 537.1h0M1429.2 524.7h0M1234.7 296h0M1243.1 265.3h0M1329.1 215.9h0M1239.1 294.7h0M1234.5 277.1h0M1296.7 297.9h0M1194.6 235.9h0M1311.6 233.2h0M1208.1 277.4h0M1210.9 266.5h0M1300.9 277.1h0M1287.1 228.7h0M1266.4 259.6h0M1221 277.5h0M1314.2 292.7h0M1257.1 270.4h0M1324.5 255.5h0M1242.9 231h0M1189.7 286.2h0M1329.6 254.5h0M1299.9 289.9h0M1187.3 237.7h0M1441.3 337.8h0M1414 398.6h0M1417.3 360.8h0M1451.4 313.9h0M1454.1 332h0M1459.7 410h0M1451.2 428.7h0M1466.6 414.1h0M1412.9 413.9h0M1407.9 326.9h0M1459.2 353.2h0M1454.4 332.3h0M1408.3 306.6h0M1461.9 421.1h0M1467 370.7h0M1453.7 353.5h0M1410.4 334.6h0M1438.8 372.9h0M1320.6 594.1h0M1060.6 592.7h0M1199.7 599.7h0M1215.6 597.8h0M1279.6 595.7h0M1213.9 573.8h0M1257.2 692.6h0M1333.2 608.5h0M1349.4 676.2h0M1206.1 684.5h0M1093.8 577.5h0M1349.9 605.7h0M1112.6 662.1h0M1163.1 576.5h0M1170.3 606.1h0M1261.9 581h0M1380.9 639.7h0M1146.3 622.8h0M1368.2 565.2h0M1157 590h0M1258.1 695.3h0M1233.6 636.1h0M1067.6 655.8h0M1088.8 587.8h0M1269.8 638h0M1097.9 592.6h0M1078 689.5h0M1391.8 621.8h0M1520.7 657.3h0M1496 684.3h0M1532.5 678.1h0M1531.5 658.2h0M950.4 210.2h0M968 284.1h0M969.8 369.3h0M955.4 356.4h0M971.5 260.8h0M1008 289.2h0M975.6 356.4h0M951.1 337.5h0M943.7 274.3h0M970.3 289.3h0M947.3 396.4h0M953.7 352h0M948 380.6h0M984.4 259.5h0M971 320.4h0M942.5 301.6h0M957.2 278h0M1006 212.7h0M966.1 221.9h0M997.4 304h0M968.5 366.7h0M998.7 405.9h0M1002.6 228h0M975.4 316.8h0M990.2 264.6h0M952.3 306.7h0M1000.9 415.6h0M988.3 205.1h0M988.3 296.1h0M997 401.9h0M1401.5 395.2h0M1275.9 390.7h0M1388 414.4h0M1358.7 397.9h0M1260.6 267.7h0M1438.3 266.9h0M1151.2 322.7h0M1412.4 413.8h0M1289.5 291.2h0M1212.9 385h0M1278.9 282h0M1291.1 297.1h0M1424.8 412.6h0M1439.7 362.2h0M1367 301.4h0M1349.2 294.6h0M1197.7 384.6h0M1259.3 326h0M1232.1 315.5h0M1200 361.8h0M1220 256h0M1272 316.3h0M1056.4 548.8h0M1046.4 378h0M1127.9 387.7h0M1003.2 311.6h0M1046.1 325.1h0M1149.8 497.2h0M1036.2 335.8h0M953.1 418h0M1037.4 381.2h0M1028.9 540.2h0M1032.4 475.1h0M1107.7 354h0M976.3 462.5h0M961.3 476h0M1052.7 488.6h0M1055.1 323h0M996 208.2h0M1012.4 212.4h0M1010.9 184.1h0M999.8 147.3h0M1071 219.9h0M1032.3 125.6h0M1011.5 231h0M968.3 204.2h0M1111 257.9h0M1117.9 293.8h0M1103.2 311.1h0M1002.3 232h0M945.8 289.9h0M1038.2 202.7h0M956.4 225.2h0M1061.8 304.6h0M1100.4 273.7h0M1042.6 276.4h0M1445.3 290.7h0M1356 388.7h0M1309.1 359.7h0M1333.7 262.1h0M1479.7 351.5h0M1200.6 429.7h0M1269.7 276.7h0M1317.5 248.2h0M1471.3 353h0M1207.9 376.4h0M1472.8 272.3h0M1288.6 246.5h0M1429 246h0M1313.8 341.3h0M1355.9 369.8h0M1323.3 370.3h0M1232.1 382.8h0M1478.8 329.8h0M1227.2 417.7h0M1486.7 310.5h0M1429.7 364.2h0M1272 326.4h0M1379.4 230.8h0M1262.3 305.9h0M1470.4 393.3h0M1378 245.8h0M1300.1 315.7h0M1332.4 332.2h0M1223 154.7h0M1181.4 204h0M1169 172.4h0M1202.8 168.6h0M1233.5 172.3h0M1154.8 225.3h0M1238.9 170.6h0M1159.7 175.1h0M1162.5 176.1h0M1182.7 191.9h0M1154 227h0M1154.2 143.2h0M1123.1 302.6h0M1112.9 441.4h0M1147.9 375h0M1120.7 391.5h0M1205.1 406.6h0M1141.6 467.8h0M1123.9 317.1h0M1200.1 304.5h0M1178.6 305.3h0M1146.3 406.6h0M1182 409.8h0M1209.4 496.2h0M1236.9 490.5h0M1407.9 550.7h0M1232.9 589.5h0M1359.2 425.6h0M1317.3 633.2h0M1257.6 438.6h0M1352.7 409.1h0M1201.5 636.4h0M1292.8 506.4h0M1145.3 475.8h0M1413.5 450.7h0M1080.2 620.2h0M1138.1 603.7h0M1113.1 446.9h0M1293.5 618.8h0M1088.6 660.7h0M1012.3 600.8h0M1273.7 630h0M1002.2 714.1h0M1251.9 690.2h0M1299 522.9h0M1246.8 535.3h0M1154.5 536h0M1183.1 537.2h0M1149.6 533.6h0M1205.2 530.6h0M1284 547.4h0M1138.8 586.4h0M1152 512.8h0M1247.7 597.1h0M1126.1 512.4h0M1228.4 559.9h0M1256.9 501h0M1211.9 572.6h0M1156.8 594.1h0M1140.2 594.4h0M1102.7 610.1h0M1112.3 569h0M1167.3 567.9h0M1169.2 569.5h0M1213.8 542.4h0M1472.9 178.9h0M1399.4 181.1h0M1404.6 185.6h0M1459 192.7h0M1445.2 212.2h0M1434.4 249h0M1463.8 192.9h0M1411.5 260.9h0M1469.3 176.2h0M1420.1 214.3h0M1414.8 226.3h0M1445.1 152.6h0M1331.6 123.4h0M1359.9 162.3h0M1361.9 176.3h0M1344.7 178.9h0M1403.6 133.9h0M1319.2 117.5h0M1405.9 411h0M1394.4 299.3h0M1490.8 404.4h0M1525.4 416h0M1507.3 343.2h0M1483.2 399.7h0M1406.5 413.7h0M1503.5 343.5h0M1549.3 420h0M1532.1 394h0M1502.4 405.3h0M1543.5 344.8h0M1414.5 315h0M1538.8 337.8h0M1534.7 437.7h0M1447 346.3h0M1410.6 370.9h0M1422.8 413.2h0M1399.3 386.3h0M1430.1 432.7h0M1442 362.4h0M1443.5 394h0M1189.5 199.8h0M1242 365.5h0M1217.7 339h0M1225.6 169.5h0M1214.2 231.6h0M1276.7 283.2h0M1315.1 281.4h0M1261 245.4h0M1291.9 203.3h0M1252.6 365.7h0M1267 167.5h0M1310.8 202h0M1224.3 283.6h0M1219.2 376h0M1392 364.8h0M1167.4 203.5h0M1046.3 594.5h0M1115.4 530.6h0M1016.1 518.3h0M984.1 643.2h0M1058.3 580h0M1116.8 576.2h0M1044.6 610.7h0M1107 596.8h0M1294.3 556.3h0M1316.3 559.3h0M1417.8 471h0M1359.7 487.8h0M1345.3 534.8h0M1401.7 470.8h0M1363.4 522.3h0M1370.2 454.6h0M1342.8 499.1h0M1414.8 538.7h0M1381.1 473.6h0M1416.7 467.5h0M1335.6 458.8h0M1369.5 535.5h0M1384.7 539.3h0M1384.8 518.4h0M1324 555h0M1423.7 527.9h0M1424.6 546h0M1408.4 530.8h0M1399.6 522.9h0M1307.2 540.5h0M1337.6 517.2h0M1411.4 499.2h0M1326.5 506.4h0M1408.2 540.9h0M1247 482h0M1422.3 545h0M1372.9 667.3h0M1230.1 725.3h0M1163.3 559.4h0M998 494.3h0M1066.1 311.3h0M1242.8 329.2h0M1286.7 425.8h0M1354.6 453.9h0M1244 519h0M1426.8 584.3h0M1308.8 676.6h0M1197.9 649.7h0M1181 536.2h0M1061.1 472.5h0M1188.9 422.3h0M1264.8 457.2h0M1476 413.8h0M1554 324h0M1540.8 366.2h0M1466.6 420.6h0M1502.8 350.7h0M1499.7 337.9h0M1446.2 294.4h0M1436.1 256.2h0M1498.6 227.4h0M1526.7 201.3h0M1212 502h0M1410.1 587.5h0M1231.7 573.5h0M1184.7 605.7h0M1090.6 535.1h0M1051.6 442.4h0M1156.6 362.7h0M1283.7 367.1h0M1294.9 475.2h0M1003 425.3h0M1007.2 570.7h0M1408.1 481.7h0M1070.2 223.7h0M1034.4 427.2h0M1323.1 274.6h0M1148.6 672.7h0M1404.8 307.8h0M1122.3 501.7h0M1326.9 549.4h0M1228.4 644.8h0M1008.9 219.3h0M1242.7 199.5h0M1270 515.9h0M1213.6 516.3h0M1253.6 396.4h0M1237 567.5h0M996 517.9h0M1041 306.2h0M1175.8 209.9h0M945.2 495.3h0M1508.5 416.6h0M1417.2 523.9h0M1441.5 503.2h0M1228 455.8h0M1352.8 326.7h0M1356.8 283.5h0M1078.8 580.2h0M1050.4 299.5h0M1295.8 302.5h0M1330.7 247.2h0M1426.4 353.8h0M1317.2 659.8h0M1127.9 223.9h0M1516.1 638.9h0M1456 314h0M1211.7 596.2h0M1493.9 618.3h0M1165.3 306.2h0M1473.3 301.6h0M1366.5 478.3h0M961.3 277.7h0M1080.8 246.3h0M1262.9 452.3h0M1227.1 171.4h0M1333.6 585.7h0M1333.4 486.3h0M1041.7 323.6h0M1283 487h0M1448.9 586.7h0M1269.6 530.7h0M1592 298.1h0M1107.3 485.8h0M970.3 243.7h0M1438.2 210.7h0M1096.9 639h0M1189.9 694.1h0M1376.8 223.5h0M1060.9 315.7h0M1094.2 621.4h0M1005.8 749.5h0M999.1 208.9h0M1333 565.4h0M1230.2 316.3h0M1447.5 563.8h0M1244.4 248.2h0M1343.7 541.6h0M1572 669.4h0M1030.7 434.4h0M1188.3 401.8h0M1247.4 225.4h0M964.9 396.5h0M1527.6 537.9h0M983.7 249.3h0M1490.7 296.5h0M1101.8 317.1h0M1133.7 424.3h0M1145.2 595.5h0M1617.8 782h0M1147.5 620.6h0M1118.4 579.5h0M1431 467.7h0M1401.5 303.5h0M1211.6 399h0M1407.9 697.2h0M1595.1 298h0M1452.2 278.6h0M1233.1 419.4h0M1185 373.7h0M1631.3 412.2h0M1072.3 198.4h0M1529.2 609h0M1251.9 634.3h0M1415.2 272.8h0M1091.6 328h0M1331.4 616.7h0M1439.5 412.7h0M1189.1 314.5h0M1338.4 750.6h0M1377.5 566.3h0M1174.7 647.8h0M1244.7 340.7h0M1225.8 625.9h0M1048.3 473.5h0M1436.4 639.5h0M1057.4 219h0M1308.5 286.9h0M1130.2 530.9h0M1606.6 492h0M1542.2 474.8h0M1145.3 611.8h0M1107.3 157.2h0M1453.8 462.9h0M995.2 373.4h0M1251.3 609.4h0M1391 569.9h0M1290.7 858.1h0M1266.3 578.9h0M1336.7 642.7h0M1186.9 623.5h0M1089.8 403h0M1307.4 556.7h0M1050.8 193.6h0M1401.6 307.9h0M1544.3 276.4h0M1367.1 591.2h0M1142.4 324.1h0M1240.1 804.1h0M963 173.2h0M1309.2 298.4h0M1444.4 713.8h0M1283 417.7h0M1373 596.3h0M1246.2 544h0M1196.7 590h0M1174.7 375.4h0M1219.7 169.9h0M1258.8 278.3h0M1361.1 333h0M1113.4 366.4h0M1098.3 286.6h0M1543.2 618.7h0M1472.5 681.7h0M1259.1 371.2h0M1575 181h0M1683 182h0M1787 186h0M1683 182h0M1801 272h0M1812 256h0M1644 368h0M1728 370h0M1580 300h0M1645 575h0M1727 577h0M1560 500h0M1775 710h0M1685 602h0M1763 795h0M1812 800h0M1808 802h0M1504 797h0M1440 770h0M1450 860h0M1612 630h0M1560 600h0M1612 560h0M1640 625h0M1612 630h0M1689 473h0M1600 440h0M1665 555h0M1630 470h0M1608 305h0M1610 350h0M1550 330h0M1608 305h0M1570 560h0M1668 498h0M1600 540h0M1668 498h0M1555 460h0M1650 520h0M1575 186h0M1570 140h0M1289 207h0M1409 276h0M1256 336h0M1153 141h0M1454 204h0M1506 199h0M1520 186h0M1521 213h0M1564 213h0M1573 217h0M1555 230h0M1515 272h0M1527 273h0M1538 278h0M1544 271h0M1552 278h0M1481 256h0M1494 258h0M1573 276h0M1609 304h0M1604 331h0M1615 347h0M1576 327h0M1573 310h0M1557 311h0M1429 773h0M1467 784h0M1462 815h0M1414 800h0M1454 862h0M1440 857h0M1552 718h0M1582 703h0M1330 880h0M940 723h0M958 772h0M1041 734h0M1159 765h0M1235 700h0M1056 622h0M1009 786h0M1017 855h0M972 625h0M1031 788h0M1078 877h0M1071 732h0M1073 625h0M1122 830h0M1133 622h0M1147 869h0M1150 800h0M1200 882h0M1185 885h0M1197 753h0M1150 690h0M1260 720h0M1090 712h0M1098 720h0M1105 708h0M1170.3 657.7h0M1112 726h0M1215.5 652.5h0M1118 715h0M1095 730h0M1121 705h0M1227 627.7h0M987 788h0M1180 705h0M1187 712h0M1195 720h0M1048 640h0M819.4 614.4h0M861.1 443.6h0M807.9 677.5h0M877.2 507.2h0M909.4 682.4h0M815.8 312.8h0M899.2 574.1h0M901 695.2h0M839 310.2h0M832.1 251.9h0M917.4 591.6h0M918.2 371.4h0M820.4 485.3h0M925.9 155.7h0M1475.8 927.1h0M1174.1 933.2h0M1189.3 939.2h0M1286.6 917.5h0M1344.2 905.5h0M1373.5 967.1h0M1432.2 909.9h0M1157.4 900.4h0M1320.1 903.4h0M1331.7 23.5h0M1094.1 82h0M1400.7 59.9h0M1438.9 20.9h0M1302.7 50h0M1054.4 29.4h0M1163 89.1h0M1085.2 24.7h0M1048.9 23.4h0M1471.9 82.7h0M1433.9 48.6h0M1492.5 28.1h0M1423.1 39.3h0M1132 44.3h0" stroke="#1e1d3b" stroke-width="2.3" stroke-linecap="round" fill="none"/>
<circle cx="1044" cy="287" r="8" fill="#4b3f72"/>
<circle cx="1044" cy="287" r="1.6" fill="#1e1d3b"/>
<circle cx="1212" cy="502" r="7" fill="#4b3f72"/>
<circle cx="1212" cy="502" r="1.6" fill="#1e1d3b"/>
<circle cx="1440" cy="462" r="10" fill="#1e1d3b"/>
<circle cx="1447" cy="629" r="5.5" fill="#1e1d3b"/>
<circle cx="1151" cy="257" r="3.5" fill="#1e1d3b"/>
<circle cx="1195" cy="616" r="2.5" fill="#1e1d3b"/>
<circle cx="985" cy="658" r="2" fill="#1e1d3b"/>
<circle cx="1472" cy="175" r="1.8" fill="#1e1d3b"/>
<circle cx="1475" cy="288" r="1.8" fill="#1e1d3b"/>
<text x="1454" y="466.5" style="font-size:14px;fill:#000;font-family:'Liberation Sans',Arial,sans-serif">RealAlexJones</text>
</g></svg>
<div class="btn" style="left:1730px"><div style="position:absolute;left:17px;top:17px;width:13px;height:3.4px;background:#fff;border-radius:1px"></div></div>
<div class="btn" style="left:1781px"><div style="position:absolute;left:17.5px;top:17px;width:12.5px;height:3.4px;background:#fff;border-radius:1px"></div><div style="position:absolute;left:22px;top:12.4px;width:3.4px;height:12.4px;background:#fff;border-radius:1px"></div></div>
<div class="txt" style="left:1496px;top:861px">Click on network nodes and edges for details.</div>
</body></html>
